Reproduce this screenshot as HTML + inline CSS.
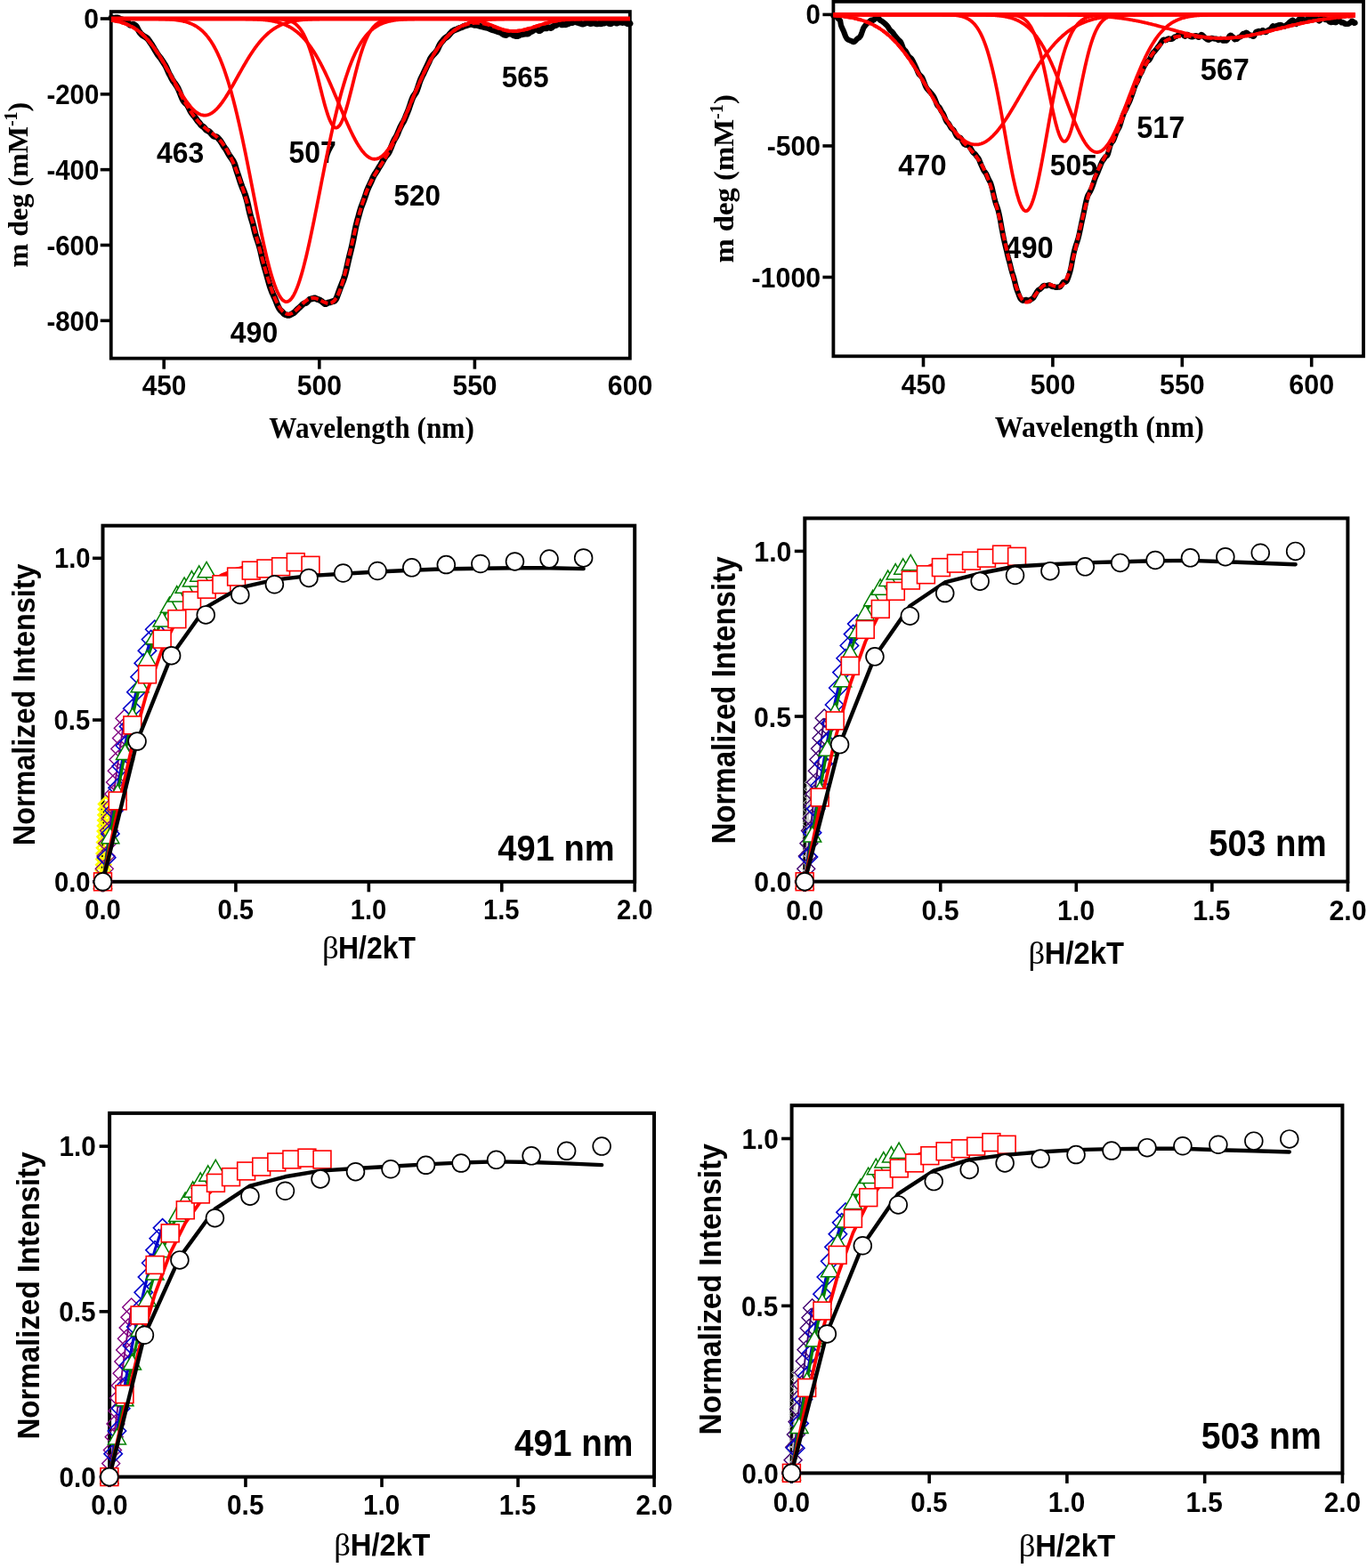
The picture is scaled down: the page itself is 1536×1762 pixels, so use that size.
<!DOCTYPE html>
<html><head><meta charset="utf-8"><title>Figure</title>
<style>html,body{margin:0;padding:0;background:#fff;} svg{display:block;}</style></head>
<body><svg width="1536" height="1762" viewBox="0 0 1536 1762">
<rect width="1536" height="1762" fill="#fff"/>
<rect x="124.75" y="13.1" width="583.1" height="389.59999999999997" fill="none" stroke="#000" stroke-width="3.8"/>
<line x1="112.75" y1="21.00" x2="124.75" y2="21.00" stroke="#000" stroke-width="3.6"/>
<line x1="112.75" y1="105.83" x2="124.75" y2="105.83" stroke="#000" stroke-width="3.6"/>
<line x1="112.75" y1="190.65" x2="124.75" y2="190.65" stroke="#000" stroke-width="3.6"/>
<line x1="112.75" y1="275.48" x2="124.75" y2="275.48" stroke="#000" stroke-width="3.6"/>
<line x1="112.75" y1="360.30" x2="124.75" y2="360.30" stroke="#000" stroke-width="3.6"/>
<line x1="184.20" y1="402.7" x2="184.20" y2="414.7" stroke="#000" stroke-width="3.6"/>
<line x1="358.79" y1="402.7" x2="358.79" y2="414.7" stroke="#000" stroke-width="3.6"/>
<line x1="533.39" y1="402.7" x2="533.39" y2="414.7" stroke="#000" stroke-width="3.6"/>
<text transform="translate(175.92,183.00) scale(0.9469,1)" font-family="'Liberation Sans', Arial, sans-serif" font-weight="bold" font-size="33.69" fill="#000" >463</text>
<text transform="translate(324.56,183.40) scale(0.9310,1)" font-family="'Liberation Sans', Arial, sans-serif" font-weight="bold" font-size="34.27" fill="#000" >507</text>
<text transform="translate(442.58,231.20) scale(0.9586,1)" font-family="'Liberation Sans', Arial, sans-serif" font-weight="bold" font-size="32.83" fill="#000" >520</text>
<text transform="translate(563.67,97.50) scale(0.9520,1)" font-family="'Liberation Sans', Arial, sans-serif" font-weight="bold" font-size="33.26" fill="#000" >565</text>
<text transform="translate(258.82,385.30) scale(0.9378,1)" font-family="'Liberation Sans', Arial, sans-serif" font-weight="bold" font-size="34.12" fill="#000" >490</text>
<path d="M125.19,20.08 L126.02,20.05 L126.85,20.13 L127.69,20.22 L128.52,20.21 L129.36,20.12 L130.19,20.01 L131.02,19.94 L131.86,19.98 L132.69,20.16 L133.52,20.51 L134.36,20.97 L135.19,21.41 L136.03,21.73 L136.86,21.96 L137.69,22.21 L138.53,22.56 L139.36,22.98 L140.19,23.35 L141.03,23.55 L141.86,23.67 L142.70,23.98 L143.53,24.77 L144.36,26.02 L145.20,27.32 L146.03,28.18 L146.86,28.35 L147.70,28.00 L148.53,27.55 L149.37,27.34 L150.20,27.48 L151.03,27.87 L151.87,28.40 L152.70,29.12 L153.53,30.21 L154.37,31.70 L155.20,33.37 L156.04,34.93 L156.87,36.20 L157.70,37.27 L158.54,38.21 L159.37,39.03 L160.20,39.72 L161.04,40.27 L161.87,40.74 L162.71,41.21 L163.54,41.68 L164.37,42.21 L165.21,42.86 L166.04,43.74 L166.87,44.83 L167.71,46.04 L168.54,47.27 L169.38,48.47 L170.21,49.68 L171.04,50.97 L171.88,52.37 L172.71,53.84 L173.54,55.28 L174.38,56.66 L175.21,57.98 L176.05,59.34 L176.88,60.69 L177.71,61.93 L178.55,63.00 L179.38,63.99 L180.22,65.06 L181.05,66.24 L181.88,67.47 L182.72,68.69 L183.55,69.95 L184.38,71.27 L185.22,72.62 L186.05,74.05 L186.89,75.66 L187.72,77.50 L188.55,79.52 L189.39,81.45 L190.22,83.11 L191.05,84.62 L191.89,86.18 L192.72,87.85 L193.56,89.47 L194.39,90.85 L195.22,92.01 L196.06,93.12 L196.89,94.30 L197.72,95.54 L198.56,96.79 L199.39,98.16 L200.23,99.75 L201.06,101.60 L201.89,103.67 L202.73,105.84 L203.56,108.02 L204.39,110.05 L205.23,111.83 L206.06,113.30 L206.90,114.46 L207.73,115.39 L208.56,116.17 L209.40,116.92 L210.23,117.78 L211.06,118.95 L211.90,120.49 L212.73,122.27 L213.57,124.04 L214.40,125.56 L215.23,126.82 L216.07,127.95 L216.90,129.04 L217.73,130.08 L218.57,131.07 L219.40,132.11 L220.24,133.26 L221.07,134.49 L221.90,135.65 L222.74,136.65 L223.57,137.56 L224.40,138.55 L225.24,139.69 L226.07,140.75 L226.91,141.51 L227.74,141.99 L228.57,142.51 L229.41,143.31 L230.24,144.34 L231.07,145.33 L231.91,146.10 L232.74,146.63 L233.58,147.03 L234.41,147.45 L235.24,148.00 L236.08,148.79 L236.91,149.76 L237.74,150.76 L238.58,151.71 L239.41,152.49 L240.25,153.04 L241.08,153.35 L241.91,153.47 L242.75,153.59 L243.58,153.91 L244.41,154.54 L245.25,155.40 L246.08,156.38 L246.92,157.40 L247.75,158.48 L248.58,159.69 L249.42,161.01 L250.25,162.47 L251.08,163.93 L251.92,165.26 L252.75,166.38 L253.59,167.44 L254.42,168.69 L255.25,170.21 L256.09,171.88 L256.92,173.41 L257.75,174.71 L258.59,175.89 L259.42,177.09 L260.26,178.31 L261.09,179.48 L261.92,180.73 L262.76,182.29 L263.59,184.36 L264.42,186.92 L265.26,189.70 L266.09,192.41 L266.93,194.97 L267.76,197.47 L268.59,200.00 L269.43,202.60 L270.26,205.17 L271.09,207.60 L271.93,209.83 L272.76,211.83 L273.60,213.75 L274.43,215.82 L275.26,218.13 L276.10,220.66 L276.93,223.43 L277.76,226.52 L278.60,230.06 L279.43,233.91 L280.27,237.73 L281.10,241.19 L281.93,244.19 L282.77,246.89 L283.60,249.62 L284.44,252.68 L285.27,256.13 L286.10,259.71 L286.94,262.98 L287.77,265.76 L288.60,268.24 L289.44,270.63 L290.27,273.12 L291.11,275.76 L291.94,278.67 L292.77,281.99 L293.61,285.68 L294.44,289.49 L295.27,293.09 L296.11,296.35 L296.94,299.30 L297.78,302.17 L298.61,305.06 L299.44,308.03 L300.28,311.05 L301.11,314.07 L301.94,317.05 L302.78,319.93 L303.61,322.66 L304.45,325.14 L305.28,327.36 L306.11,329.34 L306.95,331.15 L307.78,332.91 L308.61,334.73 L309.45,336.69 L310.28,338.79 L311.12,340.97 L311.95,343.06 L312.78,344.90 L313.62,346.43 L314.45,347.67 L315.28,348.65 L316.12,349.47 L316.95,350.29 L317.79,351.17 L318.62,352.07 L319.45,352.84 L320.29,353.37 L321.12,353.71 L321.95,353.96 L322.79,354.20 L323.62,354.34 L324.46,354.32 L325.29,354.10 L326.12,353.72 L326.96,353.28 L327.79,352.81 L328.62,352.40 L329.46,351.96 L330.29,351.43 L331.13,350.72 L331.96,349.87 L332.79,348.99 L333.63,348.14 L334.46,347.35 L335.29,346.57 L336.13,345.82 L336.96,345.09 L337.80,344.31 L338.63,343.49 L339.46,342.63 L340.30,341.86 L341.13,341.30 L341.96,340.95 L342.80,340.72 L343.63,340.41 L344.47,339.91 L345.30,339.16 L346.13,338.21 L346.97,337.27 L347.80,336.50 L348.63,336.09 L349.47,335.94 L350.30,335.85 L351.14,335.62 L351.97,335.27 L352.80,334.97 L353.64,334.94 L354.47,335.22 L355.30,335.68 L356.14,336.13 L356.97,336.46 L357.81,336.67 L358.64,336.92 L359.47,337.28 L360.31,337.78 L361.14,338.35 L361.97,338.95 L362.81,339.62 L363.64,340.39 L364.48,341.10 L365.31,341.54 L366.14,341.54 L366.98,341.15 L367.81,340.59 L368.64,340.14 L369.48,339.91 L370.31,339.82 L371.15,339.68 L371.98,339.38 L372.81,338.98 L373.65,338.65 L374.48,338.49 L375.31,338.32 L376.15,337.88 L376.98,336.97 L377.82,335.50 L378.65,333.58 L379.48,331.35 L380.32,329.03 L381.15,326.73 L381.98,324.50 L382.82,322.33 L383.65,320.22 L384.49,318.19 L385.32,316.15 L386.15,313.95 L386.99,311.46 L387.82,308.61 L388.65,305.39 L389.49,301.81 L390.32,298.01 L391.16,294.20 L391.99,290.60 L392.82,287.20 L393.66,283.88 L394.49,280.48 L395.33,276.94 L396.16,273.19 L396.99,269.18 L397.83,264.91 L398.66,260.52 L399.49,256.32 L400.33,252.56 L401.16,249.28 L402.00,246.30 L402.83,243.32 L403.66,240.24 L404.50,237.18 L405.33,234.41 L406.16,232.02 L407.00,229.89 L407.83,227.78 L408.67,225.53 L409.50,223.14 L410.33,220.63 L411.17,218.06 L412.00,215.57 L412.83,213.31 L413.67,211.33 L414.50,209.53 L415.34,207.80 L416.17,206.05 L417.00,204.27 L417.84,202.41 L418.67,200.47 L419.50,198.61 L420.34,196.98 L421.17,195.65 L422.01,194.48 L422.84,193.28 L423.67,191.93 L424.51,190.46 L425.34,188.99 L426.17,187.63 L427.01,186.31 L427.84,184.94 L428.68,183.48 L429.51,182.05 L430.34,180.66 L431.18,179.25 L432.01,177.82 L432.84,176.47 L433.68,175.35 L434.51,174.45 L435.35,173.59 L436.18,172.54 L437.01,171.18 L437.85,169.46 L438.68,167.48 L439.51,165.37 L440.35,163.25 L441.18,161.20 L442.02,159.26 L442.85,157.50 L443.68,155.98 L444.52,154.64 L445.35,153.22 L446.18,151.52 L447.02,149.55 L447.85,147.49 L448.69,145.49 L449.52,143.61 L450.35,141.87 L451.19,140.27 L452.02,138.85 L452.85,137.49 L453.69,136.02 L454.52,134.27 L455.36,132.25 L456.19,130.13 L457.02,128.08 L457.86,126.08 L458.69,124.00 L459.52,121.73 L460.36,119.25 L461.19,116.72 L462.03,114.25 L462.86,111.90 L463.69,109.83 L464.53,108.17 L465.36,106.94 L466.19,105.87 L467.03,104.63 L467.86,102.97 L468.70,100.88 L469.53,98.46 L470.36,95.86 L471.20,93.28 L472.03,90.89 L472.86,88.80 L473.70,86.97 L474.53,85.28 L475.37,83.61 L476.20,81.89 L477.03,80.09 L477.87,78.28 L478.70,76.49 L479.53,74.78 L480.37,73.07 L481.20,71.29 L482.04,69.44 L482.87,67.59 L483.70,65.86 L484.54,64.39 L485.37,63.21 L486.20,62.26 L487.04,61.39 L487.87,60.53 L488.71,59.64 L489.54,58.72 L490.37,57.68 L491.21,56.38 L492.04,54.73 L492.87,52.87 L493.71,51.04 L494.54,49.50 L495.38,48.31 L496.21,47.33 L497.04,46.34 L497.88,45.27 L498.71,44.18 L499.55,43.28 L500.38,42.62 L501.21,42.14 L502.05,41.66 L502.88,41.04 L503.71,40.22 L504.55,39.26 L505.38,38.25 L506.22,37.25 L507.05,36.33 L507.88,35.54 L508.72,34.89 L509.55,34.36 L510.38,33.94 L511.22,33.61 L512.05,33.31 L512.89,33.00 L513.72,32.66 L514.55,32.29 L515.39,31.91 L516.22,31.57 L517.05,31.26 L517.89,30.99 L518.72,30.69 L519.56,30.33 L520.39,29.91 L521.22,29.50 L522.06,29.15 L522.89,28.91 L523.72,28.72 L524.56,28.53 L525.39,28.27 L526.23,27.95 L527.06,27.61 L527.89,27.34 L528.73,27.20 L529.56,27.21 L530.39,27.37 L531.23,27.63 L532.06,27.93 L532.90,28.17 L533.73,28.27 L534.56,28.27 L535.40,28.25 L536.23,28.32 L537.06,28.53 L537.90,28.81 L538.73,29.12 L539.57,29.38 L540.40,29.57 L541.23,29.72 L542.07,29.89 L542.90,30.13 L543.73,30.43 L544.57,30.71 L545.40,30.91 L546.24,31.04 L547.07,31.16 L547.90,31.35 L548.74,31.65 L549.57,32.02 L550.40,32.41 L551.24,32.79 L552.07,33.14 L552.91,33.47 L553.74,33.74 L554.57,33.95 L555.41,34.16 L556.24,34.40 L557.07,34.69 L557.91,35.02 L558.74,35.33 L559.58,35.58 L560.41,35.79 L561.24,36.00 L562.08,36.29 L562.91,36.72 L563.74,37.28 L564.58,37.92 L565.41,38.54 L566.25,39.02 L567.08,39.29 L567.91,39.35 L568.75,39.43 L569.58,38.80 L570.41,38.18 L571.25,37.83 L572.08,37.80 L572.92,37.94 L573.75,38.05 L574.58,38.18 L575.42,38.56 L576.25,39.13 L577.08,39.62 L577.92,39.93 L578.75,40.22 L579.59,40.50 L580.42,40.60 L581.25,40.49 L582.09,40.27 L582.92,39.93 L583.75,39.42 L584.59,38.83 L585.42,38.51 L586.26,38.58 L587.09,38.66 L587.92,38.46 L588.76,38.14 L589.59,37.99 L590.42,38.05 L591.26,38.11 L592.09,38.07 L592.93,37.96 L593.76,37.67 L594.59,37.04 L595.43,36.22 L596.26,35.64 L597.09,35.38 L597.93,35.10 L598.76,34.55 L599.60,33.86 L600.43,33.30 L601.26,32.99 L602.10,32.82 L602.93,32.80 L603.77,33.17 L604.60,33.89 L605.43,34.50 L606.27,34.62 L607.10,34.20 L607.93,33.51 L608.77,32.82 L609.60,32.28 L610.44,31.84 L611.27,31.51 L612.10,31.41 L612.94,31.61 L613.77,31.86 L614.60,31.70 L615.44,31.14 L616.27,30.77 L617.11,30.88 L617.94,31.26 L618.77,31.52 L619.61,31.25 L620.44,30.45 L621.27,29.69 L622.11,29.28 L622.94,28.99 L623.78,28.73 L624.61,28.45 L625.44,27.97 L626.28,27.34 L627.11,26.71 L627.94,26.20 L628.78,26.15 L629.61,26.69 L630.45,27.37 L631.28,27.80 L632.11,27.87 L632.95,27.57 L633.78,27.24 L634.61,27.35 L635.45,27.64 L636.28,27.52 L637.12,27.06 L637.95,26.74 L638.78,26.54 L639.62,26.16 L640.45,25.69 L641.28,25.48 L642.12,25.59 L642.95,25.60 L643.79,25.24 L644.62,24.64 L645.45,24.12 L646.29,24.07 L647.12,24.53 L647.95,24.99 L648.79,25.21 L649.62,25.47 L650.46,25.80 L651.29,25.94 L652.12,26.05 L652.96,26.45 L653.79,26.93 L654.62,27.08 L655.46,26.88 L656.29,26.56 L657.13,26.29 L657.96,26.00 L658.79,25.66 L659.63,25.33 L660.46,25.17 L661.29,25.43 L662.13,26.05 L662.96,26.53 L663.80,26.52 L664.63,26.25 L665.46,26.04 L666.30,25.91 L667.13,25.85 L667.96,25.91 L668.80,26.18 L669.63,26.55 L670.47,26.78 L671.30,26.79 L672.13,26.64 L672.97,26.45 L673.80,26.41 L674.63,26.61 L675.47,26.74 L676.30,26.49 L677.14,26.10 L677.97,26.01 L678.80,26.00 L679.64,25.46 L680.47,24.60 L681.30,24.22 L682.14,24.60 L682.97,25.39 L683.81,26.08 L684.64,26.44 L685.47,26.62 L686.31,26.66 L687.14,26.27 L687.97,25.62 L688.81,25.24 L689.64,25.18 L690.48,25.18 L691.31,25.34 L692.14,25.78 L692.98,26.08 L693.81,25.87 L694.64,25.34 L695.48,24.98 L696.31,24.95 L697.15,25.04 L697.98,25.16 L698.81,25.36 L699.65,25.44 L700.48,25.26 L701.31,25.04 L702.15,25.01 L702.98,25.31 L703.82,25.91 L704.65,26.52 L705.48,26.81 L706.32,26.81 L707.15,26.64 L707.98,26.39" fill="none" stroke="#000" stroke-width="7" stroke-linejoin="round" stroke-linecap="round"/>
<path d="M125.19,22.83 L126.02,22.96 L126.85,23.09 L127.69,23.22 L128.52,23.37 L129.36,23.52 L130.19,23.68 L131.02,23.85 L131.86,24.03 L132.69,24.22 L133.52,24.42 L134.36,24.63 L135.19,24.85 L136.03,25.08 L136.86,25.33 L137.69,25.58 L138.53,25.85 L139.36,26.14 L140.19,26.43 L141.03,26.74 L141.86,27.06 L142.70,27.40 L143.53,27.76 L144.36,28.13 L145.20,28.52 L146.03,28.92 L146.86,29.34 L147.70,29.78 L148.53,30.24 L149.37,30.71 L150.20,31.21 L151.03,31.72 L151.87,32.26 L152.70,32.82 L153.53,33.39 L154.37,33.99 L155.20,34.61 L156.04,35.26 L156.87,35.92 L157.70,36.61 L158.54,37.32 L159.37,38.06 L160.20,38.82 L161.04,39.61 L161.87,40.42 L162.71,41.25 L163.54,42.11 L164.37,42.99 L165.21,43.90 L166.04,44.84 L166.87,45.80 L167.71,46.79 L168.54,47.80 L169.38,48.83 L170.21,49.90 L171.04,50.99 L171.88,52.10 L172.71,53.24 L173.54,54.40 L174.38,55.59 L175.21,56.80 L176.05,58.04 L176.88,59.30 L177.71,60.58 L178.55,61.88 L179.38,63.21 L180.22,64.56 L181.05,65.92 L181.88,67.31 L182.72,68.72 L183.55,70.14 L184.38,71.59 L185.22,73.05 L186.05,74.52 L186.89,76.01 L187.72,77.51 L188.55,79.03 L189.39,80.56 L190.22,82.10 L191.05,83.64 L191.89,85.20 L192.72,86.76 L193.56,88.33 L194.39,89.90 L195.22,91.48 L196.06,93.06 L196.89,94.63 L197.72,96.21 L198.56,97.78 L199.39,99.36 L200.23,100.92 L201.06,102.48 L201.89,104.03 L202.73,105.57 L203.56,107.10 L204.39,108.62 L205.23,110.13 L206.06,111.62 L206.90,113.09 L207.73,114.55 L208.56,115.99 L209.40,117.40 L210.23,118.80 L211.06,120.17 L211.90,121.52 L212.73,122.84 L213.57,124.14 L214.40,125.41 L215.23,126.65 L216.07,127.86 L216.90,129.04 L217.73,130.19 L218.57,131.30 L219.40,132.39 L220.24,133.44 L221.07,134.46 L221.90,135.45 L222.74,136.40 L223.57,137.32 L224.40,138.21 L225.24,139.07 L226.07,139.90 L226.91,140.69 L227.74,141.46 L228.57,142.21 L229.41,142.93 L230.24,143.62 L231.07,144.30 L231.91,144.95 L232.74,145.60 L233.58,146.23 L234.41,146.85 L235.24,147.46 L236.08,148.07 L236.91,148.69 L237.74,149.30 L238.58,149.93 L239.41,150.56 L240.25,151.21 L241.08,151.88 L241.91,152.58 L242.75,153.29 L243.58,154.04 L244.41,154.82 L245.25,155.64 L246.08,156.49 L246.92,157.39 L247.75,158.33 L248.58,159.31 L249.42,160.35 L250.25,161.43 L251.08,162.57 L251.92,163.76 L252.75,165.00 L253.59,166.30 L254.42,167.65 L255.25,169.06 L256.09,170.53 L256.92,172.06 L257.75,173.64 L258.59,175.28 L259.42,176.98 L260.26,178.74 L261.09,180.55 L261.92,182.42 L262.76,184.35 L263.59,186.33 L264.42,188.37 L265.26,190.47 L266.09,192.62 L266.93,194.83 L267.76,197.08 L268.59,199.40 L269.43,201.76 L270.26,204.18 L271.09,206.65 L271.93,209.17 L272.76,211.74 L273.60,214.36 L274.43,217.02 L275.26,219.74 L276.10,222.49 L276.93,225.30 L277.76,228.14 L278.60,231.02 L279.43,233.94 L280.27,236.90 L281.10,239.89 L281.93,242.91 L282.77,245.96 L283.60,249.03 L284.44,252.13 L285.27,255.25 L286.10,258.38 L286.94,261.53 L287.77,264.68 L288.60,267.84 L289.44,271.01 L290.27,274.17 L291.11,277.32 L291.94,280.46 L292.77,283.59 L293.61,286.70 L294.44,289.79 L295.27,292.84 L296.11,295.87 L296.94,298.86 L297.78,301.81 L298.61,304.71 L299.44,307.56 L300.28,310.36 L301.11,313.09 L301.94,315.77 L302.78,318.38 L303.61,320.91 L304.45,323.38 L305.28,325.76 L306.11,328.06 L306.95,330.27 L307.78,332.39 L308.61,334.42 L309.45,336.36 L310.28,338.19 L311.12,339.93 L311.95,341.56 L312.78,343.09 L313.62,344.50 L314.45,345.81 L315.28,347.01 L316.12,348.10 L316.95,349.08 L317.79,349.95 L318.62,350.70 L319.45,351.35 L320.29,351.88 L321.12,352.31 L321.95,352.63 L322.79,352.85 L323.62,352.96 L324.46,352.98 L325.29,352.90 L326.12,352.73 L326.96,352.46 L327.79,352.12 L328.62,351.70 L329.46,351.20 L330.29,350.64 L331.13,350.02 L331.96,349.34 L332.79,348.61 L333.63,347.85 L334.46,347.05 L335.29,346.22 L336.13,345.37 L336.96,344.51 L337.80,343.65 L338.63,342.79 L339.46,341.95 L340.30,341.12 L341.13,340.32 L341.96,339.56 L342.80,338.83 L343.63,338.15 L344.47,337.52 L345.30,336.95 L346.13,336.45 L346.97,336.01 L347.80,335.63 L348.63,335.33 L349.47,335.10 L350.30,334.95 L351.14,334.86 L351.97,334.85 L352.80,334.90 L353.64,335.02 L354.47,335.20 L355.30,335.43 L356.14,335.72 L356.97,336.04 L357.81,336.40 L358.64,336.79 L359.47,337.20 L360.31,337.62 L361.14,338.05 L361.97,338.48 L362.81,338.89 L363.64,339.29 L364.48,339.66 L365.31,339.99 L366.14,340.29 L366.98,340.52 L367.81,340.70 L368.64,340.82 L369.48,340.85 L370.31,340.79 L371.15,340.64 L371.98,340.39 L372.81,340.02 L373.65,339.52 L374.48,338.89 L375.31,338.12 L376.15,337.20 L376.98,336.12 L377.82,334.87 L378.65,333.45 L379.48,331.86 L380.32,330.10 L381.15,328.15 L381.98,326.03 L382.82,323.74 L383.65,321.28 L384.49,318.66 L385.32,315.88 L386.15,312.96 L386.99,309.91 L387.82,306.73 L388.65,303.44 L389.49,300.05 L390.32,296.59 L391.16,293.05 L391.99,289.46 L392.82,285.83 L393.66,282.17 L394.49,278.50 L395.33,274.83 L396.16,271.18 L396.99,267.55 L397.83,263.95 L398.66,260.40 L399.49,256.91 L400.33,253.49 L401.16,250.14 L402.00,246.87 L402.83,243.68 L403.66,240.58 L404.50,237.58 L405.33,234.68 L406.16,231.87 L407.00,229.16 L407.83,226.56 L408.67,224.05 L409.50,221.64 L410.33,219.33 L411.17,217.12 L412.00,214.99 L412.83,212.95 L413.67,211.00 L414.50,209.13 L415.34,207.32 L416.17,205.59 L417.00,203.93 L417.84,202.32 L418.67,200.76 L419.50,199.26 L420.34,197.79 L421.17,196.36 L422.01,194.97 L422.84,193.60 L423.67,192.25 L424.51,190.92 L425.34,189.60 L426.17,188.29 L427.01,186.98 L427.84,185.67 L428.68,184.35 L429.51,183.03 L430.34,181.70 L431.18,180.35 L432.01,178.99 L432.84,177.60 L433.68,176.20 L434.51,174.77 L435.35,173.32 L436.18,171.85 L437.01,170.35 L437.85,168.82 L438.68,167.26 L439.51,165.68 L440.35,164.07 L441.18,162.43 L442.02,160.76 L442.85,159.06 L443.68,157.34 L444.52,155.59 L445.35,153.82 L446.18,152.02 L447.02,150.19 L447.85,148.35 L448.69,146.48 L449.52,144.59 L450.35,142.68 L451.19,140.76 L452.02,138.82 L452.85,136.86 L453.69,134.90 L454.52,132.92 L455.36,130.93 L456.19,128.93 L457.02,126.92 L457.86,124.91 L458.69,122.89 L459.52,120.88 L460.36,118.86 L461.19,116.84 L462.03,114.83 L462.86,112.82 L463.69,110.81 L464.53,108.81 L465.36,106.83 L466.19,104.85 L467.03,102.88 L467.86,100.92 L468.70,98.98 L469.53,97.05 L470.36,95.14 L471.20,93.25 L472.03,91.37 L472.86,89.52 L473.70,87.68 L474.53,85.87 L475.37,84.08 L476.20,82.31 L477.03,80.56 L477.87,78.85 L478.70,77.15 L479.53,75.49 L480.37,73.85 L481.20,72.23 L482.04,70.65 L482.87,69.09 L483.70,67.57 L484.54,66.07 L485.37,64.60 L486.20,63.16 L487.04,61.75 L487.87,60.37 L488.71,59.03 L489.54,57.71 L490.37,56.42 L491.21,55.16 L492.04,53.94 L492.87,52.74 L493.71,51.58 L494.54,50.44 L495.38,49.34 L496.21,48.26 L497.04,47.22 L497.88,46.21 L498.71,45.22 L499.55,44.26 L500.38,43.33 L501.21,42.43 L502.05,41.56 L502.88,40.72 L503.71,39.90 L504.55,39.11 L505.38,38.35 L506.22,37.61 L507.05,36.90 L507.88,36.22 L508.72,35.56 L509.55,34.92 L510.38,34.31 L511.22,33.73 L512.05,33.16 L512.89,32.62 L513.72,32.11 L514.55,31.61 L515.39,31.14 L516.22,30.69 L517.05,30.26 L517.89,29.85 L518.72,29.46 L519.56,29.10 L520.39,28.75 L521.22,28.42 L522.06,28.12 L522.89,27.83 L523.72,27.56 L524.56,27.32 L525.39,27.09 L526.23,26.88 L527.06,26.69 L527.89,26.52 L528.73,26.36 L529.56,26.23 L530.39,26.11 L531.23,26.01 L532.06,25.93 L532.90,25.87 L533.73,25.83 L534.56,25.80 L535.40,25.79 L536.23,25.80 L537.06,25.83 L537.90,25.87 L538.73,25.93 L539.57,26.01 L540.40,26.10 L541.23,26.22 L542.07,26.34 L542.90,26.48 L543.73,26.64 L544.57,26.81 L545.40,27.00 L546.24,27.20 L547.07,27.41 L547.90,27.64 L548.74,27.87 L549.57,28.12 L550.40,28.38 L551.24,28.65 L552.07,28.92 L552.91,29.20 L553.74,29.49 L554.57,29.78 L555.41,30.08 L556.24,30.38 L557.07,30.68 L557.91,30.98 L558.74,31.27 L559.58,31.57 L560.41,31.86 L561.24,32.15 L562.08,32.43 L562.91,32.70 L563.74,32.97 L564.58,33.22 L565.41,33.46 L566.25,33.69 L567.08,33.90 L567.91,34.10 L568.75,34.29 L569.58,34.45 L570.41,34.60 L571.25,34.73 L572.08,34.84 L572.92,34.93 L573.75,35.00 L574.58,35.05 L575.42,35.08 L576.25,35.09 L577.08,35.07 L577.92,35.05 L578.75,35.01 L579.59,34.95 L580.42,34.89 L581.25,34.81 L582.09,34.71 L582.92,34.61 L583.75,34.49 L584.59,34.36 L585.42,34.22 L586.26,34.06 L587.09,33.90 L587.92,33.72 L588.76,33.53 L589.59,33.34 L590.42,33.13 L591.26,32.92 L592.09,32.70 L592.93,32.47 L593.76,32.23 L594.59,31.99 L595.43,31.74 L596.26,31.49 L597.09,31.23 L597.93,30.97 L598.76,30.71 L599.60,30.44 L600.43,30.18 L601.26,29.91 L602.10,29.64 L602.93,29.36 L603.77,29.09 L604.60,28.82 L605.43,28.56 L606.27,28.29 L607.10,28.03 L607.93,27.76 L608.77,27.51 L609.60,27.25 L610.44,27.00 L611.27,26.75 L612.10,26.51 L612.94,26.27 L613.77,26.04 L614.60,25.82 L615.44,25.59 L616.27,25.38 L617.11,25.17 L617.94,24.97 L618.77,24.77 L619.61,24.58 L620.44,24.39 L621.27,24.21 L622.11,24.04 L622.94,23.87 L623.78,23.71 L624.61,23.56 L625.44,23.41 L626.28,23.27 L627.11,23.14 L627.94,23.01 L628.78,22.89 L629.61,22.77 L630.45,22.66 L631.28,22.55 L632.11,22.45 L632.95,22.35 L633.78,22.26 L634.61,22.18 L635.45,22.10 L636.28,22.02 L637.12,21.95 L637.95,21.88 L638.78,21.82 L639.62,21.76 L640.45,21.70 L641.28,21.65 L642.12,21.60 L642.95,21.55 L643.79,21.51 L644.62,21.47 L645.45,21.43 L646.29,21.40 L647.12,21.36 L647.95,21.33 L648.79,21.31 L649.62,21.28 L650.46,21.26 L651.29,21.23 L652.12,21.21 L652.96,21.19 L653.79,21.18 L654.62,21.16 L655.46,21.15 L656.29,21.13 L657.13,21.12 L657.96,21.11 L658.79,21.10 L659.63,21.09 L660.46,21.08 L661.29,21.07 L662.13,21.07 L662.96,21.06 L663.80,21.05 L664.63,21.05 L665.46,21.04 L666.30,21.04 L667.13,21.03 L667.96,21.03 L668.80,21.03 L669.63,21.02 L670.47,21.02 L671.30,21.02 L672.13,21.02 L672.97,21.02 L673.80,21.01 L674.63,21.01 L675.47,21.01 L676.30,21.01 L677.14,21.01 L677.97,21.01 L678.80,21.01 L679.64,21.01 L680.47,21.01 L681.30,21.00 L682.14,21.00 L682.97,21.00 L683.81,21.00 L684.64,21.00 L685.47,21.00 L686.31,21.00 L687.14,21.00 L687.97,21.00 L688.81,21.00 L689.64,21.00 L690.48,21.00 L691.31,21.00 L692.14,21.00 L692.98,21.00 L693.81,21.00 L694.64,21.00 L695.48,21.00 L696.31,21.00 L697.15,21.00 L697.98,21.00 L698.81,21.00 L699.65,21.00 L700.48,21.00 L701.31,21.00 L702.15,21.00 L702.98,21.00 L703.82,21.00 L704.65,21.00 L705.48,21.00 L706.32,21.00 L707.15,21.00 L707.98,21.00" fill="none" stroke="#f00" stroke-width="4.0" stroke-dasharray="8.5 3.2"/>
<line x1="125.19" y1="21.00" x2="707.98" y2="21.00" stroke="#f00" stroke-width="4.8"/>
<path d="M125.19,22.83 L126.02,22.96 L126.85,23.08 L127.69,23.22 L128.52,23.37 L129.36,23.52 L130.19,23.68 L131.02,23.85 L131.86,24.03 L132.69,24.22 L133.52,24.42 L134.36,24.63 L135.19,24.85 L136.03,25.08 L136.86,25.33 L137.69,25.58 L138.53,25.85 L139.36,26.13 L140.19,26.43 L141.03,26.74 L141.86,27.06 L142.70,27.40 L143.53,27.75 L144.36,28.12 L145.20,28.51 L146.03,28.91 L146.86,29.33 L147.70,29.77 L148.53,30.23 L149.37,30.70 L150.20,31.20 L151.03,31.71 L151.87,32.25 L152.70,32.80 L153.53,33.38 L154.37,33.98 L155.20,34.60 L156.04,35.24 L156.87,35.90 L157.70,36.59 L158.54,37.30 L159.37,38.03 L160.20,38.79 L161.04,39.57 L161.87,40.38 L162.71,41.21 L163.54,42.06 L164.37,42.94 L165.21,43.85 L166.04,44.78 L166.87,45.73 L167.71,46.71 L168.54,47.71 L169.38,48.74 L170.21,49.80 L171.04,50.88 L171.88,51.98 L172.71,53.11 L173.54,54.26 L174.38,55.44 L175.21,56.63 L176.05,57.86 L176.88,59.10 L177.71,60.36 L178.55,61.65 L179.38,62.95 L180.22,64.28 L181.05,65.62 L181.88,66.99 L182.72,68.36 L183.55,69.76 L184.38,71.17 L185.22,72.60 L186.05,74.03 L186.89,75.48 L187.72,76.94 L188.55,78.41 L189.39,79.89 L190.22,81.37 L191.05,82.86 L191.89,84.36 L192.72,85.85 L193.56,87.35 L194.39,88.85 L195.22,90.34 L196.06,91.83 L196.89,93.32 L197.72,94.80 L198.56,96.27 L199.39,97.73 L200.23,99.18 L201.06,100.61 L201.89,102.03 L202.73,103.43 L203.56,104.81 L204.39,106.17 L205.23,107.51 L206.06,108.82 L206.90,110.11 L207.73,111.37 L208.56,112.60 L209.40,113.80 L210.23,114.96 L211.06,116.10 L211.90,117.19 L212.73,118.25 L213.57,119.27 L214.40,120.24 L215.23,121.18 L216.07,122.07 L216.90,122.92 L217.73,123.72 L218.57,124.47 L219.40,125.18 L220.24,125.84 L221.07,126.44 L221.90,127.00 L222.74,127.50 L223.57,127.95 L224.40,128.35 L225.24,128.69 L226.07,128.97 L226.91,129.21 L227.74,129.38 L228.57,129.50 L229.41,129.57 L230.24,129.57 L231.07,129.53 L231.91,129.42 L232.74,129.26 L233.58,129.05 L234.41,128.77 L235.24,128.45 L236.08,128.07 L236.91,127.63 L237.74,127.15 L238.58,126.61 L239.41,126.02 L240.25,125.37 L241.08,124.68 L241.91,123.94 L242.75,123.16 L243.58,122.32 L244.41,121.44 L245.25,120.52 L246.08,119.55 L246.92,118.55 L247.75,117.50 L248.58,116.42 L249.42,115.29 L250.25,114.14 L251.08,112.95 L251.92,111.73 L252.75,110.48 L253.59,109.20 L254.42,107.89 L255.25,106.56 L256.09,105.21 L256.92,103.83 L257.75,102.43 L258.59,101.02 L259.42,99.59 L260.26,98.15 L261.09,96.69 L261.92,95.22 L262.76,93.75 L263.59,92.26 L264.42,90.77 L265.26,89.28 L266.09,87.78 L266.93,86.29 L267.76,84.79 L268.59,83.29 L269.43,81.80 L270.26,80.32 L271.09,78.84 L271.93,77.36 L272.76,75.90 L273.60,74.45 L274.43,73.01 L275.26,71.58 L276.10,70.17 L276.93,68.77 L277.76,67.38 L278.60,66.01 L279.43,64.67 L280.27,63.33 L281.10,62.02 L281.93,60.73 L282.77,59.46 L283.60,58.21 L284.44,56.98 L285.27,55.78 L286.10,54.60 L286.94,53.44 L287.77,52.30 L288.60,51.19 L289.44,50.11 L290.27,49.05 L291.11,48.01 L291.94,47.00 L292.77,46.01 L293.61,45.05 L294.44,44.11 L295.27,43.20 L296.11,42.31 L296.94,41.45 L297.78,40.61 L298.61,39.80 L299.44,39.01 L300.28,38.25 L301.11,37.51 L301.94,36.79 L302.78,36.10 L303.61,35.43 L304.45,34.78 L305.28,34.15 L306.11,33.55 L306.95,32.97 L307.78,32.41 L308.61,31.87 L309.45,31.35 L310.28,30.84 L311.12,30.36 L311.95,29.90 L312.78,29.46 L313.62,29.03 L314.45,28.62 L315.28,28.23 L316.12,27.86 L316.95,27.50 L317.79,27.16 L318.62,26.83 L319.45,26.52 L320.29,26.22 L321.12,25.93 L321.95,25.66 L322.79,25.40 L323.62,25.15 L324.46,24.92 L325.29,24.69 L326.12,24.48 L326.96,24.28 L327.79,24.09 L328.62,23.90 L329.46,23.73 L330.29,23.57 L331.13,23.41 L331.96,23.26 L332.79,23.12 L333.63,22.99 L334.46,22.87 L335.29,22.75 L336.13,22.64 L336.96,22.53 L337.80,22.43 L338.63,22.34 L339.46,22.25 L340.30,22.17 L341.13,22.09 L341.96,22.02 L342.80,21.95 L343.63,21.89 L344.47,21.83 L345.30,21.77 L346.13,21.72 L346.97,21.67 L347.80,21.62 L348.63,21.58 L349.47,21.53 L350.30,21.50 L351.14,21.46 L351.97,21.43 L352.80,21.40 L353.64,21.37 L354.47,21.34 L355.30,21.31 L356.14,21.29 L356.97,21.27 L357.81,21.25 L358.64,21.23 L359.47,21.21 L360.31,21.20 L361.14,21.18 L361.97,21.17 L362.81,21.15 L363.64,21.14 L364.48,21.13 L365.31,21.12 L366.14,21.11 L366.98,21.10 L367.81,21.09 L368.64,21.08 L369.48,21.08 L370.31,21.07 L371.15,21.07 L371.98,21.06 L372.81,21.05 L373.65,21.05 L374.48,21.05 L375.31,21.04 L376.15,21.04 L376.98,21.03 L377.82,21.03 L378.65,21.03 L379.48,21.03 L380.32,21.02 L381.15,21.02 L381.98,21.02 L382.82,21.02 L383.65,21.02 L384.49,21.02 L385.32,21.01 L386.15,21.01 L386.99,21.01 L387.82,21.01 L388.65,21.01 L389.49,21.01 L390.32,21.01 L391.16,21.01 L391.99,21.01 L392.82,21.01 L393.66,21.01 L394.49,21.00 L395.33,21.00 L396.16,21.00 L396.99,21.00 L397.83,21.00 L398.66,21.00 L399.49,21.00 L400.33,21.00 L401.16,21.00 L402.00,21.00 L402.83,21.00 L403.66,21.00 L404.50,21.00 L405.33,21.00 L406.16,21.00 L407.00,21.00 L407.83,21.00 L408.67,21.00 L409.50,21.00 L410.33,21.00 L411.17,21.00 L412.00,21.00 L412.83,21.00 L413.67,21.00 L414.50,21.00 L415.34,21.00 L416.17,21.00 L417.00,21.00 L417.84,21.00 L418.67,21.00 L419.50,21.00 L420.34,21.00 L421.17,21.00 L422.01,21.00 L422.84,21.00 L423.67,21.00 L424.51,21.00 L425.34,21.00 L426.17,21.00 L427.01,21.00 L427.84,21.00 L428.68,21.00 L429.51,21.00 L430.34,21.00 L431.18,21.00 L432.01,21.00 L432.84,21.00 L433.68,21.00 L434.51,21.00 L435.35,21.00 L436.18,21.00 L437.01,21.00 L437.85,21.00 L438.68,21.00 L439.51,21.00 L440.35,21.00 L441.18,21.00 L442.02,21.00 L442.85,21.00 L443.68,21.00 L444.52,21.00 L445.35,21.00 L446.18,21.00 L447.02,21.00 L447.85,21.00 L448.69,21.00 L449.52,21.00 L450.35,21.00 L451.19,21.00 L452.02,21.00 L452.85,21.00 L453.69,21.00 L454.52,21.00 L455.36,21.00 L456.19,21.00 L457.02,21.00 L457.86,21.00 L458.69,21.00 L459.52,21.00 L460.36,21.00 L461.19,21.00 L462.03,21.00 L462.86,21.00 L463.69,21.00 L464.53,21.00 L465.36,21.00 L466.19,21.00 L467.03,21.00 L467.86,21.00 L468.70,21.00 L469.53,21.00 L470.36,21.00 L471.20,21.00 L472.03,21.00 L472.86,21.00 L473.70,21.00 L474.53,21.00 L475.37,21.00 L476.20,21.00 L477.03,21.00 L477.87,21.00 L478.70,21.00 L479.53,21.00 L480.37,21.00 L481.20,21.00 L482.04,21.00 L482.87,21.00 L483.70,21.00 L484.54,21.00 L485.37,21.00 L486.20,21.00 L487.04,21.00 L487.87,21.00 L488.71,21.00 L489.54,21.00 L490.37,21.00 L491.21,21.00 L492.04,21.00 L492.87,21.00 L493.71,21.00 L494.54,21.00 L495.38,21.00 L496.21,21.00 L497.04,21.00 L497.88,21.00 L498.71,21.00 L499.55,21.00 L500.38,21.00 L501.21,21.00 L502.05,21.00 L502.88,21.00 L503.71,21.00 L504.55,21.00 L505.38,21.00 L506.22,21.00 L507.05,21.00 L507.88,21.00 L508.72,21.00 L509.55,21.00 L510.38,21.00 L511.22,21.00 L512.05,21.00 L512.89,21.00 L513.72,21.00 L514.55,21.00 L515.39,21.00 L516.22,21.00 L517.05,21.00 L517.89,21.00 L518.72,21.00 L519.56,21.00 L520.39,21.00 L521.22,21.00 L522.06,21.00 L522.89,21.00 L523.72,21.00 L524.56,21.00 L525.39,21.00 L526.23,21.00 L527.06,21.00 L527.89,21.00 L528.73,21.00 L529.56,21.00 L530.39,21.00 L531.23,21.00 L532.06,21.00 L532.90,21.00 L533.73,21.00 L534.56,21.00 L535.40,21.00 L536.23,21.00 L537.06,21.00 L537.90,21.00 L538.73,21.00 L539.57,21.00 L540.40,21.00 L541.23,21.00 L542.07,21.00 L542.90,21.00 L543.73,21.00 L544.57,21.00 L545.40,21.00 L546.24,21.00 L547.07,21.00 L547.90,21.00 L548.74,21.00 L549.57,21.00 L550.40,21.00 L551.24,21.00 L552.07,21.00 L552.91,21.00 L553.74,21.00 L554.57,21.00 L555.41,21.00 L556.24,21.00 L557.07,21.00 L557.91,21.00 L558.74,21.00 L559.58,21.00 L560.41,21.00 L561.24,21.00 L562.08,21.00 L562.91,21.00 L563.74,21.00 L564.58,21.00 L565.41,21.00 L566.25,21.00 L567.08,21.00 L567.91,21.00 L568.75,21.00 L569.58,21.00 L570.41,21.00 L571.25,21.00 L572.08,21.00 L572.92,21.00 L573.75,21.00 L574.58,21.00 L575.42,21.00 L576.25,21.00 L577.08,21.00 L577.92,21.00 L578.75,21.00 L579.59,21.00 L580.42,21.00 L581.25,21.00 L582.09,21.00 L582.92,21.00 L583.75,21.00 L584.59,21.00 L585.42,21.00 L586.26,21.00 L587.09,21.00 L587.92,21.00 L588.76,21.00 L589.59,21.00 L590.42,21.00 L591.26,21.00 L592.09,21.00 L592.93,21.00 L593.76,21.00 L594.59,21.00 L595.43,21.00 L596.26,21.00 L597.09,21.00 L597.93,21.00 L598.76,21.00 L599.60,21.00 L600.43,21.00 L601.26,21.00 L602.10,21.00 L602.93,21.00 L603.77,21.00 L604.60,21.00 L605.43,21.00 L606.27,21.00 L607.10,21.00 L607.93,21.00 L608.77,21.00 L609.60,21.00 L610.44,21.00 L611.27,21.00 L612.10,21.00 L612.94,21.00 L613.77,21.00 L614.60,21.00 L615.44,21.00 L616.27,21.00 L617.11,21.00 L617.94,21.00 L618.77,21.00 L619.61,21.00 L620.44,21.00 L621.27,21.00 L622.11,21.00 L622.94,21.00 L623.78,21.00 L624.61,21.00 L625.44,21.00 L626.28,21.00 L627.11,21.00 L627.94,21.00 L628.78,21.00 L629.61,21.00 L630.45,21.00 L631.28,21.00 L632.11,21.00 L632.95,21.00 L633.78,21.00 L634.61,21.00 L635.45,21.00 L636.28,21.00 L637.12,21.00 L637.95,21.00 L638.78,21.00 L639.62,21.00 L640.45,21.00 L641.28,21.00 L642.12,21.00 L642.95,21.00 L643.79,21.00 L644.62,21.00 L645.45,21.00 L646.29,21.00 L647.12,21.00 L647.95,21.00 L648.79,21.00 L649.62,21.00 L650.46,21.00 L651.29,21.00 L652.12,21.00 L652.96,21.00 L653.79,21.00 L654.62,21.00 L655.46,21.00 L656.29,21.00 L657.13,21.00 L657.96,21.00 L658.79,21.00 L659.63,21.00 L660.46,21.00 L661.29,21.00 L662.13,21.00 L662.96,21.00 L663.80,21.00 L664.63,21.00 L665.46,21.00 L666.30,21.00 L667.13,21.00 L667.96,21.00 L668.80,21.00 L669.63,21.00 L670.47,21.00 L671.30,21.00 L672.13,21.00 L672.97,21.00 L673.80,21.00 L674.63,21.00 L675.47,21.00 L676.30,21.00 L677.14,21.00 L677.97,21.00 L678.80,21.00 L679.64,21.00 L680.47,21.00 L681.30,21.00 L682.14,21.00 L682.97,21.00 L683.81,21.00 L684.64,21.00 L685.47,21.00 L686.31,21.00 L687.14,21.00 L687.97,21.00 L688.81,21.00 L689.64,21.00 L690.48,21.00 L691.31,21.00 L692.14,21.00 L692.98,21.00 L693.81,21.00 L694.64,21.00 L695.48,21.00 L696.31,21.00 L697.15,21.00 L697.98,21.00 L698.81,21.00 L699.65,21.00 L700.48,21.00 L701.31,21.00 L702.15,21.00 L702.98,21.00 L703.82,21.00 L704.65,21.00 L705.48,21.00 L706.32,21.00 L707.15,21.00 L707.98,21.00" fill="none" stroke="#f00" stroke-width="3.8" stroke-linejoin="round"/>
<path d="M125.19,21.00 L126.02,21.00 L126.85,21.00 L127.69,21.00 L128.52,21.00 L129.36,21.00 L130.19,21.00 L131.02,21.00 L131.86,21.00 L132.69,21.00 L133.52,21.00 L134.36,21.00 L135.19,21.00 L136.03,21.00 L136.86,21.00 L137.69,21.00 L138.53,21.00 L139.36,21.00 L140.19,21.00 L141.03,21.00 L141.86,21.00 L142.70,21.00 L143.53,21.00 L144.36,21.00 L145.20,21.01 L146.03,21.01 L146.86,21.01 L147.70,21.01 L148.53,21.01 L149.37,21.01 L150.20,21.01 L151.03,21.01 L151.87,21.01 L152.70,21.01 L153.53,21.02 L154.37,21.02 L155.20,21.02 L156.04,21.02 L156.87,21.02 L157.70,21.02 L158.54,21.03 L159.37,21.03 L160.20,21.03 L161.04,21.04 L161.87,21.04 L162.71,21.04 L163.54,21.05 L164.37,21.05 L165.21,21.06 L166.04,21.06 L166.87,21.07 L167.71,21.08 L168.54,21.08 L169.38,21.09 L170.21,21.10 L171.04,21.11 L171.88,21.12 L172.71,21.13 L173.54,21.14 L174.38,21.15 L175.21,21.17 L176.05,21.18 L176.88,21.20 L177.71,21.22 L178.55,21.23 L179.38,21.26 L180.22,21.28 L181.05,21.30 L181.88,21.33 L182.72,21.35 L183.55,21.38 L184.38,21.42 L185.22,21.45 L186.05,21.49 L186.89,21.53 L187.72,21.57 L188.55,21.62 L189.39,21.67 L190.22,21.72 L191.05,21.78 L191.89,21.84 L192.72,21.91 L193.56,21.98 L194.39,22.06 L195.22,22.14 L196.06,22.23 L196.89,22.32 L197.72,22.42 L198.56,22.53 L199.39,22.64 L200.23,22.76 L201.06,22.89 L201.89,23.03 L202.73,23.18 L203.56,23.34 L204.39,23.50 L205.23,23.68 L206.06,23.87 L206.90,24.07 L207.73,24.28 L208.56,24.51 L209.40,24.75 L210.23,25.01 L211.06,25.28 L211.90,25.56 L212.73,25.86 L213.57,26.18 L214.40,26.52 L215.23,26.88 L216.07,27.26 L216.90,27.65 L217.73,28.07 L218.57,28.52 L219.40,28.98 L220.24,29.48 L221.07,29.99 L221.90,30.54 L222.74,31.11 L223.57,31.71 L224.40,32.35 L225.24,33.01 L226.07,33.70 L226.91,34.43 L227.74,35.20 L228.57,36.00 L229.41,36.84 L230.24,37.72 L231.07,38.63 L231.91,39.59 L232.74,40.59 L233.58,41.64 L234.41,42.73 L235.24,43.87 L236.08,45.05 L236.91,46.28 L237.74,47.57 L238.58,48.90 L239.41,50.29 L240.25,51.73 L241.08,53.23 L241.91,54.78 L242.75,56.39 L243.58,58.06 L244.41,59.79 L245.25,61.58 L246.08,63.43 L246.92,65.34 L247.75,67.32 L248.58,69.36 L249.42,71.47 L250.25,73.65 L251.08,75.89 L251.92,78.20 L252.75,80.57 L253.59,83.02 L254.42,85.53 L255.25,88.11 L256.09,90.77 L256.92,93.49 L257.75,96.28 L258.59,99.14 L259.42,102.07 L260.26,105.07 L261.09,108.13 L261.92,111.27 L262.76,114.47 L263.59,117.73 L264.42,121.07 L265.26,124.46 L266.09,127.92 L266.93,131.44 L267.76,135.02 L268.59,138.66 L269.43,142.36 L270.26,146.11 L271.09,149.92 L271.93,153.77 L272.76,157.68 L273.60,161.63 L274.43,165.62 L275.26,169.66 L276.10,173.73 L276.93,177.84 L277.76,181.97 L278.60,186.14 L279.43,190.33 L280.27,194.55 L281.10,198.78 L281.93,203.03 L282.77,207.28 L283.60,211.55 L284.44,215.81 L285.27,220.08 L286.10,224.33 L286.94,228.58 L287.77,232.81 L288.60,237.02 L289.44,241.21 L290.27,245.37 L291.11,249.50 L291.94,253.59 L292.77,257.64 L293.61,261.64 L294.44,265.58 L295.27,269.48 L296.11,273.31 L296.94,277.07 L297.78,280.76 L298.61,284.38 L299.44,287.92 L300.28,291.37 L301.11,294.73 L301.94,298.00 L302.78,301.17 L303.61,304.24 L304.45,307.20 L305.28,310.06 L306.11,312.80 L306.95,315.42 L307.78,317.92 L308.61,320.29 L309.45,322.53 L310.28,324.65 L311.12,326.63 L311.95,328.47 L312.78,330.17 L313.62,331.73 L314.45,333.14 L315.28,334.41 L316.12,335.53 L316.95,336.50 L317.79,337.32 L318.62,337.98 L319.45,338.49 L320.29,338.85 L321.12,339.05 L321.95,339.09 L322.79,338.98 L323.62,338.72 L324.46,338.30 L325.29,337.72 L326.12,337.00 L326.96,336.12 L327.79,335.08 L328.62,333.90 L329.46,332.57 L330.29,331.10 L331.13,329.48 L331.96,327.72 L332.79,325.82 L333.63,323.79 L334.46,321.62 L335.29,319.32 L336.13,316.89 L336.96,314.34 L337.80,311.67 L338.63,308.88 L339.46,305.99 L340.30,302.98 L341.13,299.87 L341.96,296.65 L342.80,293.34 L343.63,289.94 L344.47,286.45 L345.30,282.88 L346.13,279.23 L346.97,275.51 L347.80,271.72 L348.63,267.87 L349.47,263.95 L350.30,259.98 L351.14,255.96 L351.97,251.89 L352.80,247.79 L353.64,243.65 L354.47,239.47 L355.30,235.28 L356.14,231.05 L356.97,226.82 L357.81,222.56 L358.64,218.30 L359.47,214.04 L360.31,209.77 L361.14,205.51 L361.97,201.26 L362.81,197.02 L363.64,192.79 L364.48,188.59 L365.31,184.41 L366.14,180.25 L366.98,176.12 L367.81,172.03 L368.64,167.97 L369.48,163.96 L370.31,159.98 L371.15,156.05 L371.98,152.16 L372.81,148.33 L373.65,144.55 L374.48,140.82 L375.31,137.14 L376.15,133.53 L376.98,129.97 L377.82,126.48 L378.65,123.04 L379.48,119.67 L380.32,116.37 L381.15,113.13 L381.98,109.95 L382.82,106.85 L383.65,103.81 L384.49,100.84 L385.32,97.94 L386.15,95.11 L386.99,92.35 L387.82,89.65 L388.65,87.03 L389.49,84.48 L390.32,81.99 L391.16,79.58 L391.99,77.23 L392.82,74.95 L393.66,72.73 L394.49,70.59 L395.33,68.51 L396.16,66.49 L396.99,64.54 L397.83,62.65 L398.66,60.82 L399.49,59.06 L400.33,57.36 L401.16,55.71 L402.00,54.13 L402.83,52.60 L403.66,51.12 L404.50,49.70 L405.33,48.34 L406.16,47.03 L407.00,45.76 L407.83,44.55 L408.67,43.39 L409.50,42.27 L410.33,41.20 L411.17,40.17 L412.00,39.19 L412.83,38.25 L413.67,37.35 L414.50,36.49 L415.34,35.66 L416.17,34.88 L417.00,34.13 L417.84,33.41 L418.67,32.73 L419.50,32.08 L420.34,31.46 L421.17,30.87 L422.01,30.31 L422.84,29.78 L423.67,29.27 L424.51,28.79 L425.34,28.33 L426.17,27.90 L427.01,27.49 L427.84,27.10 L428.68,26.73 L429.51,26.38 L430.34,26.05 L431.18,25.74 L432.01,25.44 L432.84,25.16 L433.68,24.90 L434.51,24.65 L435.35,24.42 L436.18,24.19 L437.01,23.99 L437.85,23.79 L438.68,23.61 L439.51,23.43 L440.35,23.27 L441.18,23.12 L442.02,22.97 L442.85,22.84 L443.68,22.71 L444.52,22.59 L445.35,22.48 L446.18,22.38 L447.02,22.28 L447.85,22.19 L448.69,22.11 L449.52,22.03 L450.35,21.95 L451.19,21.88 L452.02,21.82 L452.85,21.76 L453.69,21.70 L454.52,21.65 L455.36,21.60 L456.19,21.55 L457.02,21.51 L457.86,21.47 L458.69,21.44 L459.52,21.40 L460.36,21.37 L461.19,21.34 L462.03,21.32 L462.86,21.29 L463.69,21.27 L464.53,21.25 L465.36,21.23 L466.19,21.21 L467.03,21.19 L467.86,21.18 L468.70,21.16 L469.53,21.15 L470.36,21.14 L471.20,21.12 L472.03,21.11 L472.86,21.10 L473.70,21.10 L474.53,21.09 L475.37,21.08 L476.20,21.07 L477.03,21.07 L477.87,21.06 L478.70,21.06 L479.53,21.05 L480.37,21.05 L481.20,21.04 L482.04,21.04 L482.87,21.03 L483.70,21.03 L484.54,21.03 L485.37,21.03 L486.20,21.02 L487.04,21.02 L487.87,21.02 L488.71,21.02 L489.54,21.02 L490.37,21.01 L491.21,21.01 L492.04,21.01 L492.87,21.01 L493.71,21.01 L494.54,21.01 L495.38,21.01 L496.21,21.01 L497.04,21.01 L497.88,21.01 L498.71,21.01 L499.55,21.00 L500.38,21.00 L501.21,21.00 L502.05,21.00 L502.88,21.00 L503.71,21.00 L504.55,21.00 L505.38,21.00 L506.22,21.00 L507.05,21.00 L507.88,21.00 L508.72,21.00 L509.55,21.00 L510.38,21.00 L511.22,21.00 L512.05,21.00 L512.89,21.00 L513.72,21.00 L514.55,21.00 L515.39,21.00 L516.22,21.00 L517.05,21.00 L517.89,21.00 L518.72,21.00 L519.56,21.00 L520.39,21.00 L521.22,21.00 L522.06,21.00 L522.89,21.00 L523.72,21.00 L524.56,21.00 L525.39,21.00 L526.23,21.00 L527.06,21.00 L527.89,21.00 L528.73,21.00 L529.56,21.00 L530.39,21.00 L531.23,21.00 L532.06,21.00 L532.90,21.00 L533.73,21.00 L534.56,21.00 L535.40,21.00 L536.23,21.00 L537.06,21.00 L537.90,21.00 L538.73,21.00 L539.57,21.00 L540.40,21.00 L541.23,21.00 L542.07,21.00 L542.90,21.00 L543.73,21.00 L544.57,21.00 L545.40,21.00 L546.24,21.00 L547.07,21.00 L547.90,21.00 L548.74,21.00 L549.57,21.00 L550.40,21.00 L551.24,21.00 L552.07,21.00 L552.91,21.00 L553.74,21.00 L554.57,21.00 L555.41,21.00 L556.24,21.00 L557.07,21.00 L557.91,21.00 L558.74,21.00 L559.58,21.00 L560.41,21.00 L561.24,21.00 L562.08,21.00 L562.91,21.00 L563.74,21.00 L564.58,21.00 L565.41,21.00 L566.25,21.00 L567.08,21.00 L567.91,21.00 L568.75,21.00 L569.58,21.00 L570.41,21.00 L571.25,21.00 L572.08,21.00 L572.92,21.00 L573.75,21.00 L574.58,21.00 L575.42,21.00 L576.25,21.00 L577.08,21.00 L577.92,21.00 L578.75,21.00 L579.59,21.00 L580.42,21.00 L581.25,21.00 L582.09,21.00 L582.92,21.00 L583.75,21.00 L584.59,21.00 L585.42,21.00 L586.26,21.00 L587.09,21.00 L587.92,21.00 L588.76,21.00 L589.59,21.00 L590.42,21.00 L591.26,21.00 L592.09,21.00 L592.93,21.00 L593.76,21.00 L594.59,21.00 L595.43,21.00 L596.26,21.00 L597.09,21.00 L597.93,21.00 L598.76,21.00 L599.60,21.00 L600.43,21.00 L601.26,21.00 L602.10,21.00 L602.93,21.00 L603.77,21.00 L604.60,21.00 L605.43,21.00 L606.27,21.00 L607.10,21.00 L607.93,21.00 L608.77,21.00 L609.60,21.00 L610.44,21.00 L611.27,21.00 L612.10,21.00 L612.94,21.00 L613.77,21.00 L614.60,21.00 L615.44,21.00 L616.27,21.00 L617.11,21.00 L617.94,21.00 L618.77,21.00 L619.61,21.00 L620.44,21.00 L621.27,21.00 L622.11,21.00 L622.94,21.00 L623.78,21.00 L624.61,21.00 L625.44,21.00 L626.28,21.00 L627.11,21.00 L627.94,21.00 L628.78,21.00 L629.61,21.00 L630.45,21.00 L631.28,21.00 L632.11,21.00 L632.95,21.00 L633.78,21.00 L634.61,21.00 L635.45,21.00 L636.28,21.00 L637.12,21.00 L637.95,21.00 L638.78,21.00 L639.62,21.00 L640.45,21.00 L641.28,21.00 L642.12,21.00 L642.95,21.00 L643.79,21.00 L644.62,21.00 L645.45,21.00 L646.29,21.00 L647.12,21.00 L647.95,21.00 L648.79,21.00 L649.62,21.00 L650.46,21.00 L651.29,21.00 L652.12,21.00 L652.96,21.00 L653.79,21.00 L654.62,21.00 L655.46,21.00 L656.29,21.00 L657.13,21.00 L657.96,21.00 L658.79,21.00 L659.63,21.00 L660.46,21.00 L661.29,21.00 L662.13,21.00 L662.96,21.00 L663.80,21.00 L664.63,21.00 L665.46,21.00 L666.30,21.00 L667.13,21.00 L667.96,21.00 L668.80,21.00 L669.63,21.00 L670.47,21.00 L671.30,21.00 L672.13,21.00 L672.97,21.00 L673.80,21.00 L674.63,21.00 L675.47,21.00 L676.30,21.00 L677.14,21.00 L677.97,21.00 L678.80,21.00 L679.64,21.00 L680.47,21.00 L681.30,21.00 L682.14,21.00 L682.97,21.00 L683.81,21.00 L684.64,21.00 L685.47,21.00 L686.31,21.00 L687.14,21.00 L687.97,21.00 L688.81,21.00 L689.64,21.00 L690.48,21.00 L691.31,21.00 L692.14,21.00 L692.98,21.00 L693.81,21.00 L694.64,21.00 L695.48,21.00 L696.31,21.00 L697.15,21.00 L697.98,21.00 L698.81,21.00 L699.65,21.00 L700.48,21.00 L701.31,21.00 L702.15,21.00 L702.98,21.00 L703.82,21.00 L704.65,21.00 L705.48,21.00 L706.32,21.00 L707.15,21.00 L707.98,21.00" fill="none" stroke="#f00" stroke-width="3.8" stroke-linejoin="round"/>
<path d="M125.19,21.00 L126.02,21.00 L126.85,21.00 L127.69,21.00 L128.52,21.00 L129.36,21.00 L130.19,21.00 L131.02,21.00 L131.86,21.00 L132.69,21.00 L133.52,21.00 L134.36,21.00 L135.19,21.00 L136.03,21.00 L136.86,21.00 L137.69,21.00 L138.53,21.00 L139.36,21.00 L140.19,21.00 L141.03,21.00 L141.86,21.00 L142.70,21.00 L143.53,21.00 L144.36,21.00 L145.20,21.00 L146.03,21.00 L146.86,21.00 L147.70,21.00 L148.53,21.00 L149.37,21.00 L150.20,21.00 L151.03,21.00 L151.87,21.00 L152.70,21.00 L153.53,21.00 L154.37,21.00 L155.20,21.00 L156.04,21.00 L156.87,21.00 L157.70,21.00 L158.54,21.00 L159.37,21.00 L160.20,21.00 L161.04,21.00 L161.87,21.00 L162.71,21.00 L163.54,21.00 L164.37,21.00 L165.21,21.00 L166.04,21.00 L166.87,21.00 L167.71,21.00 L168.54,21.00 L169.38,21.00 L170.21,21.00 L171.04,21.00 L171.88,21.00 L172.71,21.00 L173.54,21.00 L174.38,21.00 L175.21,21.00 L176.05,21.00 L176.88,21.00 L177.71,21.00 L178.55,21.00 L179.38,21.00 L180.22,21.00 L181.05,21.00 L181.88,21.00 L182.72,21.00 L183.55,21.00 L184.38,21.00 L185.22,21.00 L186.05,21.00 L186.89,21.00 L187.72,21.00 L188.55,21.00 L189.39,21.00 L190.22,21.00 L191.05,21.00 L191.89,21.00 L192.72,21.00 L193.56,21.00 L194.39,21.00 L195.22,21.00 L196.06,21.00 L196.89,21.00 L197.72,21.00 L198.56,21.00 L199.39,21.00 L200.23,21.00 L201.06,21.00 L201.89,21.00 L202.73,21.00 L203.56,21.00 L204.39,21.00 L205.23,21.00 L206.06,21.00 L206.90,21.00 L207.73,21.00 L208.56,21.00 L209.40,21.00 L210.23,21.00 L211.06,21.00 L211.90,21.00 L212.73,21.00 L213.57,21.00 L214.40,21.00 L215.23,21.00 L216.07,21.00 L216.90,21.00 L217.73,21.00 L218.57,21.00 L219.40,21.00 L220.24,21.00 L221.07,21.00 L221.90,21.00 L222.74,21.00 L223.57,21.00 L224.40,21.00 L225.24,21.00 L226.07,21.00 L226.91,21.00 L227.74,21.00 L228.57,21.00 L229.41,21.00 L230.24,21.00 L231.07,21.00 L231.91,21.00 L232.74,21.00 L233.58,21.00 L234.41,21.00 L235.24,21.00 L236.08,21.00 L236.91,21.00 L237.74,21.00 L238.58,21.00 L239.41,21.00 L240.25,21.00 L241.08,21.00 L241.91,21.00 L242.75,21.00 L243.58,21.00 L244.41,21.00 L245.25,21.00 L246.08,21.00 L246.92,21.00 L247.75,21.00 L248.58,21.00 L249.42,21.00 L250.25,21.00 L251.08,21.00 L251.92,21.00 L252.75,21.00 L253.59,21.00 L254.42,21.00 L255.25,21.00 L256.09,21.00 L256.92,21.00 L257.75,21.00 L258.59,21.00 L259.42,21.00 L260.26,21.00 L261.09,21.00 L261.92,21.00 L262.76,21.00 L263.59,21.00 L264.42,21.00 L265.26,21.00 L266.09,21.00 L266.93,21.00 L267.76,21.00 L268.59,21.00 L269.43,21.00 L270.26,21.00 L271.09,21.00 L271.93,21.00 L272.76,21.00 L273.60,21.00 L274.43,21.00 L275.26,21.00 L276.10,21.00 L276.93,21.00 L277.76,21.00 L278.60,21.00 L279.43,21.00 L280.27,21.00 L281.10,21.00 L281.93,21.00 L282.77,21.00 L283.60,21.00 L284.44,21.00 L285.27,21.00 L286.10,21.00 L286.94,21.00 L287.77,21.00 L288.60,21.00 L289.44,21.00 L290.27,21.00 L291.11,21.00 L291.94,21.00 L292.77,21.00 L293.61,21.00 L294.44,21.00 L295.27,21.01 L296.11,21.01 L296.94,21.01 L297.78,21.01 L298.61,21.01 L299.44,21.02 L300.28,21.02 L301.11,21.02 L301.94,21.03 L302.78,21.03 L303.61,21.04 L304.45,21.05 L305.28,21.06 L306.11,21.07 L306.95,21.08 L307.78,21.10 L308.61,21.12 L309.45,21.14 L310.28,21.16 L311.12,21.19 L311.95,21.22 L312.78,21.26 L313.62,21.31 L314.45,21.36 L315.28,21.42 L316.12,21.49 L316.95,21.57 L317.79,21.66 L318.62,21.76 L319.45,21.87 L320.29,22.00 L321.12,22.15 L321.95,22.32 L322.79,22.51 L323.62,22.73 L324.46,22.97 L325.29,23.24 L326.12,23.54 L326.96,23.88 L327.79,24.25 L328.62,24.67 L329.46,25.13 L330.29,25.64 L331.13,26.20 L331.96,26.82 L332.79,27.50 L333.63,28.24 L334.46,29.05 L335.29,29.93 L336.13,30.89 L336.96,31.93 L337.80,33.06 L338.63,34.27 L339.46,35.58 L340.30,36.99 L341.13,38.49 L341.96,40.10 L342.80,41.81 L343.63,43.63 L344.47,45.56 L345.30,47.60 L346.13,49.75 L346.97,52.01 L347.80,54.38 L348.63,56.86 L349.47,59.44 L350.30,62.13 L351.14,64.92 L351.97,67.80 L352.80,70.77 L353.64,73.82 L354.47,76.94 L355.30,80.13 L356.14,83.37 L356.97,86.66 L357.81,89.98 L358.64,93.32 L359.47,96.67 L360.31,100.01 L361.14,103.33 L361.97,106.62 L362.81,109.86 L363.64,113.04 L364.48,116.14 L365.31,119.14 L366.14,122.03 L366.98,124.79 L367.81,127.42 L368.64,129.89 L369.48,132.19 L370.31,134.31 L371.15,136.23 L371.98,137.95 L372.81,139.46 L373.65,140.74 L374.48,141.79 L375.31,142.60 L376.15,143.17 L376.98,143.49 L377.82,143.57 L378.65,143.40 L379.48,142.97 L380.32,142.31 L381.15,141.40 L381.98,140.26 L382.82,138.89 L383.65,137.30 L384.49,135.49 L385.32,133.49 L386.15,131.30 L386.99,128.93 L387.82,126.40 L388.65,123.71 L389.49,120.90 L390.32,117.96 L391.16,114.92 L391.99,111.79 L392.82,108.59 L393.66,105.33 L394.49,102.02 L395.33,98.69 L396.16,95.34 L396.99,92.00 L397.83,88.66 L398.66,85.35 L399.49,82.08 L400.33,78.86 L401.16,75.70 L402.00,72.60 L402.83,69.59 L403.66,66.65 L404.50,63.81 L405.33,61.06 L406.16,58.41 L407.00,55.87 L407.83,53.43 L408.67,51.10 L409.50,48.88 L410.33,46.78 L411.17,44.78 L412.00,42.90 L412.83,41.12 L413.67,39.45 L414.50,37.88 L415.34,36.42 L416.17,35.05 L417.00,33.78 L417.84,32.60 L418.67,31.51 L419.50,30.50 L420.34,29.57 L421.17,28.72 L422.01,27.94 L422.84,27.22 L423.67,26.57 L424.51,25.97 L425.34,25.43 L426.17,24.94 L427.01,24.50 L427.84,24.10 L428.68,23.74 L429.51,23.42 L430.34,23.13 L431.18,22.87 L432.01,22.64 L432.84,22.44 L433.68,22.25 L434.51,22.09 L435.35,21.95 L436.18,21.83 L437.01,21.72 L437.85,21.62 L438.68,21.53 L439.51,21.46 L440.35,21.39 L441.18,21.34 L442.02,21.29 L442.85,21.25 L443.68,21.21 L444.52,21.18 L445.35,21.15 L446.18,21.13 L447.02,21.11 L447.85,21.09 L448.69,21.08 L449.52,21.07 L450.35,21.05 L451.19,21.05 L452.02,21.04 L452.85,21.03 L453.69,21.03 L454.52,21.02 L455.36,21.02 L456.19,21.02 L457.02,21.01 L457.86,21.01 L458.69,21.01 L459.52,21.01 L460.36,21.01 L461.19,21.00 L462.03,21.00 L462.86,21.00 L463.69,21.00 L464.53,21.00 L465.36,21.00 L466.19,21.00 L467.03,21.00 L467.86,21.00 L468.70,21.00 L469.53,21.00 L470.36,21.00 L471.20,21.00 L472.03,21.00 L472.86,21.00 L473.70,21.00 L474.53,21.00 L475.37,21.00 L476.20,21.00 L477.03,21.00 L477.87,21.00 L478.70,21.00 L479.53,21.00 L480.37,21.00 L481.20,21.00 L482.04,21.00 L482.87,21.00 L483.70,21.00 L484.54,21.00 L485.37,21.00 L486.20,21.00 L487.04,21.00 L487.87,21.00 L488.71,21.00 L489.54,21.00 L490.37,21.00 L491.21,21.00 L492.04,21.00 L492.87,21.00 L493.71,21.00 L494.54,21.00 L495.38,21.00 L496.21,21.00 L497.04,21.00 L497.88,21.00 L498.71,21.00 L499.55,21.00 L500.38,21.00 L501.21,21.00 L502.05,21.00 L502.88,21.00 L503.71,21.00 L504.55,21.00 L505.38,21.00 L506.22,21.00 L507.05,21.00 L507.88,21.00 L508.72,21.00 L509.55,21.00 L510.38,21.00 L511.22,21.00 L512.05,21.00 L512.89,21.00 L513.72,21.00 L514.55,21.00 L515.39,21.00 L516.22,21.00 L517.05,21.00 L517.89,21.00 L518.72,21.00 L519.56,21.00 L520.39,21.00 L521.22,21.00 L522.06,21.00 L522.89,21.00 L523.72,21.00 L524.56,21.00 L525.39,21.00 L526.23,21.00 L527.06,21.00 L527.89,21.00 L528.73,21.00 L529.56,21.00 L530.39,21.00 L531.23,21.00 L532.06,21.00 L532.90,21.00 L533.73,21.00 L534.56,21.00 L535.40,21.00 L536.23,21.00 L537.06,21.00 L537.90,21.00 L538.73,21.00 L539.57,21.00 L540.40,21.00 L541.23,21.00 L542.07,21.00 L542.90,21.00 L543.73,21.00 L544.57,21.00 L545.40,21.00 L546.24,21.00 L547.07,21.00 L547.90,21.00 L548.74,21.00 L549.57,21.00 L550.40,21.00 L551.24,21.00 L552.07,21.00 L552.91,21.00 L553.74,21.00 L554.57,21.00 L555.41,21.00 L556.24,21.00 L557.07,21.00 L557.91,21.00 L558.74,21.00 L559.58,21.00 L560.41,21.00 L561.24,21.00 L562.08,21.00 L562.91,21.00 L563.74,21.00 L564.58,21.00 L565.41,21.00 L566.25,21.00 L567.08,21.00 L567.91,21.00 L568.75,21.00 L569.58,21.00 L570.41,21.00 L571.25,21.00 L572.08,21.00 L572.92,21.00 L573.75,21.00 L574.58,21.00 L575.42,21.00 L576.25,21.00 L577.08,21.00 L577.92,21.00 L578.75,21.00 L579.59,21.00 L580.42,21.00 L581.25,21.00 L582.09,21.00 L582.92,21.00 L583.75,21.00 L584.59,21.00 L585.42,21.00 L586.26,21.00 L587.09,21.00 L587.92,21.00 L588.76,21.00 L589.59,21.00 L590.42,21.00 L591.26,21.00 L592.09,21.00 L592.93,21.00 L593.76,21.00 L594.59,21.00 L595.43,21.00 L596.26,21.00 L597.09,21.00 L597.93,21.00 L598.76,21.00 L599.60,21.00 L600.43,21.00 L601.26,21.00 L602.10,21.00 L602.93,21.00 L603.77,21.00 L604.60,21.00 L605.43,21.00 L606.27,21.00 L607.10,21.00 L607.93,21.00 L608.77,21.00 L609.60,21.00 L610.44,21.00 L611.27,21.00 L612.10,21.00 L612.94,21.00 L613.77,21.00 L614.60,21.00 L615.44,21.00 L616.27,21.00 L617.11,21.00 L617.94,21.00 L618.77,21.00 L619.61,21.00 L620.44,21.00 L621.27,21.00 L622.11,21.00 L622.94,21.00 L623.78,21.00 L624.61,21.00 L625.44,21.00 L626.28,21.00 L627.11,21.00 L627.94,21.00 L628.78,21.00 L629.61,21.00 L630.45,21.00 L631.28,21.00 L632.11,21.00 L632.95,21.00 L633.78,21.00 L634.61,21.00 L635.45,21.00 L636.28,21.00 L637.12,21.00 L637.95,21.00 L638.78,21.00 L639.62,21.00 L640.45,21.00 L641.28,21.00 L642.12,21.00 L642.95,21.00 L643.79,21.00 L644.62,21.00 L645.45,21.00 L646.29,21.00 L647.12,21.00 L647.95,21.00 L648.79,21.00 L649.62,21.00 L650.46,21.00 L651.29,21.00 L652.12,21.00 L652.96,21.00 L653.79,21.00 L654.62,21.00 L655.46,21.00 L656.29,21.00 L657.13,21.00 L657.96,21.00 L658.79,21.00 L659.63,21.00 L660.46,21.00 L661.29,21.00 L662.13,21.00 L662.96,21.00 L663.80,21.00 L664.63,21.00 L665.46,21.00 L666.30,21.00 L667.13,21.00 L667.96,21.00 L668.80,21.00 L669.63,21.00 L670.47,21.00 L671.30,21.00 L672.13,21.00 L672.97,21.00 L673.80,21.00 L674.63,21.00 L675.47,21.00 L676.30,21.00 L677.14,21.00 L677.97,21.00 L678.80,21.00 L679.64,21.00 L680.47,21.00 L681.30,21.00 L682.14,21.00 L682.97,21.00 L683.81,21.00 L684.64,21.00 L685.47,21.00 L686.31,21.00 L687.14,21.00 L687.97,21.00 L688.81,21.00 L689.64,21.00 L690.48,21.00 L691.31,21.00 L692.14,21.00 L692.98,21.00 L693.81,21.00 L694.64,21.00 L695.48,21.00 L696.31,21.00 L697.15,21.00 L697.98,21.00 L698.81,21.00 L699.65,21.00 L700.48,21.00 L701.31,21.00 L702.15,21.00 L702.98,21.00 L703.82,21.00 L704.65,21.00 L705.48,21.00 L706.32,21.00 L707.15,21.00 L707.98,21.00" fill="none" stroke="#f00" stroke-width="3.8" stroke-linejoin="round"/>
<path d="M125.19,21.00 L126.02,21.00 L126.85,21.00 L127.69,21.00 L128.52,21.00 L129.36,21.00 L130.19,21.00 L131.02,21.00 L131.86,21.00 L132.69,21.00 L133.52,21.00 L134.36,21.00 L135.19,21.00 L136.03,21.00 L136.86,21.00 L137.69,21.00 L138.53,21.00 L139.36,21.00 L140.19,21.00 L141.03,21.00 L141.86,21.00 L142.70,21.00 L143.53,21.00 L144.36,21.00 L145.20,21.00 L146.03,21.00 L146.86,21.00 L147.70,21.00 L148.53,21.00 L149.37,21.00 L150.20,21.00 L151.03,21.00 L151.87,21.00 L152.70,21.00 L153.53,21.00 L154.37,21.00 L155.20,21.00 L156.04,21.00 L156.87,21.00 L157.70,21.00 L158.54,21.00 L159.37,21.00 L160.20,21.00 L161.04,21.00 L161.87,21.00 L162.71,21.00 L163.54,21.00 L164.37,21.00 L165.21,21.00 L166.04,21.00 L166.87,21.00 L167.71,21.00 L168.54,21.00 L169.38,21.00 L170.21,21.00 L171.04,21.00 L171.88,21.00 L172.71,21.00 L173.54,21.00 L174.38,21.00 L175.21,21.00 L176.05,21.00 L176.88,21.00 L177.71,21.00 L178.55,21.00 L179.38,21.00 L180.22,21.00 L181.05,21.00 L181.88,21.00 L182.72,21.00 L183.55,21.00 L184.38,21.00 L185.22,21.00 L186.05,21.00 L186.89,21.00 L187.72,21.00 L188.55,21.00 L189.39,21.00 L190.22,21.00 L191.05,21.00 L191.89,21.00 L192.72,21.00 L193.56,21.00 L194.39,21.00 L195.22,21.00 L196.06,21.00 L196.89,21.00 L197.72,21.00 L198.56,21.00 L199.39,21.00 L200.23,21.00 L201.06,21.00 L201.89,21.00 L202.73,21.00 L203.56,21.00 L204.39,21.00 L205.23,21.00 L206.06,21.00 L206.90,21.00 L207.73,21.00 L208.56,21.00 L209.40,21.00 L210.23,21.00 L211.06,21.00 L211.90,21.00 L212.73,21.00 L213.57,21.00 L214.40,21.00 L215.23,21.00 L216.07,21.00 L216.90,21.00 L217.73,21.00 L218.57,21.00 L219.40,21.00 L220.24,21.00 L221.07,21.00 L221.90,21.00 L222.74,21.00 L223.57,21.00 L224.40,21.00 L225.24,21.00 L226.07,21.00 L226.91,21.00 L227.74,21.00 L228.57,21.00 L229.41,21.00 L230.24,21.00 L231.07,21.00 L231.91,21.00 L232.74,21.00 L233.58,21.00 L234.41,21.00 L235.24,21.00 L236.08,21.00 L236.91,21.00 L237.74,21.00 L238.58,21.01 L239.41,21.01 L240.25,21.01 L241.08,21.01 L241.91,21.01 L242.75,21.01 L243.58,21.01 L244.41,21.01 L245.25,21.01 L246.08,21.01 L246.92,21.01 L247.75,21.01 L248.58,21.02 L249.42,21.02 L250.25,21.02 L251.08,21.02 L251.92,21.02 L252.75,21.02 L253.59,21.03 L254.42,21.03 L255.25,21.03 L256.09,21.03 L256.92,21.04 L257.75,21.04 L258.59,21.04 L259.42,21.05 L260.26,21.05 L261.09,21.06 L261.92,21.06 L262.76,21.07 L263.59,21.07 L264.42,21.08 L265.26,21.09 L266.09,21.09 L266.93,21.10 L267.76,21.11 L268.59,21.12 L269.43,21.13 L270.26,21.14 L271.09,21.15 L271.93,21.16 L272.76,21.17 L273.60,21.19 L274.43,21.20 L275.26,21.22 L276.10,21.24 L276.93,21.25 L277.76,21.27 L278.60,21.29 L279.43,21.32 L280.27,21.34 L281.10,21.37 L281.93,21.39 L282.77,21.42 L283.60,21.45 L284.44,21.49 L285.27,21.52 L286.10,21.56 L286.94,21.60 L287.77,21.65 L288.60,21.69 L289.44,21.74 L290.27,21.79 L291.11,21.85 L291.94,21.91 L292.77,21.97 L293.61,22.03 L294.44,22.10 L295.27,22.18 L296.11,22.26 L296.94,22.34 L297.78,22.43 L298.61,22.52 L299.44,22.62 L300.28,22.73 L301.11,22.84 L301.94,22.95 L302.78,23.08 L303.61,23.21 L304.45,23.35 L305.28,23.49 L306.11,23.64 L306.95,23.80 L307.78,23.97 L308.61,24.15 L309.45,24.34 L310.28,24.54 L311.12,24.75 L311.95,24.96 L312.78,25.19 L313.62,25.43 L314.45,25.68 L315.28,25.95 L316.12,26.23 L316.95,26.52 L317.79,26.82 L318.62,27.14 L319.45,27.47 L320.29,27.82 L321.12,28.18 L321.95,28.56 L322.79,28.95 L323.62,29.36 L324.46,29.79 L325.29,30.24 L326.12,30.71 L326.96,31.19 L327.79,31.70 L328.62,32.22 L329.46,32.77 L330.29,33.34 L331.13,33.93 L331.96,34.54 L332.79,35.17 L333.63,35.83 L334.46,36.51 L335.29,37.22 L336.13,37.95 L336.96,38.71 L337.80,39.49 L338.63,40.30 L339.46,41.13 L340.30,41.99 L341.13,42.88 L341.96,43.80 L342.80,44.74 L343.63,45.72 L344.47,46.72 L345.30,47.75 L346.13,48.81 L346.97,49.90 L347.80,51.03 L348.63,52.18 L349.47,53.36 L350.30,54.57 L351.14,55.81 L351.97,57.08 L352.80,58.38 L353.64,59.72 L354.47,61.08 L355.30,62.47 L356.14,63.89 L356.97,65.35 L357.81,66.83 L358.64,68.34 L359.47,69.88 L360.31,71.44 L361.14,73.04 L361.97,74.66 L362.81,76.31 L363.64,77.99 L364.48,79.69 L365.31,81.42 L366.14,83.17 L366.98,84.94 L367.81,86.73 L368.64,88.55 L369.48,90.39 L370.31,92.24 L371.15,94.12 L371.98,96.01 L372.81,97.91 L373.65,99.84 L374.48,101.77 L375.31,103.72 L376.15,105.67 L376.98,107.64 L377.82,109.61 L378.65,111.59 L379.48,113.57 L380.32,115.56 L381.15,117.55 L381.98,119.53 L382.82,121.52 L383.65,123.50 L384.49,125.47 L385.32,127.44 L386.15,129.39 L386.99,131.33 L387.82,133.27 L388.65,135.18 L389.49,137.08 L390.32,138.96 L391.16,140.81 L391.99,142.65 L392.82,144.46 L393.66,146.24 L394.49,147.99 L395.33,149.71 L396.16,151.40 L396.99,153.05 L397.83,154.67 L398.66,156.25 L399.49,157.79 L400.33,159.28 L401.16,160.74 L402.00,162.14 L402.83,163.50 L403.66,164.81 L404.50,166.07 L405.33,167.28 L406.16,168.43 L407.00,169.53 L407.83,170.58 L408.67,171.56 L409.50,172.49 L410.33,173.36 L411.17,174.16 L412.00,174.91 L412.83,175.59 L413.67,176.20 L414.50,176.75 L415.34,177.24 L416.17,177.66 L417.00,178.02 L417.84,178.30 L418.67,178.52 L419.50,178.67 L420.34,178.76 L421.17,178.77 L422.01,178.72 L422.84,178.60 L423.67,178.41 L424.51,178.16 L425.34,177.84 L426.17,177.45 L427.01,176.99 L427.84,176.47 L428.68,175.88 L429.51,175.23 L430.34,174.52 L431.18,173.74 L432.01,172.90 L432.84,172.01 L433.68,171.05 L434.51,170.03 L435.35,168.96 L436.18,167.83 L437.01,166.65 L437.85,165.41 L438.68,164.12 L439.51,162.79 L440.35,161.40 L441.18,159.97 L442.02,158.50 L442.85,156.98 L443.68,155.42 L444.52,153.82 L445.35,152.18 L446.18,150.51 L447.02,148.80 L447.85,147.06 L448.69,145.30 L449.52,143.50 L450.35,141.68 L451.19,139.83 L452.02,137.96 L452.85,136.07 L453.69,134.17 L454.52,132.24 L455.36,130.31 L456.19,128.36 L457.02,126.40 L457.86,124.43 L458.69,122.45 L459.52,120.47 L460.36,118.48 L461.19,116.50 L462.03,114.51 L462.86,112.52 L463.69,110.54 L464.53,108.57 L465.36,106.60 L466.19,104.64 L467.03,102.68 L467.86,100.74 L468.70,98.82 L469.53,96.90 L470.36,95.00 L471.20,93.12 L472.03,91.26 L472.86,89.41 L473.70,87.59 L474.53,85.78 L475.37,84.00 L476.20,82.24 L477.03,80.50 L477.87,78.79 L478.70,77.10 L479.53,75.44 L480.37,73.80 L481.20,72.19 L482.04,70.61 L482.87,69.06 L483.70,67.53 L484.54,66.04 L485.37,64.57 L486.20,63.14 L487.04,61.73 L487.87,60.35 L488.71,59.01 L489.54,57.69 L490.37,56.40 L491.21,55.15 L492.04,53.92 L492.87,52.73 L493.71,51.56 L494.54,50.43 L495.38,49.32 L496.21,48.25 L497.04,47.20 L497.88,46.19 L498.71,45.20 L499.55,44.24 L500.38,43.31 L501.21,42.41 L502.05,41.53 L502.88,40.69 L503.71,39.87 L504.55,39.07 L505.38,38.30 L506.22,37.56 L507.05,36.84 L507.88,36.15 L508.72,35.48 L509.55,34.84 L510.38,34.21 L511.22,33.61 L512.05,33.04 L512.89,32.48 L513.72,31.94 L514.55,31.43 L515.39,30.93 L516.22,30.46 L517.05,30.00 L517.89,29.56 L518.72,29.14 L519.56,28.74 L520.39,28.35 L521.22,27.98 L522.06,27.63 L522.89,27.29 L523.72,26.97 L524.56,26.66 L525.39,26.36 L526.23,26.08 L527.06,25.81 L527.89,25.55 L528.73,25.30 L529.56,25.07 L530.39,24.85 L531.23,24.63 L532.06,24.43 L532.90,24.24 L533.73,24.06 L534.56,23.88 L535.40,23.72 L536.23,23.56 L537.06,23.41 L537.90,23.27 L538.73,23.14 L539.57,23.01 L540.40,22.89 L541.23,22.78 L542.07,22.67 L542.90,22.57 L543.73,22.47 L544.57,22.38 L545.40,22.30 L546.24,22.21 L547.07,22.14 L547.90,22.07 L548.74,22.00 L549.57,21.93 L550.40,21.87 L551.24,21.82 L552.07,21.76 L552.91,21.71 L553.74,21.67 L554.57,21.62 L555.41,21.58 L556.24,21.54 L557.07,21.50 L557.91,21.47 L558.74,21.44 L559.58,21.41 L560.41,21.38 L561.24,21.35 L562.08,21.33 L562.91,21.31 L563.74,21.28 L564.58,21.26 L565.41,21.24 L566.25,21.23 L567.08,21.21 L567.91,21.19 L568.75,21.18 L569.58,21.17 L570.41,21.15 L571.25,21.14 L572.08,21.13 L572.92,21.12 L573.75,21.11 L574.58,21.10 L575.42,21.10 L576.25,21.09 L577.08,21.08 L577.92,21.08 L578.75,21.07 L579.59,21.06 L580.42,21.06 L581.25,21.05 L582.09,21.05 L582.92,21.05 L583.75,21.04 L584.59,21.04 L585.42,21.04 L586.26,21.03 L587.09,21.03 L587.92,21.03 L588.76,21.03 L589.59,21.02 L590.42,21.02 L591.26,21.02 L592.09,21.02 L592.93,21.02 L593.76,21.02 L594.59,21.01 L595.43,21.01 L596.26,21.01 L597.09,21.01 L597.93,21.01 L598.76,21.01 L599.60,21.01 L600.43,21.01 L601.26,21.01 L602.10,21.01 L602.93,21.01 L603.77,21.00 L604.60,21.00 L605.43,21.00 L606.27,21.00 L607.10,21.00 L607.93,21.00 L608.77,21.00 L609.60,21.00 L610.44,21.00 L611.27,21.00 L612.10,21.00 L612.94,21.00 L613.77,21.00 L614.60,21.00 L615.44,21.00 L616.27,21.00 L617.11,21.00 L617.94,21.00 L618.77,21.00 L619.61,21.00 L620.44,21.00 L621.27,21.00 L622.11,21.00 L622.94,21.00 L623.78,21.00 L624.61,21.00 L625.44,21.00 L626.28,21.00 L627.11,21.00 L627.94,21.00 L628.78,21.00 L629.61,21.00 L630.45,21.00 L631.28,21.00 L632.11,21.00 L632.95,21.00 L633.78,21.00 L634.61,21.00 L635.45,21.00 L636.28,21.00 L637.12,21.00 L637.95,21.00 L638.78,21.00 L639.62,21.00 L640.45,21.00 L641.28,21.00 L642.12,21.00 L642.95,21.00 L643.79,21.00 L644.62,21.00 L645.45,21.00 L646.29,21.00 L647.12,21.00 L647.95,21.00 L648.79,21.00 L649.62,21.00 L650.46,21.00 L651.29,21.00 L652.12,21.00 L652.96,21.00 L653.79,21.00 L654.62,21.00 L655.46,21.00 L656.29,21.00 L657.13,21.00 L657.96,21.00 L658.79,21.00 L659.63,21.00 L660.46,21.00 L661.29,21.00 L662.13,21.00 L662.96,21.00 L663.80,21.00 L664.63,21.00 L665.46,21.00 L666.30,21.00 L667.13,21.00 L667.96,21.00 L668.80,21.00 L669.63,21.00 L670.47,21.00 L671.30,21.00 L672.13,21.00 L672.97,21.00 L673.80,21.00 L674.63,21.00 L675.47,21.00 L676.30,21.00 L677.14,21.00 L677.97,21.00 L678.80,21.00 L679.64,21.00 L680.47,21.00 L681.30,21.00 L682.14,21.00 L682.97,21.00 L683.81,21.00 L684.64,21.00 L685.47,21.00 L686.31,21.00 L687.14,21.00 L687.97,21.00 L688.81,21.00 L689.64,21.00 L690.48,21.00 L691.31,21.00 L692.14,21.00 L692.98,21.00 L693.81,21.00 L694.64,21.00 L695.48,21.00 L696.31,21.00 L697.15,21.00 L697.98,21.00 L698.81,21.00 L699.65,21.00 L700.48,21.00 L701.31,21.00 L702.15,21.00 L702.98,21.00 L703.82,21.00 L704.65,21.00 L705.48,21.00 L706.32,21.00 L707.15,21.00 L707.98,21.00" fill="none" stroke="#f00" stroke-width="3.8" stroke-linejoin="round"/>
<path d="M125.19,21.00 L126.02,21.00 L126.85,21.00 L127.69,21.00 L128.52,21.00 L129.36,21.00 L130.19,21.00 L131.02,21.00 L131.86,21.00 L132.69,21.00 L133.52,21.00 L134.36,21.00 L135.19,21.00 L136.03,21.00 L136.86,21.00 L137.69,21.00 L138.53,21.00 L139.36,21.00 L140.19,21.00 L141.03,21.00 L141.86,21.00 L142.70,21.00 L143.53,21.00 L144.36,21.00 L145.20,21.00 L146.03,21.00 L146.86,21.00 L147.70,21.00 L148.53,21.00 L149.37,21.00 L150.20,21.00 L151.03,21.00 L151.87,21.00 L152.70,21.00 L153.53,21.00 L154.37,21.00 L155.20,21.00 L156.04,21.00 L156.87,21.00 L157.70,21.00 L158.54,21.00 L159.37,21.00 L160.20,21.00 L161.04,21.00 L161.87,21.00 L162.71,21.00 L163.54,21.00 L164.37,21.00 L165.21,21.00 L166.04,21.00 L166.87,21.00 L167.71,21.00 L168.54,21.00 L169.38,21.00 L170.21,21.00 L171.04,21.00 L171.88,21.00 L172.71,21.00 L173.54,21.00 L174.38,21.00 L175.21,21.00 L176.05,21.00 L176.88,21.00 L177.71,21.00 L178.55,21.00 L179.38,21.00 L180.22,21.00 L181.05,21.00 L181.88,21.00 L182.72,21.00 L183.55,21.00 L184.38,21.00 L185.22,21.00 L186.05,21.00 L186.89,21.00 L187.72,21.00 L188.55,21.00 L189.39,21.00 L190.22,21.00 L191.05,21.00 L191.89,21.00 L192.72,21.00 L193.56,21.00 L194.39,21.00 L195.22,21.00 L196.06,21.00 L196.89,21.00 L197.72,21.00 L198.56,21.00 L199.39,21.00 L200.23,21.00 L201.06,21.00 L201.89,21.00 L202.73,21.00 L203.56,21.00 L204.39,21.00 L205.23,21.00 L206.06,21.00 L206.90,21.00 L207.73,21.00 L208.56,21.00 L209.40,21.00 L210.23,21.00 L211.06,21.00 L211.90,21.00 L212.73,21.00 L213.57,21.00 L214.40,21.00 L215.23,21.00 L216.07,21.00 L216.90,21.00 L217.73,21.00 L218.57,21.00 L219.40,21.00 L220.24,21.00 L221.07,21.00 L221.90,21.00 L222.74,21.00 L223.57,21.00 L224.40,21.00 L225.24,21.00 L226.07,21.00 L226.91,21.00 L227.74,21.00 L228.57,21.00 L229.41,21.00 L230.24,21.00 L231.07,21.00 L231.91,21.00 L232.74,21.00 L233.58,21.00 L234.41,21.00 L235.24,21.00 L236.08,21.00 L236.91,21.00 L237.74,21.00 L238.58,21.00 L239.41,21.00 L240.25,21.00 L241.08,21.00 L241.91,21.00 L242.75,21.00 L243.58,21.00 L244.41,21.00 L245.25,21.00 L246.08,21.00 L246.92,21.00 L247.75,21.00 L248.58,21.00 L249.42,21.00 L250.25,21.00 L251.08,21.00 L251.92,21.00 L252.75,21.00 L253.59,21.00 L254.42,21.00 L255.25,21.00 L256.09,21.00 L256.92,21.00 L257.75,21.00 L258.59,21.00 L259.42,21.00 L260.26,21.00 L261.09,21.00 L261.92,21.00 L262.76,21.00 L263.59,21.00 L264.42,21.00 L265.26,21.00 L266.09,21.00 L266.93,21.00 L267.76,21.00 L268.59,21.00 L269.43,21.00 L270.26,21.00 L271.09,21.00 L271.93,21.00 L272.76,21.00 L273.60,21.00 L274.43,21.00 L275.26,21.00 L276.10,21.00 L276.93,21.00 L277.76,21.00 L278.60,21.00 L279.43,21.00 L280.27,21.00 L281.10,21.00 L281.93,21.00 L282.77,21.00 L283.60,21.00 L284.44,21.00 L285.27,21.00 L286.10,21.00 L286.94,21.00 L287.77,21.00 L288.60,21.00 L289.44,21.00 L290.27,21.00 L291.11,21.00 L291.94,21.00 L292.77,21.00 L293.61,21.00 L294.44,21.00 L295.27,21.00 L296.11,21.00 L296.94,21.00 L297.78,21.00 L298.61,21.00 L299.44,21.00 L300.28,21.00 L301.11,21.00 L301.94,21.00 L302.78,21.00 L303.61,21.00 L304.45,21.00 L305.28,21.00 L306.11,21.00 L306.95,21.00 L307.78,21.00 L308.61,21.00 L309.45,21.00 L310.28,21.00 L311.12,21.00 L311.95,21.00 L312.78,21.00 L313.62,21.00 L314.45,21.00 L315.28,21.00 L316.12,21.00 L316.95,21.00 L317.79,21.00 L318.62,21.00 L319.45,21.00 L320.29,21.00 L321.12,21.00 L321.95,21.00 L322.79,21.00 L323.62,21.00 L324.46,21.00 L325.29,21.00 L326.12,21.00 L326.96,21.00 L327.79,21.00 L328.62,21.00 L329.46,21.00 L330.29,21.00 L331.13,21.00 L331.96,21.00 L332.79,21.00 L333.63,21.00 L334.46,21.00 L335.29,21.00 L336.13,21.00 L336.96,21.00 L337.80,21.00 L338.63,21.00 L339.46,21.00 L340.30,21.00 L341.13,21.00 L341.96,21.00 L342.80,21.00 L343.63,21.00 L344.47,21.00 L345.30,21.00 L346.13,21.00 L346.97,21.00 L347.80,21.00 L348.63,21.00 L349.47,21.00 L350.30,21.00 L351.14,21.00 L351.97,21.00 L352.80,21.00 L353.64,21.00 L354.47,21.00 L355.30,21.00 L356.14,21.00 L356.97,21.00 L357.81,21.00 L358.64,21.00 L359.47,21.00 L360.31,21.00 L361.14,21.00 L361.97,21.00 L362.81,21.00 L363.64,21.00 L364.48,21.00 L365.31,21.00 L366.14,21.00 L366.98,21.00 L367.81,21.00 L368.64,21.00 L369.48,21.00 L370.31,21.00 L371.15,21.00 L371.98,21.00 L372.81,21.00 L373.65,21.00 L374.48,21.00 L375.31,21.00 L376.15,21.00 L376.98,21.00 L377.82,21.00 L378.65,21.00 L379.48,21.00 L380.32,21.00 L381.15,21.00 L381.98,21.00 L382.82,21.00 L383.65,21.00 L384.49,21.00 L385.32,21.00 L386.15,21.00 L386.99,21.00 L387.82,21.00 L388.65,21.00 L389.49,21.00 L390.32,21.00 L391.16,21.00 L391.99,21.00 L392.82,21.00 L393.66,21.00 L394.49,21.00 L395.33,21.00 L396.16,21.00 L396.99,21.00 L397.83,21.00 L398.66,21.00 L399.49,21.00 L400.33,21.00 L401.16,21.00 L402.00,21.00 L402.83,21.00 L403.66,21.00 L404.50,21.00 L405.33,21.00 L406.16,21.00 L407.00,21.00 L407.83,21.00 L408.67,21.00 L409.50,21.00 L410.33,21.00 L411.17,21.00 L412.00,21.00 L412.83,21.00 L413.67,21.00 L414.50,21.00 L415.34,21.00 L416.17,21.00 L417.00,21.00 L417.84,21.00 L418.67,21.00 L419.50,21.00 L420.34,21.00 L421.17,21.00 L422.01,21.00 L422.84,21.00 L423.67,21.00 L424.51,21.00 L425.34,21.00 L426.17,21.00 L427.01,21.00 L427.84,21.00 L428.68,21.00 L429.51,21.00 L430.34,21.00 L431.18,21.00 L432.01,21.00 L432.84,21.00 L433.68,21.00 L434.51,21.00 L435.35,21.00 L436.18,21.00 L437.01,21.00 L437.85,21.00 L438.68,21.00 L439.51,21.00 L440.35,21.00 L441.18,21.00 L442.02,21.00 L442.85,21.00 L443.68,21.00 L444.52,21.00 L445.35,21.00 L446.18,21.00 L447.02,21.00 L447.85,21.00 L448.69,21.00 L449.52,21.00 L450.35,21.00 L451.19,21.00 L452.02,21.00 L452.85,21.00 L453.69,21.00 L454.52,21.00 L455.36,21.00 L456.19,21.00 L457.02,21.00 L457.86,21.00 L458.69,21.00 L459.52,21.00 L460.36,21.00 L461.19,21.00 L462.03,21.00 L462.86,21.00 L463.69,21.00 L464.53,21.00 L465.36,21.00 L466.19,21.00 L467.03,21.00 L467.86,21.00 L468.70,21.00 L469.53,21.00 L470.36,21.00 L471.20,21.00 L472.03,21.00 L472.86,21.00 L473.70,21.00 L474.53,21.00 L475.37,21.00 L476.20,21.00 L477.03,21.00 L477.87,21.00 L478.70,21.00 L479.53,21.00 L480.37,21.00 L481.20,21.00 L482.04,21.00 L482.87,21.00 L483.70,21.00 L484.54,21.00 L485.37,21.00 L486.20,21.00 L487.04,21.00 L487.87,21.00 L488.71,21.00 L489.54,21.00 L490.37,21.00 L491.21,21.00 L492.04,21.00 L492.87,21.01 L493.71,21.01 L494.54,21.01 L495.38,21.01 L496.21,21.01 L497.04,21.01 L497.88,21.01 L498.71,21.01 L499.55,21.02 L500.38,21.02 L501.21,21.02 L502.05,21.03 L502.88,21.03 L503.71,21.03 L504.55,21.04 L505.38,21.05 L506.22,21.05 L507.05,21.06 L507.88,21.07 L508.72,21.08 L509.55,21.09 L510.38,21.10 L511.22,21.11 L512.05,21.13 L512.89,21.14 L513.72,21.16 L514.55,21.18 L515.39,21.20 L516.22,21.23 L517.05,21.26 L517.89,21.29 L518.72,21.32 L519.56,21.36 L520.39,21.40 L521.22,21.44 L522.06,21.49 L522.89,21.54 L523.72,21.60 L524.56,21.66 L525.39,21.73 L526.23,21.80 L527.06,21.88 L527.89,21.97 L528.73,22.06 L529.56,22.16 L530.39,22.26 L531.23,22.38 L532.06,22.50 L532.90,22.63 L533.73,22.77 L534.56,22.92 L535.40,23.07 L536.23,23.24 L537.06,23.41 L537.90,23.60 L538.73,23.79 L539.57,24.00 L540.40,24.21 L541.23,24.44 L542.07,24.67 L542.90,24.92 L543.73,25.17 L544.57,25.43 L545.40,25.70 L546.24,25.99 L547.07,26.27 L547.90,26.57 L548.74,26.88 L549.57,27.19 L550.40,27.51 L551.24,27.83 L552.07,28.16 L552.91,28.49 L553.74,28.82 L554.57,29.16 L555.41,29.50 L556.24,29.83 L557.07,30.17 L557.91,30.50 L558.74,30.84 L559.58,31.16 L560.41,31.48 L561.24,31.80 L562.08,32.10 L562.91,32.40 L563.74,32.68 L564.58,32.96 L565.41,33.22 L566.25,33.46 L567.08,33.69 L567.91,33.91 L568.75,34.11 L569.58,34.29 L570.41,34.45 L571.25,34.59 L572.08,34.71 L572.92,34.81 L573.75,34.89 L574.58,34.95 L575.42,34.98 L576.25,35.00 L577.08,34.99 L577.92,34.97 L578.75,34.94 L579.59,34.89 L580.42,34.83 L581.25,34.75 L582.09,34.66 L582.92,34.56 L583.75,34.45 L584.59,34.32 L585.42,34.18 L586.26,34.03 L587.09,33.87 L587.92,33.69 L588.76,33.51 L589.59,33.31 L590.42,33.11 L591.26,32.90 L592.09,32.68 L592.93,32.45 L593.76,32.22 L594.59,31.98 L595.43,31.73 L596.26,31.48 L597.09,31.22 L597.93,30.96 L598.76,30.70 L599.60,30.44 L600.43,30.17 L601.26,29.90 L602.10,29.63 L602.93,29.36 L603.77,29.09 L604.60,28.82 L605.43,28.55 L606.27,28.29 L607.10,28.02 L607.93,27.76 L608.77,27.50 L609.60,27.25 L610.44,27.00 L611.27,26.75 L612.10,26.51 L612.94,26.27 L613.77,26.04 L614.60,25.81 L615.44,25.59 L616.27,25.38 L617.11,25.17 L617.94,24.96 L618.77,24.77 L619.61,24.58 L620.44,24.39 L621.27,24.21 L622.11,24.04 L622.94,23.87 L623.78,23.71 L624.61,23.56 L625.44,23.41 L626.28,23.27 L627.11,23.14 L627.94,23.01 L628.78,22.89 L629.61,22.77 L630.45,22.66 L631.28,22.55 L632.11,22.45 L632.95,22.35 L633.78,22.26 L634.61,22.18 L635.45,22.10 L636.28,22.02 L637.12,21.95 L637.95,21.88 L638.78,21.82 L639.62,21.76 L640.45,21.70 L641.28,21.65 L642.12,21.60 L642.95,21.55 L643.79,21.51 L644.62,21.47 L645.45,21.43 L646.29,21.40 L647.12,21.36 L647.95,21.33 L648.79,21.30 L649.62,21.28 L650.46,21.26 L651.29,21.23 L652.12,21.21 L652.96,21.19 L653.79,21.18 L654.62,21.16 L655.46,21.15 L656.29,21.13 L657.13,21.12 L657.96,21.11 L658.79,21.10 L659.63,21.09 L660.46,21.08 L661.29,21.07 L662.13,21.07 L662.96,21.06 L663.80,21.05 L664.63,21.05 L665.46,21.04 L666.30,21.04 L667.13,21.03 L667.96,21.03 L668.80,21.03 L669.63,21.02 L670.47,21.02 L671.30,21.02 L672.13,21.02 L672.97,21.02 L673.80,21.01 L674.63,21.01 L675.47,21.01 L676.30,21.01 L677.14,21.01 L677.97,21.01 L678.80,21.01 L679.64,21.01 L680.47,21.01 L681.30,21.00 L682.14,21.00 L682.97,21.00 L683.81,21.00 L684.64,21.00 L685.47,21.00 L686.31,21.00 L687.14,21.00 L687.97,21.00 L688.81,21.00 L689.64,21.00 L690.48,21.00 L691.31,21.00 L692.14,21.00 L692.98,21.00 L693.81,21.00 L694.64,21.00 L695.48,21.00 L696.31,21.00 L697.15,21.00 L697.98,21.00 L698.81,21.00 L699.65,21.00 L700.48,21.00 L701.31,21.00 L702.15,21.00 L702.98,21.00 L703.82,21.00 L704.65,21.00 L705.48,21.00 L706.32,21.00 L707.15,21.00 L707.98,21.00" fill="none" stroke="#f00" stroke-width="3.8" stroke-linejoin="round"/>
<text transform="translate(94.30,31.90) scale(0.9858,1)" font-family="'Liberation Sans', Arial, sans-serif" font-weight="bold" font-size="30.54" fill="#000" >0</text>
<text transform="translate(52.42,117.03) scale(0.9288,1)" font-family="'Liberation Sans', Arial, sans-serif" font-weight="bold" font-size="31.68" fill="#000" >-200</text>
<text transform="translate(52.42,201.85) scale(0.9288,1)" font-family="'Liberation Sans', Arial, sans-serif" font-weight="bold" font-size="31.68" fill="#000" >-400</text>
<text transform="translate(52.42,286.68) scale(0.9288,1)" font-family="'Liberation Sans', Arial, sans-serif" font-weight="bold" font-size="31.68" fill="#000" >-600</text>
<text transform="translate(52.42,371.50) scale(0.9288,1)" font-family="'Liberation Sans', Arial, sans-serif" font-weight="bold" font-size="31.68" fill="#000" >-800</text>
<text transform="translate(159.75,444.30) scale(0.9311,1)" font-family="'Liberation Sans', Arial, sans-serif" font-weight="bold" font-size="31.97" fill="#000" >450</text>
<text transform="translate(333.82,444.30) scale(0.9413,1)" font-family="'Liberation Sans', Arial, sans-serif" font-weight="bold" font-size="31.97" fill="#000" >500</text>
<text transform="translate(508.41,444.30) scale(0.9413,1)" font-family="'Liberation Sans', Arial, sans-serif" font-weight="bold" font-size="31.97" fill="#000" >550</text>
<text transform="translate(682.85,444.30) scale(0.9442,1)" font-family="'Liberation Sans', Arial, sans-serif" font-weight="bold" font-size="31.97" fill="#000" >600</text>
<text transform="translate(302.33,492.00) scale(0.9324,1)" font-family="'Liberation Serif', 'Times New Roman', serif" font-weight="bold" font-size="33.59" fill="#000" >Wavelength (nm)</text>
<g transform="translate(30.60,299.70) rotate(-90)"><text transform="translate(-0.88,0) scale(0.9908,1)" font-family="'Liberation Serif', 'Times New Roman', serif" font-weight="bold" font-size="32.37">m deg (mM<tspan font-size="20.07" dy="-11.65">-1</tspan><tspan dy="11.65">)</tspan></text></g>
<rect x="936.4" y="1.8" width="595.6" height="398.5" fill="none" stroke="#000" stroke-width="3.8"/>
<line x1="924.4" y1="16.40" x2="936.4" y2="16.40" stroke="#000" stroke-width="3.6"/>
<line x1="924.4" y1="163.95" x2="936.4" y2="163.95" stroke="#000" stroke-width="3.6"/>
<line x1="924.4" y1="311.50" x2="936.4" y2="311.50" stroke="#000" stroke-width="3.6"/>
<line x1="1037.50" y1="400.3" x2="1037.50" y2="412.3" stroke="#000" stroke-width="3.6"/>
<line x1="1182.90" y1="400.3" x2="1182.90" y2="412.3" stroke="#000" stroke-width="3.6"/>
<line x1="1328.30" y1="400.3" x2="1328.30" y2="412.3" stroke="#000" stroke-width="3.6"/>
<line x1="1473.70" y1="400.3" x2="1473.70" y2="412.3" stroke="#000" stroke-width="3.6"/>
<text transform="translate(1009.21,196.80) scale(0.9623,1)" font-family="'Liberation Sans', Arial, sans-serif" font-weight="bold" font-size="33.84" fill="#000" >470</text>
<text transform="translate(1129.31,289.50) scale(0.9423,1)" font-family="'Liberation Sans', Arial, sans-serif" font-weight="bold" font-size="34.55" fill="#000" >490</text>
<text transform="translate(1179.87,197.30) scale(0.9395,1)" font-family="'Liberation Sans', Arial, sans-serif" font-weight="bold" font-size="33.84" fill="#000" >505</text>
<text transform="translate(1277.25,154.70) scale(0.9378,1)" font-family="'Liberation Sans', Arial, sans-serif" font-weight="bold" font-size="34.55" fill="#000" >517</text>
<text transform="translate(1348.73,90.30) scale(0.9424,1)" font-family="'Liberation Sans', Arial, sans-serif" font-weight="bold" font-size="34.98" fill="#000" >567</text>
<path d="M936.59,17.92 L937.43,18.31 L938.27,18.22 L939.11,18.07 L939.95,18.44 L940.78,19.45 L941.62,20.65 L942.46,21.57 L943.30,22.35 L944.14,23.57 L944.98,28.42 L945.81,30.52 L946.65,32.33 L947.49,34.04 L948.33,36.07 L949.17,38.39 L950.00,40.54 L950.84,42.24 L951.68,43.46 L952.52,44.26 L953.36,44.75 L954.20,45.12 L955.03,45.46 L955.87,45.77 L956.71,46.10 L957.55,46.54 L958.39,46.98 L959.23,47.14 L960.06,46.84 L960.90,46.17 L961.74,45.25 L962.58,44.28 L963.42,43.46 L964.26,42.90 L965.09,42.44 L965.93,41.78 L966.77,40.63 L967.61,38.87 L968.45,36.55 L969.29,34.03 L970.12,31.84 L970.96,30.30 L971.80,29.23 L972.64,28.24 L973.48,27.22 L974.32,26.33 L975.15,25.71 L975.99,25.11 L976.83,24.29 L977.67,23.40 L978.51,22.79 L979.34,22.64 L980.18,22.79 L981.02,22.86 L981.86,22.49 L982.70,21.53 L983.54,20.23 L984.37,19.14 L985.21,18.76 L986.05,19.18 L986.89,20.19 L987.73,21.35 L988.57,22.32 L989.40,22.94 L990.24,23.41 L991.08,23.93 L991.92,24.55 L992.76,25.19 L993.60,25.87 L994.43,26.60 L995.27,27.36 L996.11,28.15 L996.95,29.07 L997.79,30.18 L998.63,31.54 L999.46,32.94 L1000.30,34.04 L1001.14,34.70 L1001.98,35.27 L1002.82,36.16 L1003.66,37.36 L1004.49,38.58 L1005.33,39.72 L1006.17,40.80 L1007.01,41.83 L1007.85,42.80 L1008.69,43.73 L1009.52,44.62 L1010.36,45.44 L1011.20,46.24 L1012.04,47.28 L1012.88,48.89 L1013.71,51.07 L1014.55,53.33 L1015.39,55.04 L1016.23,56.05 L1017.07,56.82 L1017.91,57.84 L1018.74,59.25 L1019.58,60.83 L1020.42,62.26 L1021.26,63.39 L1022.10,64.23 L1022.94,64.88 L1023.77,65.58 L1024.61,66.68 L1025.45,68.22 L1026.29,69.95 L1027.13,71.62 L1027.97,73.27 L1028.80,75.02 L1029.64,76.89 L1030.48,78.88 L1031.32,80.91 L1032.16,82.65 L1033.00,83.83 L1033.83,84.59 L1034.67,85.29 L1035.51,86.22 L1036.35,87.53 L1037.19,89.33 L1038.03,91.53 L1038.86,93.90 L1039.70,96.13 L1040.54,97.99 L1041.38,99.35 L1042.22,100.34 L1043.05,101.22 L1043.89,102.17 L1044.73,103.11 L1045.57,104.02 L1046.41,104.98 L1047.25,106.04 L1048.08,107.14 L1048.92,108.33 L1049.76,109.79 L1050.60,111.68 L1051.44,113.91 L1052.28,116.13 L1053.11,117.94 L1053.95,119.16 L1054.79,119.95 L1055.63,120.85 L1056.47,122.24 L1057.31,123.90 L1058.14,125.38 L1058.98,126.62 L1059.82,127.98 L1060.66,129.71 L1061.50,131.79 L1062.34,133.98 L1063.17,135.88 L1064.01,137.15 L1064.85,137.91 L1065.69,138.76 L1066.53,140.05 L1067.37,141.60 L1068.20,143.07 L1069.04,144.21 L1069.88,144.94 L1070.72,145.48 L1071.56,146.31 L1072.39,147.78 L1073.23,149.65 L1074.07,151.40 L1074.91,152.77 L1075.75,153.79 L1076.59,154.38 L1077.42,154.50 L1078.26,154.51 L1079.10,154.90 L1079.94,155.86 L1080.78,157.30 L1081.62,159.06 L1082.45,160.77 L1083.29,161.94 L1084.13,162.45 L1084.97,162.69 L1085.81,162.96 L1086.65,163.11 L1087.48,163.07 L1088.32,163.27 L1089.16,164.13 L1090.00,165.56 L1090.84,167.09 L1091.68,168.53 L1092.51,169.93 L1093.35,171.14 L1094.19,171.93 L1095.03,172.54 L1095.87,173.38 L1096.71,174.58 L1097.54,175.78 L1098.38,176.76 L1099.22,177.73 L1100.06,179.22 L1100.90,181.32 L1101.73,183.54 L1102.57,185.46 L1103.41,187.26 L1104.25,189.21 L1105.09,191.06 L1105.93,192.40 L1106.76,193.39 L1107.60,194.51 L1108.44,196.04 L1109.28,197.89 L1110.12,199.87 L1110.96,201.73 L1111.79,203.28 L1112.63,204.79 L1113.47,206.78 L1114.31,209.55 L1115.15,212.92 L1115.99,216.63 L1116.82,220.45 L1117.66,224.12 L1118.50,227.28 L1119.34,229.77 L1120.18,231.92 L1121.02,234.28 L1121.85,237.25 L1122.69,240.85 L1123.53,244.98 L1124.37,249.56 L1125.21,254.34 L1126.05,258.98 L1126.88,263.33 L1127.72,267.52 L1128.56,271.47 L1129.40,275.03 L1130.24,278.40 L1131.07,281.90 L1131.91,285.55 L1132.75,288.99 L1133.59,292.09 L1134.43,295.16 L1135.27,298.47 L1136.10,301.90 L1136.94,305.07 L1137.78,307.81 L1138.62,310.44 L1139.46,313.40 L1140.30,316.84 L1141.13,320.40 L1141.97,323.57 L1142.81,326.09 L1143.65,328.28 L1144.49,330.53 L1145.33,332.81 L1146.16,334.71 L1147.00,336.02 L1147.84,336.89 L1148.68,337.49 L1149.52,337.78 L1150.36,337.72 L1151.19,337.39 L1152.03,337.00 L1152.87,336.80 L1153.71,336.99 L1154.55,337.50 L1155.39,337.98 L1156.22,338.06 L1157.06,337.66 L1157.90,336.94 L1158.74,336.27 L1159.58,335.82 L1160.41,335.41 L1161.25,334.57 L1162.09,333.20 L1162.93,331.64 L1163.77,330.16 L1164.61,328.73 L1165.44,327.37 L1166.28,326.36 L1167.12,325.76 L1167.96,325.31 L1168.80,324.79 L1169.64,324.13 L1170.47,323.31 L1171.31,322.31 L1172.15,321.35 L1172.99,320.81 L1173.83,320.84 L1174.67,321.14 L1175.50,321.27 L1176.34,321.02 L1177.18,320.63 L1178.02,320.39 L1178.86,320.38 L1179.70,320.56 L1180.53,320.95 L1181.37,321.51 L1182.21,321.98 L1183.05,322.11 L1183.89,322.10 L1184.73,322.27 L1185.56,322.67 L1186.40,322.95 L1187.24,322.89 L1188.08,322.66 L1188.92,322.56 L1189.75,322.65 L1190.59,322.62 L1191.43,322.10 L1192.27,321.05 L1193.11,319.69 L1193.95,318.32 L1194.78,317.19 L1195.62,316.65 L1196.46,316.71 L1197.30,316.85 L1198.14,316.37 L1198.98,315.01 L1199.81,312.98 L1200.65,310.60 L1201.49,308.09 L1202.33,305.37 L1203.17,302.02 L1204.01,297.76 L1204.84,293.00 L1205.68,288.49 L1206.52,284.56 L1207.36,281.10 L1208.20,278.01 L1209.04,275.38 L1209.87,273.02 L1210.71,270.50 L1211.55,267.55 L1212.39,264.17 L1213.23,260.46 L1214.07,256.50 L1214.90,252.40 L1215.74,248.40 L1216.58,244.56 L1217.42,240.65 L1218.26,236.50 L1219.09,232.24 L1219.93,228.21 L1220.77,224.62 L1221.61,221.64 L1222.45,219.42 L1223.29,217.86 L1224.12,216.56 L1224.96,215.10 L1225.80,213.38 L1226.64,211.47 L1227.48,209.41 L1228.32,207.11 L1229.15,204.53 L1229.99,201.89 L1230.83,199.54 L1231.67,197.59 L1232.51,195.80 L1233.35,193.89 L1234.18,191.83 L1235.02,189.70 L1235.86,187.55 L1236.70,185.40 L1237.54,183.37 L1238.38,181.67 L1239.21,180.35 L1240.05,179.18 L1240.89,177.94 L1241.73,176.74 L1242.57,175.91 L1243.41,175.42 L1244.24,174.56 L1245.08,172.55 L1245.92,169.37 L1246.76,165.89 L1247.60,163.03 L1248.43,161.20 L1249.27,160.09 L1250.11,159.10 L1250.95,157.75 L1251.79,155.87 L1252.63,153.67 L1253.46,151.40 L1254.30,149.22 L1255.14,147.31 L1255.98,145.72 L1256.82,144.35 L1257.66,142.78 L1258.49,140.64 L1259.33,137.92 L1260.17,134.96 L1261.01,132.16 L1261.85,129.66 L1262.69,127.52 L1263.52,125.75 L1264.36,124.16 L1265.20,122.43 L1266.04,120.47 L1266.88,118.56 L1267.72,116.88 L1268.55,115.29 L1269.39,113.46 L1270.23,111.28 L1271.07,108.92 L1271.91,106.61 L1272.75,104.31 L1273.58,101.80 L1274.42,99.10 L1275.26,96.65 L1276.10,94.77 L1276.94,93.28 L1277.77,91.69 L1278.61,89.70 L1279.45,87.42 L1280.29,85.27 L1281.13,83.59 L1281.97,82.22 L1282.80,80.72 L1283.64,78.81 L1284.48,76.78 L1285.32,75.02 L1286.16,73.56 L1287.00,72.09 L1287.83,70.57 L1288.67,69.37 L1289.51,68.69 L1290.35,68.19 L1291.19,67.43 L1292.03,66.24 L1292.86,64.71 L1293.70,62.94 L1294.54,61.17 L1295.38,59.75 L1296.22,58.76 L1297.06,57.90 L1297.89,56.94 L1298.73,55.91 L1299.57,54.91 L1300.41,53.85 L1301.25,52.73 L1302.09,51.59 L1302.92,50.40 L1303.76,49.15 L1304.60,47.85 L1305.44,46.61 L1306.28,45.48 L1307.11,44.69 L1307.95,44.53 L1308.79,44.91 L1309.63,45.27 L1310.47,45.07 L1311.31,44.34 L1312.14,43.65 L1312.98,43.40 L1313.82,43.58 L1314.66,43.89 L1315.50,44.04 L1316.34,43.92 L1317.17,43.57 L1318.01,43.03 L1318.85,42.32 L1319.69,41.61 L1320.53,41.17 L1321.37,41.00 L1322.20,40.76 L1323.04,40.21 L1323.88,39.52 L1324.72,39.03 L1325.56,38.79 L1326.40,38.57 L1327.23,38.27 L1328.07,38.11 L1328.91,38.45 L1329.75,39.35 L1330.59,40.37 L1331.43,40.85 L1332.26,40.47 L1333.10,39.58 L1333.94,38.94 L1334.78,38.96 L1335.62,39.53 L1336.45,40.27 L1337.29,40.89 L1338.13,41.30 L1338.97,41.47 L1339.81,41.43 L1340.65,41.21 L1341.48,40.84 L1342.32,40.44 L1343.16,40.10 L1344.00,40.02 L1344.84,40.40 L1345.68,41.22 L1346.51,41.96 L1347.35,41.88 L1348.19,40.87 L1349.03,39.57 L1349.87,38.88 L1350.71,39.12 L1351.54,39.95 L1352.38,40.85 L1353.22,41.63 L1354.06,42.41 L1354.90,43.21 L1355.74,43.89 L1356.57,44.41 L1357.41,44.78 L1358.25,44.83 L1359.09,44.37 L1359.93,43.60 L1360.77,43.00 L1361.60,42.79 L1362.44,42.94 L1363.28,43.22 L1364.12,43.46 L1364.96,43.55 L1365.79,43.49 L1366.63,43.52 L1367.47,43.99 L1368.31,44.74 L1369.15,45.10 L1369.99,44.65 L1370.82,43.89 L1371.66,43.64 L1372.50,44.15 L1373.34,45.02 L1374.18,45.66 L1375.02,45.80 L1375.85,45.66 L1376.69,45.62 L1377.53,45.69 L1378.37,45.43 L1379.21,44.53 L1380.05,43.11 L1380.88,41.56 L1381.72,40.29 L1382.56,39.66 L1383.40,39.86 L1384.24,40.67 L1385.08,41.52 L1385.91,41.96 L1386.75,43.75 L1387.59,44.33 L1388.43,44.09 L1389.27,44.02 L1390.11,43.74 L1390.94,42.84 L1391.78,42.03 L1392.62,41.69 L1393.46,41.50 L1394.30,41.07 L1395.13,40.10 L1395.97,38.77 L1396.81,37.97 L1397.65,38.01 L1398.49,37.82 L1399.33,37.16 L1400.16,36.67 L1401.00,36.74 L1401.84,37.47 L1402.68,38.24 L1403.52,38.95 L1404.36,39.58 L1405.19,39.65 L1406.03,39.55 L1406.87,40.11 L1407.71,40.77 L1408.55,40.92 L1409.39,40.21 L1410.22,38.15 L1411.06,36.19 L1411.90,35.56 L1412.74,35.51 L1413.58,35.28 L1414.42,34.95 L1415.25,35.13 L1416.09,36.03 L1416.93,36.51 L1417.77,35.28 L1418.61,34.07 L1419.45,34.33 L1420.28,35.07 L1421.12,35.66 L1421.96,36.25 L1422.80,35.99 L1423.64,35.06 L1424.47,34.30 L1425.31,33.69 L1426.15,33.40 L1426.99,33.19 L1427.83,32.42 L1428.67,31.27 L1429.50,30.05 L1430.34,29.24 L1431.18,29.55 L1432.02,30.43 L1432.86,30.68 L1433.70,29.88 L1434.53,29.04 L1435.37,28.79 L1436.21,28.48 L1437.05,28.17 L1437.89,28.10 L1438.73,27.91 L1439.56,27.97 L1440.40,28.61 L1441.24,29.18 L1442.08,29.61 L1442.92,29.70 L1443.76,29.59 L1444.59,28.98 L1445.43,28.10 L1446.27,27.50 L1447.11,26.74 L1447.95,25.93 L1448.79,25.17 L1449.62,24.47 L1450.46,23.78 L1451.30,23.09 L1452.14,22.60 L1452.98,22.78 L1453.81,23.89 L1454.65,25.29 L1455.49,26.50 L1456.33,27.14 L1457.17,26.40 L1458.01,24.52 L1458.84,22.62 L1459.68,21.66 L1460.52,21.46 L1461.36,20.78 L1462.20,20.33 L1463.04,20.85 L1463.87,21.56 L1464.71,22.12 L1465.55,22.38 L1466.39,22.81 L1467.23,23.70 L1468.07,23.42 L1468.90,21.65 L1469.74,20.34 L1470.58,19.95 L1471.42,19.85 L1472.26,20.19 L1473.10,20.97 L1473.93,21.41 L1474.77,21.43 L1475.61,20.96 L1476.45,20.05 L1477.29,19.63 L1478.13,19.99 L1478.96,20.73 L1479.80,21.73 L1480.64,22.31 L1481.48,22.86 L1482.32,23.52 L1483.15,22.91 L1483.99,21.40 L1484.83,20.50 L1485.67,20.07 L1486.51,20.13 L1487.35,20.84 L1488.18,21.51 L1489.02,22.03 L1489.86,22.04 L1490.70,21.64 L1491.54,21.84 L1492.38,22.86 L1493.21,24.03 L1494.05,24.59 L1494.89,24.91 L1495.73,25.21 L1496.57,25.04 L1497.41,24.70 L1498.24,24.72 L1499.08,25.03 L1499.92,25.13 L1500.76,25.28 L1501.60,25.01 L1502.44,23.80 L1503.27,22.87 L1504.11,22.85 L1504.95,23.16 L1505.79,23.83 L1506.63,24.80 L1507.47,25.45 L1508.30,25.35 L1509.14,25.12 L1509.98,25.65 L1510.82,26.51 L1511.66,26.82 L1512.49,26.75 L1513.33,26.75 L1514.17,26.98 L1515.01,26.93 L1515.85,26.37 L1516.69,25.88 L1517.52,25.17 L1518.36,24.19 L1519.20,23.59 L1520.04,24.15 L1520.88,25.34 L1521.72,25.96 L1522.55,25.77" fill="none" stroke="#000" stroke-width="6.2" stroke-linejoin="round" stroke-linecap="round"/>
<path d="M936.59,17.51 L937.43,17.56 L938.27,17.63 L939.11,17.69 L939.95,17.76 L940.78,17.82 L941.62,17.90 L942.46,17.97 L943.30,18.05 L944.14,18.14 L944.98,18.22 L945.81,18.31 L946.65,18.41 L947.49,18.50 L948.33,18.61 L949.17,18.71 L950.00,18.83 L950.84,18.94 L951.68,19.06 L952.52,19.19 L953.36,19.32 L954.20,19.46 L955.03,19.60 L955.87,19.75 L956.71,19.90 L957.55,20.06 L958.39,20.22 L959.23,20.40 L960.06,20.58 L960.90,20.76 L961.74,20.95 L962.58,21.15 L963.42,21.36 L964.26,21.58 L965.09,21.80 L965.93,22.03 L966.77,22.27 L967.61,22.52 L968.45,22.78 L969.29,23.04 L970.12,23.32 L970.96,23.60 L971.80,23.90 L972.64,24.20 L973.48,24.52 L974.32,24.84 L975.15,25.18 L975.99,25.52 L976.83,25.88 L977.67,26.25 L978.51,26.63 L979.34,27.02 L980.18,27.43 L981.02,27.84 L981.86,28.27 L982.70,28.71 L983.54,29.17 L984.37,29.64 L985.21,30.12 L986.05,30.61 L986.89,31.12 L987.73,31.65 L988.57,32.19 L989.40,32.74 L990.24,33.31 L991.08,33.89 L991.92,34.49 L992.76,35.10 L993.60,35.73 L994.43,36.37 L995.27,37.03 L996.11,37.71 L996.95,38.40 L997.79,39.11 L998.63,39.84 L999.46,40.58 L1000.30,41.34 L1001.14,42.12 L1001.98,42.91 L1002.82,43.72 L1003.66,44.55 L1004.49,45.40 L1005.33,46.26 L1006.17,47.14 L1007.01,48.04 L1007.85,48.95 L1008.69,49.88 L1009.52,50.83 L1010.36,51.80 L1011.20,52.79 L1012.04,53.79 L1012.88,54.81 L1013.71,55.85 L1014.55,56.90 L1015.39,57.97 L1016.23,59.06 L1017.07,60.16 L1017.91,61.28 L1018.74,62.42 L1019.58,63.58 L1020.42,64.75 L1021.26,65.93 L1022.10,67.13 L1022.94,68.35 L1023.77,69.58 L1024.61,70.82 L1025.45,72.08 L1026.29,73.36 L1027.13,74.64 L1027.97,75.94 L1028.80,77.26 L1029.64,78.58 L1030.48,79.92 L1031.32,81.27 L1032.16,82.63 L1033.00,84.00 L1033.83,85.38 L1034.67,86.76 L1035.51,88.16 L1036.35,89.57 L1037.19,90.98 L1038.03,92.40 L1038.86,93.83 L1039.70,95.26 L1040.54,96.70 L1041.38,98.14 L1042.22,99.58 L1043.05,101.03 L1043.89,102.48 L1044.73,103.93 L1045.57,105.38 L1046.41,106.84 L1047.25,108.29 L1048.08,109.74 L1048.92,111.18 L1049.76,112.63 L1050.60,114.07 L1051.44,115.50 L1052.28,116.93 L1053.11,118.36 L1053.95,119.78 L1054.79,121.18 L1055.63,122.59 L1056.47,123.98 L1057.31,125.36 L1058.14,126.73 L1058.98,128.09 L1059.82,129.43 L1060.66,130.77 L1061.50,132.09 L1062.34,133.39 L1063.17,134.68 L1064.01,135.96 L1064.85,137.21 L1065.69,138.46 L1066.53,139.68 L1067.37,140.89 L1068.20,142.08 L1069.04,143.25 L1069.88,144.41 L1070.72,145.54 L1071.56,146.66 L1072.39,147.76 L1073.23,148.84 L1074.07,149.90 L1074.91,150.94 L1075.75,151.97 L1076.59,152.98 L1077.42,153.97 L1078.26,154.95 L1079.10,155.91 L1079.94,156.86 L1080.78,157.79 L1081.62,158.71 L1082.45,159.63 L1083.29,160.53 L1084.13,161.42 L1084.97,162.31 L1085.81,163.20 L1086.65,164.09 L1087.48,164.97 L1088.32,165.86 L1089.16,166.75 L1090.00,167.65 L1090.84,168.57 L1091.68,169.50 L1092.51,170.44 L1093.35,171.41 L1094.19,172.39 L1095.03,173.41 L1095.87,174.46 L1096.71,175.54 L1097.54,176.66 L1098.38,177.82 L1099.22,179.03 L1100.06,180.29 L1100.90,181.60 L1101.73,182.97 L1102.57,184.41 L1103.41,185.90 L1104.25,187.47 L1105.09,189.11 L1105.93,190.83 L1106.76,192.62 L1107.60,194.50 L1108.44,196.46 L1109.28,198.51 L1110.12,200.65 L1110.96,202.88 L1111.79,205.21 L1112.63,207.63 L1113.47,210.15 L1114.31,212.76 L1115.15,215.46 L1115.99,218.26 L1116.82,221.16 L1117.66,224.14 L1118.50,227.21 L1119.34,230.37 L1120.18,233.62 L1121.02,236.94 L1121.85,240.33 L1122.69,243.79 L1123.53,247.32 L1124.37,250.90 L1125.21,254.52 L1126.05,258.19 L1126.88,261.89 L1127.72,265.62 L1128.56,269.36 L1129.40,273.10 L1130.24,276.84 L1131.07,280.56 L1131.91,284.26 L1132.75,287.92 L1133.59,291.53 L1134.43,295.08 L1135.27,298.56 L1136.10,301.96 L1136.94,305.27 L1137.78,308.47 L1138.62,311.56 L1139.46,314.52 L1140.30,317.35 L1141.13,320.04 L1141.97,322.58 L1142.81,324.95 L1143.65,327.16 L1144.49,329.20 L1145.33,331.07 L1146.16,332.75 L1147.00,334.25 L1147.84,335.56 L1148.68,336.68 L1149.52,337.62 L1150.36,338.37 L1151.19,338.94 L1152.03,339.33 L1152.87,339.55 L1153.71,339.60 L1154.55,339.49 L1155.39,339.22 L1156.22,338.82 L1157.06,338.29 L1157.90,337.64 L1158.74,336.88 L1159.58,336.02 L1160.41,335.09 L1161.25,334.09 L1162.09,333.03 L1162.93,331.94 L1163.77,330.83 L1164.61,329.71 L1165.44,328.59 L1166.28,327.50 L1167.12,326.43 L1167.96,325.41 L1168.80,324.45 L1169.64,323.55 L1170.47,322.72 L1171.31,321.98 L1172.15,321.33 L1172.99,320.77 L1173.83,320.31 L1174.67,319.95 L1175.50,319.68 L1176.34,319.52 L1177.18,319.44 L1178.02,319.45 L1178.86,319.54 L1179.70,319.70 L1180.53,319.93 L1181.37,320.20 L1182.21,320.51 L1183.05,320.84 L1183.89,321.18 L1184.73,321.51 L1185.56,321.83 L1186.40,322.10 L1187.24,322.31 L1188.08,322.46 L1188.92,322.51 L1189.75,322.47 L1190.59,322.30 L1191.43,322.00 L1192.27,321.56 L1193.11,320.97 L1193.95,320.20 L1194.78,319.27 L1195.62,318.15 L1196.46,316.84 L1197.30,315.35 L1198.14,313.67 L1198.98,311.79 L1199.81,309.73 L1200.65,307.49 L1201.49,305.06 L1202.33,302.47 L1203.17,299.71 L1204.01,296.80 L1204.84,293.75 L1205.68,290.58 L1206.52,287.29 L1207.36,283.90 L1208.20,280.42 L1209.04,276.87 L1209.87,273.27 L1210.71,269.63 L1211.55,265.96 L1212.39,262.28 L1213.23,258.61 L1214.07,254.95 L1214.90,251.33 L1215.74,247.75 L1216.58,244.22 L1217.42,240.75 L1218.26,237.36 L1219.09,234.04 L1219.93,230.82 L1220.77,227.68 L1221.61,224.64 L1222.45,221.70 L1223.29,218.86 L1224.12,216.12 L1224.96,213.49 L1225.80,210.95 L1226.64,208.51 L1227.48,206.17 L1228.32,203.91 L1229.15,201.75 L1229.99,199.66 L1230.83,197.65 L1231.67,195.72 L1232.51,193.84 L1233.35,192.03 L1234.18,190.26 L1235.02,188.55 L1235.86,186.87 L1236.70,185.22 L1237.54,183.60 L1238.38,182.00 L1239.21,180.42 L1240.05,178.84 L1240.89,177.27 L1241.73,175.70 L1242.57,174.12 L1243.41,172.54 L1244.24,170.94 L1245.08,169.33 L1245.92,167.70 L1246.76,166.04 L1247.60,164.36 L1248.43,162.66 L1249.27,160.93 L1250.11,159.18 L1250.95,157.40 L1251.79,155.58 L1252.63,153.75 L1253.46,151.88 L1254.30,149.98 L1255.14,148.06 L1255.98,146.12 L1256.82,144.15 L1257.66,142.15 L1258.49,140.14 L1259.33,138.10 L1260.17,136.05 L1261.01,133.98 L1261.85,131.90 L1262.69,129.81 L1263.52,127.71 L1264.36,125.60 L1265.20,123.48 L1266.04,121.37 L1266.88,119.25 L1267.72,117.13 L1268.55,115.02 L1269.39,112.91 L1270.23,110.82 L1271.07,108.73 L1271.91,106.65 L1272.75,104.59 L1273.58,102.55 L1274.42,100.53 L1275.26,98.52 L1276.10,96.54 L1276.94,94.58 L1277.77,92.65 L1278.61,90.75 L1279.45,88.87 L1280.29,87.03 L1281.13,85.21 L1281.97,83.43 L1282.80,81.68 L1283.64,79.97 L1284.48,78.29 L1285.32,76.65 L1286.16,75.04 L1287.00,73.48 L1287.83,71.95 L1288.67,70.46 L1289.51,69.01 L1290.35,67.61 L1291.19,66.24 L1292.03,64.91 L1292.86,63.62 L1293.70,62.38 L1294.54,61.17 L1295.38,60.00 L1296.22,58.88 L1297.06,57.79 L1297.89,56.75 L1298.73,55.74 L1299.57,54.78 L1300.41,53.85 L1301.25,52.96 L1302.09,52.11 L1302.92,51.30 L1303.76,50.52 L1304.60,49.78 L1305.44,49.08 L1306.28,48.41 L1307.11,47.77 L1307.95,47.17 L1308.79,46.60 L1309.63,46.06 L1310.47,45.55 L1311.31,45.07 L1312.14,44.63 L1312.98,44.21 L1313.82,43.81 L1314.66,43.45 L1315.50,43.11 L1316.34,42.79 L1317.17,42.50 L1318.01,42.24 L1318.85,41.99 L1319.69,41.77 L1320.53,41.57 L1321.37,41.39 L1322.20,41.22 L1323.04,41.08 L1323.88,40.95 L1324.72,40.84 L1325.56,40.74 L1326.40,40.66 L1327.23,40.59 L1328.07,40.54 L1328.91,40.50 L1329.75,40.47 L1330.59,40.45 L1331.43,40.45 L1332.26,40.45 L1333.10,40.46 L1333.94,40.48 L1334.78,40.51 L1335.62,40.55 L1336.45,40.59 L1337.29,40.64 L1338.13,40.69 L1338.97,40.75 L1339.81,40.82 L1340.65,40.89 L1341.48,40.96 L1342.32,41.03 L1343.16,41.11 L1344.00,41.19 L1344.84,41.27 L1345.68,41.35 L1346.51,41.44 L1347.35,41.52 L1348.19,41.61 L1349.03,41.69 L1349.87,41.78 L1350.71,41.86 L1351.54,41.94 L1352.38,42.02 L1353.22,42.10 L1354.06,42.18 L1354.90,42.25 L1355.74,42.33 L1356.57,42.40 L1357.41,42.46 L1358.25,42.53 L1359.09,42.59 L1359.93,42.65 L1360.77,42.70 L1361.60,42.75 L1362.44,42.80 L1363.28,42.84 L1364.12,42.88 L1364.96,42.92 L1365.79,42.95 L1366.63,42.97 L1367.47,42.99 L1368.31,43.01 L1369.15,43.02 L1369.99,43.03 L1370.82,43.03 L1371.66,43.03 L1372.50,43.02 L1373.34,43.01 L1374.18,43.00 L1375.02,42.98 L1375.85,42.95 L1376.69,42.93 L1377.53,42.89 L1378.37,42.86 L1379.21,42.82 L1380.05,42.77 L1380.88,42.72 L1381.72,42.67 L1382.56,42.61 L1383.40,42.55 L1384.24,42.49 L1385.08,42.42 L1385.91,42.34 L1386.75,42.27 L1387.59,42.19 L1388.43,42.10 L1389.27,42.01 L1390.11,41.92 L1390.94,41.82 L1391.78,41.72 L1392.62,41.61 L1393.46,41.50 L1394.30,41.39 L1395.13,41.27 L1395.97,41.15 L1396.81,41.03 L1397.65,40.90 L1398.49,40.77 L1399.33,40.63 L1400.16,40.50 L1401.00,40.35 L1401.84,40.21 L1402.68,40.06 L1403.52,39.91 L1404.36,39.76 L1405.19,39.60 L1406.03,39.44 L1406.87,39.28 L1407.71,39.11 L1408.55,38.94 L1409.39,38.77 L1410.22,38.60 L1411.06,38.43 L1411.90,38.25 L1412.74,38.07 L1413.58,37.89 L1414.42,37.70 L1415.25,37.52 L1416.09,37.33 L1416.93,37.14 L1417.77,36.94 L1418.61,36.75 L1419.45,36.56 L1420.28,36.36 L1421.12,36.16 L1421.96,35.96 L1422.80,35.76 L1423.64,35.56 L1424.47,35.35 L1425.31,35.15 L1426.15,34.94 L1426.99,34.74 L1427.83,34.53 L1428.67,34.32 L1429.50,34.11 L1430.34,33.90 L1431.18,33.69 L1432.02,33.48 L1432.86,33.27 L1433.70,33.06 L1434.53,32.85 L1435.37,32.64 L1436.21,32.43 L1437.05,32.22 L1437.89,32.01 L1438.73,31.80 L1439.56,31.59 L1440.40,31.38 L1441.24,31.17 L1442.08,30.96 L1442.92,30.75 L1443.76,30.54 L1444.59,30.33 L1445.43,30.12 L1446.27,29.92 L1447.11,29.71 L1447.95,29.51 L1448.79,29.30 L1449.62,29.10 L1450.46,28.90 L1451.30,28.70 L1452.14,28.50 L1452.98,28.30 L1453.81,28.11 L1454.65,27.91 L1455.49,27.72 L1456.33,27.52 L1457.17,27.33 L1458.01,27.14 L1458.84,26.95 L1459.68,26.77 L1460.52,26.58 L1461.36,26.40 L1462.20,26.21 L1463.04,26.03 L1463.87,25.85 L1464.71,25.68 L1465.55,25.50 L1466.39,25.33 L1467.23,25.16 L1468.07,24.99 L1468.90,24.82 L1469.74,24.65 L1470.58,24.49 L1471.42,24.32 L1472.26,24.16 L1473.10,24.01 L1473.93,23.85 L1474.77,23.69 L1475.61,23.54 L1476.45,23.39 L1477.29,23.24 L1478.13,23.10 L1478.96,22.95 L1479.80,22.81 L1480.64,22.67 L1481.48,22.53 L1482.32,22.39 L1483.15,22.26 L1483.99,22.13 L1484.83,22.00 L1485.67,21.87 L1486.51,21.74 L1487.35,21.62 L1488.18,21.49 L1489.02,21.37 L1489.86,21.26 L1490.70,21.14 L1491.54,21.02 L1492.38,20.91 L1493.21,20.80 L1494.05,20.69 L1494.89,20.59 L1495.73,20.48 L1496.57,20.38 L1497.41,20.28 L1498.24,20.18 L1499.08,20.08 L1499.92,19.99 L1500.76,19.90 L1501.60,19.80 L1502.44,19.71 L1503.27,19.63 L1504.11,19.54 L1504.95,19.46 L1505.79,19.37 L1506.63,19.29 L1507.47,19.21 L1508.30,19.14 L1509.14,19.06 L1509.98,18.99 L1510.82,18.92 L1511.66,18.84 L1512.49,18.78 L1513.33,18.71 L1514.17,18.64 L1515.01,18.58 L1515.85,18.51 L1516.69,18.45 L1517.52,18.39 L1518.36,18.33 L1519.20,18.28 L1520.04,18.22 L1520.88,18.17 L1521.72,18.11 L1522.55,18.06" fill="none" stroke="#f00" stroke-width="4.0" stroke-dasharray="8.5 3.2"/>
<line x1="936.59" y1="16.40" x2="1522.55" y2="16.40" stroke="#f00" stroke-width="4.8"/>
<path d="M936.59,17.51 L937.43,17.56 L938.27,17.63 L939.11,17.69 L939.95,17.76 L940.78,17.82 L941.62,17.90 L942.46,17.97 L943.30,18.05 L944.14,18.14 L944.98,18.22 L945.81,18.31 L946.65,18.41 L947.49,18.50 L948.33,18.61 L949.17,18.71 L950.00,18.83 L950.84,18.94 L951.68,19.06 L952.52,19.19 L953.36,19.32 L954.20,19.46 L955.03,19.60 L955.87,19.75 L956.71,19.90 L957.55,20.06 L958.39,20.22 L959.23,20.40 L960.06,20.58 L960.90,20.76 L961.74,20.95 L962.58,21.15 L963.42,21.36 L964.26,21.58 L965.09,21.80 L965.93,22.03 L966.77,22.27 L967.61,22.52 L968.45,22.78 L969.29,23.04 L970.12,23.32 L970.96,23.60 L971.80,23.90 L972.64,24.20 L973.48,24.52 L974.32,24.84 L975.15,25.18 L975.99,25.52 L976.83,25.88 L977.67,26.25 L978.51,26.63 L979.34,27.02 L980.18,27.43 L981.02,27.84 L981.86,28.27 L982.70,28.71 L983.54,29.17 L984.37,29.64 L985.21,30.12 L986.05,30.61 L986.89,31.12 L987.73,31.65 L988.57,32.19 L989.40,32.74 L990.24,33.31 L991.08,33.89 L991.92,34.49 L992.76,35.10 L993.60,35.73 L994.43,36.37 L995.27,37.03 L996.11,37.71 L996.95,38.40 L997.79,39.11 L998.63,39.84 L999.46,40.58 L1000.30,41.34 L1001.14,42.12 L1001.98,42.91 L1002.82,43.72 L1003.66,44.55 L1004.49,45.40 L1005.33,46.26 L1006.17,47.14 L1007.01,48.04 L1007.85,48.95 L1008.69,49.88 L1009.52,50.83 L1010.36,51.80 L1011.20,52.79 L1012.04,53.79 L1012.88,54.81 L1013.71,55.85 L1014.55,56.90 L1015.39,57.97 L1016.23,59.06 L1017.07,60.16 L1017.91,61.28 L1018.74,62.42 L1019.58,63.58 L1020.42,64.75 L1021.26,65.93 L1022.10,67.13 L1022.94,68.35 L1023.77,69.58 L1024.61,70.82 L1025.45,72.08 L1026.29,73.36 L1027.13,74.64 L1027.97,75.94 L1028.80,77.26 L1029.64,78.58 L1030.48,79.92 L1031.32,81.27 L1032.16,82.63 L1033.00,84.00 L1033.83,85.38 L1034.67,86.76 L1035.51,88.16 L1036.35,89.57 L1037.19,90.98 L1038.03,92.40 L1038.86,93.82 L1039.70,95.26 L1040.54,96.69 L1041.38,98.13 L1042.22,99.58 L1043.05,101.03 L1043.89,102.47 L1044.73,103.92 L1045.57,105.38 L1046.41,106.83 L1047.25,108.28 L1048.08,109.72 L1048.92,111.17 L1049.76,112.61 L1050.60,114.05 L1051.44,115.48 L1052.28,116.91 L1053.11,118.33 L1053.95,119.74 L1054.79,121.15 L1055.63,122.54 L1056.47,123.92 L1057.31,125.30 L1058.14,126.66 L1058.98,128.01 L1059.82,129.34 L1060.66,130.66 L1061.50,131.96 L1062.34,133.25 L1063.17,134.52 L1064.01,135.77 L1064.85,137.00 L1065.69,138.22 L1066.53,139.41 L1067.37,140.58 L1068.20,141.73 L1069.04,142.85 L1069.88,143.95 L1070.72,145.03 L1071.56,146.08 L1072.39,147.10 L1073.23,148.10 L1074.07,149.06 L1074.91,150.00 L1075.75,150.91 L1076.59,151.79 L1077.42,152.64 L1078.26,153.46 L1079.10,154.24 L1079.94,155.00 L1080.78,155.72 L1081.62,156.40 L1082.45,157.05 L1083.29,157.67 L1084.13,158.25 L1084.97,158.79 L1085.81,159.30 L1086.65,159.77 L1087.48,160.21 L1088.32,160.61 L1089.16,160.97 L1090.00,161.29 L1090.84,161.57 L1091.68,161.82 L1092.51,162.02 L1093.35,162.19 L1094.19,162.32 L1095.03,162.41 L1095.87,162.46 L1096.71,162.47 L1097.54,162.45 L1098.38,162.38 L1099.22,162.27 L1100.06,162.13 L1100.90,161.94 L1101.73,161.72 L1102.57,161.46 L1103.41,161.16 L1104.25,160.82 L1105.09,160.45 L1105.93,160.03 L1106.76,159.58 L1107.60,159.10 L1108.44,158.57 L1109.28,158.01 L1110.12,157.42 L1110.96,156.79 L1111.79,156.12 L1112.63,155.42 L1113.47,154.69 L1114.31,153.92 L1115.15,153.13 L1115.99,152.30 L1116.82,151.43 L1117.66,150.54 L1118.50,149.62 L1119.34,148.67 L1120.18,147.69 L1121.02,146.68 L1121.85,145.65 L1122.69,144.59 L1123.53,143.50 L1124.37,142.39 L1125.21,141.26 L1126.05,140.10 L1126.88,138.92 L1127.72,137.72 L1128.56,136.50 L1129.40,135.26 L1130.24,134.00 L1131.07,132.72 L1131.91,131.43 L1132.75,130.12 L1133.59,128.79 L1134.43,127.45 L1135.27,126.10 L1136.10,124.73 L1136.94,123.36 L1137.78,121.97 L1138.62,120.57 L1139.46,119.16 L1140.30,117.75 L1141.13,116.32 L1141.97,114.89 L1142.81,113.46 L1143.65,112.02 L1144.49,110.58 L1145.33,109.13 L1146.16,107.68 L1147.00,106.23 L1147.84,104.78 L1148.68,103.33 L1149.52,101.88 L1150.36,100.43 L1151.19,98.98 L1152.03,97.54 L1152.87,96.10 L1153.71,94.67 L1154.55,93.24 L1155.39,91.81 L1156.22,90.40 L1157.06,88.99 L1157.90,87.58 L1158.74,86.19 L1159.58,84.81 L1160.41,83.43 L1161.25,82.07 L1162.09,80.71 L1162.93,79.37 L1163.77,78.04 L1164.61,76.71 L1165.44,75.41 L1166.28,74.11 L1167.12,72.83 L1167.96,71.56 L1168.80,70.31 L1169.64,69.07 L1170.47,67.84 L1171.31,66.64 L1172.15,65.44 L1172.99,64.26 L1173.83,63.10 L1174.67,61.95 L1175.50,60.82 L1176.34,59.71 L1177.18,58.61 L1178.02,57.53 L1178.86,56.46 L1179.70,55.42 L1180.53,54.39 L1181.37,53.37 L1182.21,52.38 L1183.05,51.40 L1183.89,50.44 L1184.73,49.50 L1185.56,48.57 L1186.40,47.66 L1187.24,46.77 L1188.08,45.90 L1188.92,45.05 L1189.75,44.21 L1190.59,43.39 L1191.43,42.58 L1192.27,41.80 L1193.11,41.03 L1193.95,40.27 L1194.78,39.54 L1195.62,38.82 L1196.46,38.12 L1197.30,37.43 L1198.14,36.76 L1198.98,36.11 L1199.81,35.47 L1200.65,34.85 L1201.49,34.24 L1202.33,33.65 L1203.17,33.07 L1204.01,32.51 L1204.84,31.96 L1205.68,31.43 L1206.52,30.91 L1207.36,30.41 L1208.20,29.92 L1209.04,29.44 L1209.87,28.98 L1210.71,28.53 L1211.55,28.09 L1212.39,27.67 L1213.23,27.26 L1214.07,26.86 L1214.90,26.47 L1215.74,26.09 L1216.58,25.73 L1217.42,25.38 L1218.26,25.04 L1219.09,24.70 L1219.93,24.38 L1220.77,24.07 L1221.61,23.77 L1222.45,23.48 L1223.29,23.20 L1224.12,22.93 L1224.96,22.67 L1225.80,22.42 L1226.64,22.17 L1227.48,21.94 L1228.32,21.71 L1229.15,21.49 L1229.99,21.28 L1230.83,21.07 L1231.67,20.87 L1232.51,20.68 L1233.35,20.50 L1234.18,20.33 L1235.02,20.16 L1235.86,19.99 L1236.70,19.83 L1237.54,19.68 L1238.38,19.54 L1239.21,19.40 L1240.05,19.26 L1240.89,19.14 L1241.73,19.01 L1242.57,18.89 L1243.41,18.78 L1244.24,18.67 L1245.08,18.56 L1245.92,18.46 L1246.76,18.37 L1247.60,18.27 L1248.43,18.19 L1249.27,18.10 L1250.11,18.02 L1250.95,17.94 L1251.79,17.87 L1252.63,17.80 L1253.46,17.73 L1254.30,17.66 L1255.14,17.60 L1255.98,17.54 L1256.82,17.48 L1257.66,17.43 L1258.49,17.38 L1259.33,17.33 L1260.17,17.28 L1261.01,17.24 L1261.85,17.19 L1262.69,17.15 L1263.52,17.11 L1264.36,17.08 L1265.20,17.04 L1266.04,17.01 L1266.88,16.97 L1267.72,16.94 L1268.55,16.91 L1269.39,16.89 L1270.23,16.86 L1271.07,16.84 L1271.91,16.81 L1272.75,16.79 L1273.58,16.77 L1274.42,16.75 L1275.26,16.73 L1276.10,16.71 L1276.94,16.69 L1277.77,16.68 L1278.61,16.66 L1279.45,16.65 L1280.29,16.63 L1281.13,16.62 L1281.97,16.61 L1282.80,16.59 L1283.64,16.58 L1284.48,16.57 L1285.32,16.56 L1286.16,16.55 L1287.00,16.54 L1287.83,16.54 L1288.67,16.53 L1289.51,16.52 L1290.35,16.51 L1291.19,16.51 L1292.03,16.50 L1292.86,16.49 L1293.70,16.49 L1294.54,16.48 L1295.38,16.48 L1296.22,16.47 L1297.06,16.47 L1297.89,16.46 L1298.73,16.46 L1299.57,16.46 L1300.41,16.45 L1301.25,16.45 L1302.09,16.45 L1302.92,16.44 L1303.76,16.44 L1304.60,16.44 L1305.44,16.44 L1306.28,16.43 L1307.11,16.43 L1307.95,16.43 L1308.79,16.43 L1309.63,16.43 L1310.47,16.42 L1311.31,16.42 L1312.14,16.42 L1312.98,16.42 L1313.82,16.42 L1314.66,16.42 L1315.50,16.42 L1316.34,16.41 L1317.17,16.41 L1318.01,16.41 L1318.85,16.41 L1319.69,16.41 L1320.53,16.41 L1321.37,16.41 L1322.20,16.41 L1323.04,16.41 L1323.88,16.41 L1324.72,16.41 L1325.56,16.41 L1326.40,16.41 L1327.23,16.41 L1328.07,16.41 L1328.91,16.40 L1329.75,16.40 L1330.59,16.40 L1331.43,16.40 L1332.26,16.40 L1333.10,16.40 L1333.94,16.40 L1334.78,16.40 L1335.62,16.40 L1336.45,16.40 L1337.29,16.40 L1338.13,16.40 L1338.97,16.40 L1339.81,16.40 L1340.65,16.40 L1341.48,16.40 L1342.32,16.40 L1343.16,16.40 L1344.00,16.40 L1344.84,16.40 L1345.68,16.40 L1346.51,16.40 L1347.35,16.40 L1348.19,16.40 L1349.03,16.40 L1349.87,16.40 L1350.71,16.40 L1351.54,16.40 L1352.38,16.40 L1353.22,16.40 L1354.06,16.40 L1354.90,16.40 L1355.74,16.40 L1356.57,16.40 L1357.41,16.40 L1358.25,16.40 L1359.09,16.40 L1359.93,16.40 L1360.77,16.40 L1361.60,16.40 L1362.44,16.40 L1363.28,16.40 L1364.12,16.40 L1364.96,16.40 L1365.79,16.40 L1366.63,16.40 L1367.47,16.40 L1368.31,16.40 L1369.15,16.40 L1369.99,16.40 L1370.82,16.40 L1371.66,16.40 L1372.50,16.40 L1373.34,16.40 L1374.18,16.40 L1375.02,16.40 L1375.85,16.40 L1376.69,16.40 L1377.53,16.40 L1378.37,16.40 L1379.21,16.40 L1380.05,16.40 L1380.88,16.40 L1381.72,16.40 L1382.56,16.40 L1383.40,16.40 L1384.24,16.40 L1385.08,16.40 L1385.91,16.40 L1386.75,16.40 L1387.59,16.40 L1388.43,16.40 L1389.27,16.40 L1390.11,16.40 L1390.94,16.40 L1391.78,16.40 L1392.62,16.40 L1393.46,16.40 L1394.30,16.40 L1395.13,16.40 L1395.97,16.40 L1396.81,16.40 L1397.65,16.40 L1398.49,16.40 L1399.33,16.40 L1400.16,16.40 L1401.00,16.40 L1401.84,16.40 L1402.68,16.40 L1403.52,16.40 L1404.36,16.40 L1405.19,16.40 L1406.03,16.40 L1406.87,16.40 L1407.71,16.40 L1408.55,16.40 L1409.39,16.40 L1410.22,16.40 L1411.06,16.40 L1411.90,16.40 L1412.74,16.40 L1413.58,16.40 L1414.42,16.40 L1415.25,16.40 L1416.09,16.40 L1416.93,16.40 L1417.77,16.40 L1418.61,16.40 L1419.45,16.40 L1420.28,16.40 L1421.12,16.40 L1421.96,16.40 L1422.80,16.40 L1423.64,16.40 L1424.47,16.40 L1425.31,16.40 L1426.15,16.40 L1426.99,16.40 L1427.83,16.40 L1428.67,16.40 L1429.50,16.40 L1430.34,16.40 L1431.18,16.40 L1432.02,16.40 L1432.86,16.40 L1433.70,16.40 L1434.53,16.40 L1435.37,16.40 L1436.21,16.40 L1437.05,16.40 L1437.89,16.40 L1438.73,16.40 L1439.56,16.40 L1440.40,16.40 L1441.24,16.40 L1442.08,16.40 L1442.92,16.40 L1443.76,16.40 L1444.59,16.40 L1445.43,16.40 L1446.27,16.40 L1447.11,16.40 L1447.95,16.40 L1448.79,16.40 L1449.62,16.40 L1450.46,16.40 L1451.30,16.40 L1452.14,16.40 L1452.98,16.40 L1453.81,16.40 L1454.65,16.40 L1455.49,16.40 L1456.33,16.40 L1457.17,16.40 L1458.01,16.40 L1458.84,16.40 L1459.68,16.40 L1460.52,16.40 L1461.36,16.40 L1462.20,16.40 L1463.04,16.40 L1463.87,16.40 L1464.71,16.40 L1465.55,16.40 L1466.39,16.40 L1467.23,16.40 L1468.07,16.40 L1468.90,16.40 L1469.74,16.40 L1470.58,16.40 L1471.42,16.40 L1472.26,16.40 L1473.10,16.40 L1473.93,16.40 L1474.77,16.40 L1475.61,16.40 L1476.45,16.40 L1477.29,16.40 L1478.13,16.40 L1478.96,16.40 L1479.80,16.40 L1480.64,16.40 L1481.48,16.40 L1482.32,16.40 L1483.15,16.40 L1483.99,16.40 L1484.83,16.40 L1485.67,16.40 L1486.51,16.40 L1487.35,16.40 L1488.18,16.40 L1489.02,16.40 L1489.86,16.40 L1490.70,16.40 L1491.54,16.40 L1492.38,16.40 L1493.21,16.40 L1494.05,16.40 L1494.89,16.40 L1495.73,16.40 L1496.57,16.40 L1497.41,16.40 L1498.24,16.40 L1499.08,16.40 L1499.92,16.40 L1500.76,16.40 L1501.60,16.40 L1502.44,16.40 L1503.27,16.40 L1504.11,16.40 L1504.95,16.40 L1505.79,16.40 L1506.63,16.40 L1507.47,16.40 L1508.30,16.40 L1509.14,16.40 L1509.98,16.40 L1510.82,16.40 L1511.66,16.40 L1512.49,16.40 L1513.33,16.40 L1514.17,16.40 L1515.01,16.40 L1515.85,16.40 L1516.69,16.40 L1517.52,16.40 L1518.36,16.40 L1519.20,16.40 L1520.04,16.40 L1520.88,16.40 L1521.72,16.40 L1522.55,16.40" fill="none" stroke="#f00" stroke-width="3.8" stroke-linejoin="round"/>
<path d="M936.59,16.40 L937.43,16.40 L938.27,16.40 L939.11,16.40 L939.95,16.40 L940.78,16.40 L941.62,16.40 L942.46,16.40 L943.30,16.40 L944.14,16.40 L944.98,16.40 L945.81,16.40 L946.65,16.40 L947.49,16.40 L948.33,16.40 L949.17,16.40 L950.00,16.40 L950.84,16.40 L951.68,16.40 L952.52,16.40 L953.36,16.40 L954.20,16.40 L955.03,16.40 L955.87,16.40 L956.71,16.40 L957.55,16.40 L958.39,16.40 L959.23,16.40 L960.06,16.40 L960.90,16.40 L961.74,16.40 L962.58,16.40 L963.42,16.40 L964.26,16.40 L965.09,16.40 L965.93,16.40 L966.77,16.40 L967.61,16.40 L968.45,16.40 L969.29,16.40 L970.12,16.40 L970.96,16.40 L971.80,16.40 L972.64,16.40 L973.48,16.40 L974.32,16.40 L975.15,16.40 L975.99,16.40 L976.83,16.40 L977.67,16.40 L978.51,16.40 L979.34,16.40 L980.18,16.40 L981.02,16.40 L981.86,16.40 L982.70,16.40 L983.54,16.40 L984.37,16.40 L985.21,16.40 L986.05,16.40 L986.89,16.40 L987.73,16.40 L988.57,16.40 L989.40,16.40 L990.24,16.40 L991.08,16.40 L991.92,16.40 L992.76,16.40 L993.60,16.40 L994.43,16.40 L995.27,16.40 L996.11,16.40 L996.95,16.40 L997.79,16.40 L998.63,16.40 L999.46,16.40 L1000.30,16.40 L1001.14,16.40 L1001.98,16.40 L1002.82,16.40 L1003.66,16.40 L1004.49,16.40 L1005.33,16.40 L1006.17,16.40 L1007.01,16.40 L1007.85,16.40 L1008.69,16.40 L1009.52,16.40 L1010.36,16.40 L1011.20,16.40 L1012.04,16.40 L1012.88,16.40 L1013.71,16.40 L1014.55,16.40 L1015.39,16.40 L1016.23,16.40 L1017.07,16.40 L1017.91,16.40 L1018.74,16.40 L1019.58,16.40 L1020.42,16.40 L1021.26,16.40 L1022.10,16.40 L1022.94,16.40 L1023.77,16.40 L1024.61,16.40 L1025.45,16.40 L1026.29,16.40 L1027.13,16.40 L1027.97,16.40 L1028.80,16.40 L1029.64,16.40 L1030.48,16.40 L1031.32,16.40 L1032.16,16.40 L1033.00,16.40 L1033.83,16.40 L1034.67,16.40 L1035.51,16.40 L1036.35,16.40 L1037.19,16.40 L1038.03,16.40 L1038.86,16.40 L1039.70,16.40 L1040.54,16.40 L1041.38,16.40 L1042.22,16.40 L1043.05,16.40 L1043.89,16.41 L1044.73,16.41 L1045.57,16.41 L1046.41,16.41 L1047.25,16.41 L1048.08,16.41 L1048.92,16.41 L1049.76,16.42 L1050.60,16.42 L1051.44,16.42 L1052.28,16.42 L1053.11,16.43 L1053.95,16.43 L1054.79,16.44 L1055.63,16.44 L1056.47,16.45 L1057.31,16.46 L1058.14,16.47 L1058.98,16.48 L1059.82,16.49 L1060.66,16.50 L1061.50,16.52 L1062.34,16.54 L1063.17,16.56 L1064.01,16.58 L1064.85,16.61 L1065.69,16.64 L1066.53,16.67 L1067.37,16.71 L1068.20,16.75 L1069.04,16.80 L1069.88,16.85 L1070.72,16.91 L1071.56,16.98 L1072.39,17.05 L1073.23,17.13 L1074.07,17.23 L1074.91,17.33 L1075.75,17.45 L1076.59,17.58 L1077.42,17.72 L1078.26,17.88 L1079.10,18.05 L1079.94,18.25 L1080.78,18.46 L1081.62,18.69 L1082.45,18.95 L1083.29,19.24 L1084.13,19.55 L1084.97,19.89 L1085.81,20.27 L1086.65,20.67 L1087.48,21.12 L1088.32,21.61 L1089.16,22.14 L1090.00,22.71 L1090.84,23.34 L1091.68,24.01 L1092.51,24.74 L1093.35,25.53 L1094.19,26.38 L1095.03,27.30 L1095.87,28.29 L1096.71,29.35 L1097.54,30.49 L1098.38,31.70 L1099.22,33.00 L1100.06,34.39 L1100.90,35.87 L1101.73,37.45 L1102.57,39.12 L1103.41,40.90 L1104.25,42.78 L1105.09,44.77 L1105.93,46.87 L1106.76,49.09 L1107.60,51.42 L1108.44,53.87 L1109.28,56.44 L1110.12,59.14 L1110.96,61.95 L1111.79,64.90 L1112.63,67.96 L1113.47,71.16 L1114.31,74.47 L1115.15,77.91 L1115.99,81.47 L1116.82,85.15 L1117.66,88.94 L1118.50,92.85 L1119.34,96.86 L1120.18,100.98 L1121.02,105.20 L1121.85,109.51 L1122.69,113.91 L1123.53,118.38 L1124.37,122.93 L1125.21,127.53 L1126.05,132.19 L1126.88,136.89 L1127.72,141.62 L1128.56,146.38 L1129.40,151.14 L1130.24,155.90 L1131.07,160.65 L1131.91,165.37 L1132.75,170.05 L1133.59,174.67 L1134.43,179.23 L1135.27,183.71 L1136.10,188.09 L1136.94,192.37 L1137.78,196.52 L1138.62,200.54 L1139.46,204.41 L1140.30,208.12 L1141.13,211.65 L1141.97,215.00 L1142.81,218.14 L1143.65,221.08 L1144.49,223.80 L1145.33,226.29 L1146.16,228.54 L1147.00,230.54 L1147.84,232.29 L1148.68,233.78 L1149.52,235.00 L1150.36,235.95 L1151.19,236.62 L1152.03,237.02 L1152.87,237.13 L1153.71,236.97 L1154.55,236.53 L1155.39,235.81 L1156.22,234.82 L1157.06,233.56 L1157.90,232.03 L1158.74,230.24 L1159.58,228.19 L1160.41,225.90 L1161.25,223.38 L1162.09,220.62 L1162.93,217.65 L1163.77,214.47 L1164.61,211.09 L1165.44,207.53 L1166.28,203.79 L1167.12,199.90 L1167.96,195.86 L1168.80,191.68 L1169.64,187.39 L1170.47,182.99 L1171.31,178.50 L1172.15,173.93 L1172.99,169.29 L1173.83,164.60 L1174.67,159.88 L1175.50,155.13 L1176.34,150.37 L1177.18,145.60 L1178.02,140.85 L1178.86,136.12 L1179.70,131.43 L1180.53,126.78 L1181.37,122.18 L1182.21,117.65 L1183.05,113.19 L1183.89,108.81 L1184.73,104.51 L1185.56,100.31 L1186.40,96.21 L1187.24,92.21 L1188.08,88.32 L1188.92,84.54 L1189.75,80.88 L1190.59,77.34 L1191.43,73.92 L1192.27,70.63 L1193.11,67.46 L1193.95,64.41 L1194.78,61.49 L1195.62,58.69 L1196.46,56.02 L1197.30,53.46 L1198.14,51.03 L1198.98,48.72 L1199.81,46.52 L1200.65,44.44 L1201.49,42.47 L1202.33,40.60 L1203.17,38.84 L1204.01,37.19 L1204.84,35.63 L1205.68,34.16 L1206.52,32.79 L1207.36,31.50 L1208.20,30.30 L1209.04,29.17 L1209.87,28.12 L1210.71,27.15 L1211.55,26.24 L1212.39,25.40 L1213.23,24.62 L1214.07,23.90 L1214.90,23.23 L1215.74,22.62 L1216.58,22.05 L1217.42,21.53 L1218.26,21.05 L1219.09,20.61 L1219.93,20.20 L1220.77,19.83 L1221.61,19.50 L1222.45,19.19 L1223.29,18.91 L1224.12,18.65 L1224.96,18.42 L1225.80,18.21 L1226.64,18.02 L1227.48,17.85 L1228.32,17.69 L1229.15,17.55 L1229.99,17.43 L1230.83,17.31 L1231.67,17.21 L1232.51,17.12 L1233.35,17.04 L1234.18,16.96 L1235.02,16.90 L1235.86,16.84 L1236.70,16.79 L1237.54,16.74 L1238.38,16.70 L1239.21,16.66 L1240.05,16.63 L1240.89,16.60 L1241.73,16.58 L1242.57,16.55 L1243.41,16.54 L1244.24,16.52 L1245.08,16.50 L1245.92,16.49 L1246.76,16.48 L1247.60,16.47 L1248.43,16.46 L1249.27,16.45 L1250.11,16.44 L1250.95,16.44 L1251.79,16.43 L1252.63,16.43 L1253.46,16.42 L1254.30,16.42 L1255.14,16.42 L1255.98,16.42 L1256.82,16.41 L1257.66,16.41 L1258.49,16.41 L1259.33,16.41 L1260.17,16.41 L1261.01,16.41 L1261.85,16.40 L1262.69,16.40 L1263.52,16.40 L1264.36,16.40 L1265.20,16.40 L1266.04,16.40 L1266.88,16.40 L1267.72,16.40 L1268.55,16.40 L1269.39,16.40 L1270.23,16.40 L1271.07,16.40 L1271.91,16.40 L1272.75,16.40 L1273.58,16.40 L1274.42,16.40 L1275.26,16.40 L1276.10,16.40 L1276.94,16.40 L1277.77,16.40 L1278.61,16.40 L1279.45,16.40 L1280.29,16.40 L1281.13,16.40 L1281.97,16.40 L1282.80,16.40 L1283.64,16.40 L1284.48,16.40 L1285.32,16.40 L1286.16,16.40 L1287.00,16.40 L1287.83,16.40 L1288.67,16.40 L1289.51,16.40 L1290.35,16.40 L1291.19,16.40 L1292.03,16.40 L1292.86,16.40 L1293.70,16.40 L1294.54,16.40 L1295.38,16.40 L1296.22,16.40 L1297.06,16.40 L1297.89,16.40 L1298.73,16.40 L1299.57,16.40 L1300.41,16.40 L1301.25,16.40 L1302.09,16.40 L1302.92,16.40 L1303.76,16.40 L1304.60,16.40 L1305.44,16.40 L1306.28,16.40 L1307.11,16.40 L1307.95,16.40 L1308.79,16.40 L1309.63,16.40 L1310.47,16.40 L1311.31,16.40 L1312.14,16.40 L1312.98,16.40 L1313.82,16.40 L1314.66,16.40 L1315.50,16.40 L1316.34,16.40 L1317.17,16.40 L1318.01,16.40 L1318.85,16.40 L1319.69,16.40 L1320.53,16.40 L1321.37,16.40 L1322.20,16.40 L1323.04,16.40 L1323.88,16.40 L1324.72,16.40 L1325.56,16.40 L1326.40,16.40 L1327.23,16.40 L1328.07,16.40 L1328.91,16.40 L1329.75,16.40 L1330.59,16.40 L1331.43,16.40 L1332.26,16.40 L1333.10,16.40 L1333.94,16.40 L1334.78,16.40 L1335.62,16.40 L1336.45,16.40 L1337.29,16.40 L1338.13,16.40 L1338.97,16.40 L1339.81,16.40 L1340.65,16.40 L1341.48,16.40 L1342.32,16.40 L1343.16,16.40 L1344.00,16.40 L1344.84,16.40 L1345.68,16.40 L1346.51,16.40 L1347.35,16.40 L1348.19,16.40 L1349.03,16.40 L1349.87,16.40 L1350.71,16.40 L1351.54,16.40 L1352.38,16.40 L1353.22,16.40 L1354.06,16.40 L1354.90,16.40 L1355.74,16.40 L1356.57,16.40 L1357.41,16.40 L1358.25,16.40 L1359.09,16.40 L1359.93,16.40 L1360.77,16.40 L1361.60,16.40 L1362.44,16.40 L1363.28,16.40 L1364.12,16.40 L1364.96,16.40 L1365.79,16.40 L1366.63,16.40 L1367.47,16.40 L1368.31,16.40 L1369.15,16.40 L1369.99,16.40 L1370.82,16.40 L1371.66,16.40 L1372.50,16.40 L1373.34,16.40 L1374.18,16.40 L1375.02,16.40 L1375.85,16.40 L1376.69,16.40 L1377.53,16.40 L1378.37,16.40 L1379.21,16.40 L1380.05,16.40 L1380.88,16.40 L1381.72,16.40 L1382.56,16.40 L1383.40,16.40 L1384.24,16.40 L1385.08,16.40 L1385.91,16.40 L1386.75,16.40 L1387.59,16.40 L1388.43,16.40 L1389.27,16.40 L1390.11,16.40 L1390.94,16.40 L1391.78,16.40 L1392.62,16.40 L1393.46,16.40 L1394.30,16.40 L1395.13,16.40 L1395.97,16.40 L1396.81,16.40 L1397.65,16.40 L1398.49,16.40 L1399.33,16.40 L1400.16,16.40 L1401.00,16.40 L1401.84,16.40 L1402.68,16.40 L1403.52,16.40 L1404.36,16.40 L1405.19,16.40 L1406.03,16.40 L1406.87,16.40 L1407.71,16.40 L1408.55,16.40 L1409.39,16.40 L1410.22,16.40 L1411.06,16.40 L1411.90,16.40 L1412.74,16.40 L1413.58,16.40 L1414.42,16.40 L1415.25,16.40 L1416.09,16.40 L1416.93,16.40 L1417.77,16.40 L1418.61,16.40 L1419.45,16.40 L1420.28,16.40 L1421.12,16.40 L1421.96,16.40 L1422.80,16.40 L1423.64,16.40 L1424.47,16.40 L1425.31,16.40 L1426.15,16.40 L1426.99,16.40 L1427.83,16.40 L1428.67,16.40 L1429.50,16.40 L1430.34,16.40 L1431.18,16.40 L1432.02,16.40 L1432.86,16.40 L1433.70,16.40 L1434.53,16.40 L1435.37,16.40 L1436.21,16.40 L1437.05,16.40 L1437.89,16.40 L1438.73,16.40 L1439.56,16.40 L1440.40,16.40 L1441.24,16.40 L1442.08,16.40 L1442.92,16.40 L1443.76,16.40 L1444.59,16.40 L1445.43,16.40 L1446.27,16.40 L1447.11,16.40 L1447.95,16.40 L1448.79,16.40 L1449.62,16.40 L1450.46,16.40 L1451.30,16.40 L1452.14,16.40 L1452.98,16.40 L1453.81,16.40 L1454.65,16.40 L1455.49,16.40 L1456.33,16.40 L1457.17,16.40 L1458.01,16.40 L1458.84,16.40 L1459.68,16.40 L1460.52,16.40 L1461.36,16.40 L1462.20,16.40 L1463.04,16.40 L1463.87,16.40 L1464.71,16.40 L1465.55,16.40 L1466.39,16.40 L1467.23,16.40 L1468.07,16.40 L1468.90,16.40 L1469.74,16.40 L1470.58,16.40 L1471.42,16.40 L1472.26,16.40 L1473.10,16.40 L1473.93,16.40 L1474.77,16.40 L1475.61,16.40 L1476.45,16.40 L1477.29,16.40 L1478.13,16.40 L1478.96,16.40 L1479.80,16.40 L1480.64,16.40 L1481.48,16.40 L1482.32,16.40 L1483.15,16.40 L1483.99,16.40 L1484.83,16.40 L1485.67,16.40 L1486.51,16.40 L1487.35,16.40 L1488.18,16.40 L1489.02,16.40 L1489.86,16.40 L1490.70,16.40 L1491.54,16.40 L1492.38,16.40 L1493.21,16.40 L1494.05,16.40 L1494.89,16.40 L1495.73,16.40 L1496.57,16.40 L1497.41,16.40 L1498.24,16.40 L1499.08,16.40 L1499.92,16.40 L1500.76,16.40 L1501.60,16.40 L1502.44,16.40 L1503.27,16.40 L1504.11,16.40 L1504.95,16.40 L1505.79,16.40 L1506.63,16.40 L1507.47,16.40 L1508.30,16.40 L1509.14,16.40 L1509.98,16.40 L1510.82,16.40 L1511.66,16.40 L1512.49,16.40 L1513.33,16.40 L1514.17,16.40 L1515.01,16.40 L1515.85,16.40 L1516.69,16.40 L1517.52,16.40 L1518.36,16.40 L1519.20,16.40 L1520.04,16.40 L1520.88,16.40 L1521.72,16.40 L1522.55,16.40" fill="none" stroke="#f00" stroke-width="3.8" stroke-linejoin="round"/>
<path d="M936.59,16.40 L937.43,16.40 L938.27,16.40 L939.11,16.40 L939.95,16.40 L940.78,16.40 L941.62,16.40 L942.46,16.40 L943.30,16.40 L944.14,16.40 L944.98,16.40 L945.81,16.40 L946.65,16.40 L947.49,16.40 L948.33,16.40 L949.17,16.40 L950.00,16.40 L950.84,16.40 L951.68,16.40 L952.52,16.40 L953.36,16.40 L954.20,16.40 L955.03,16.40 L955.87,16.40 L956.71,16.40 L957.55,16.40 L958.39,16.40 L959.23,16.40 L960.06,16.40 L960.90,16.40 L961.74,16.40 L962.58,16.40 L963.42,16.40 L964.26,16.40 L965.09,16.40 L965.93,16.40 L966.77,16.40 L967.61,16.40 L968.45,16.40 L969.29,16.40 L970.12,16.40 L970.96,16.40 L971.80,16.40 L972.64,16.40 L973.48,16.40 L974.32,16.40 L975.15,16.40 L975.99,16.40 L976.83,16.40 L977.67,16.40 L978.51,16.40 L979.34,16.40 L980.18,16.40 L981.02,16.40 L981.86,16.40 L982.70,16.40 L983.54,16.40 L984.37,16.40 L985.21,16.40 L986.05,16.40 L986.89,16.40 L987.73,16.40 L988.57,16.40 L989.40,16.40 L990.24,16.40 L991.08,16.40 L991.92,16.40 L992.76,16.40 L993.60,16.40 L994.43,16.40 L995.27,16.40 L996.11,16.40 L996.95,16.40 L997.79,16.40 L998.63,16.40 L999.46,16.40 L1000.30,16.40 L1001.14,16.40 L1001.98,16.40 L1002.82,16.40 L1003.66,16.40 L1004.49,16.40 L1005.33,16.40 L1006.17,16.40 L1007.01,16.40 L1007.85,16.40 L1008.69,16.40 L1009.52,16.40 L1010.36,16.40 L1011.20,16.40 L1012.04,16.40 L1012.88,16.40 L1013.71,16.40 L1014.55,16.40 L1015.39,16.40 L1016.23,16.40 L1017.07,16.40 L1017.91,16.40 L1018.74,16.40 L1019.58,16.40 L1020.42,16.40 L1021.26,16.40 L1022.10,16.40 L1022.94,16.40 L1023.77,16.40 L1024.61,16.40 L1025.45,16.40 L1026.29,16.40 L1027.13,16.40 L1027.97,16.40 L1028.80,16.40 L1029.64,16.40 L1030.48,16.40 L1031.32,16.40 L1032.16,16.40 L1033.00,16.40 L1033.83,16.40 L1034.67,16.40 L1035.51,16.40 L1036.35,16.40 L1037.19,16.40 L1038.03,16.40 L1038.86,16.40 L1039.70,16.40 L1040.54,16.40 L1041.38,16.40 L1042.22,16.40 L1043.05,16.40 L1043.89,16.40 L1044.73,16.40 L1045.57,16.40 L1046.41,16.40 L1047.25,16.40 L1048.08,16.40 L1048.92,16.40 L1049.76,16.40 L1050.60,16.40 L1051.44,16.40 L1052.28,16.40 L1053.11,16.40 L1053.95,16.40 L1054.79,16.40 L1055.63,16.40 L1056.47,16.40 L1057.31,16.40 L1058.14,16.40 L1058.98,16.40 L1059.82,16.40 L1060.66,16.40 L1061.50,16.40 L1062.34,16.40 L1063.17,16.40 L1064.01,16.40 L1064.85,16.40 L1065.69,16.40 L1066.53,16.40 L1067.37,16.40 L1068.20,16.40 L1069.04,16.40 L1069.88,16.40 L1070.72,16.40 L1071.56,16.40 L1072.39,16.40 L1073.23,16.40 L1074.07,16.40 L1074.91,16.40 L1075.75,16.40 L1076.59,16.40 L1077.42,16.40 L1078.26,16.40 L1079.10,16.40 L1079.94,16.40 L1080.78,16.40 L1081.62,16.40 L1082.45,16.40 L1083.29,16.40 L1084.13,16.40 L1084.97,16.40 L1085.81,16.40 L1086.65,16.40 L1087.48,16.40 L1088.32,16.40 L1089.16,16.40 L1090.00,16.40 L1090.84,16.40 L1091.68,16.40 L1092.51,16.40 L1093.35,16.40 L1094.19,16.40 L1095.03,16.40 L1095.87,16.40 L1096.71,16.40 L1097.54,16.40 L1098.38,16.40 L1099.22,16.40 L1100.06,16.40 L1100.90,16.40 L1101.73,16.40 L1102.57,16.40 L1103.41,16.40 L1104.25,16.40 L1105.09,16.40 L1105.93,16.40 L1106.76,16.40 L1107.60,16.40 L1108.44,16.40 L1109.28,16.40 L1110.12,16.40 L1110.96,16.40 L1111.79,16.40 L1112.63,16.40 L1113.47,16.40 L1114.31,16.40 L1115.15,16.40 L1115.99,16.40 L1116.82,16.40 L1117.66,16.41 L1118.50,16.41 L1119.34,16.41 L1120.18,16.41 L1121.02,16.41 L1121.85,16.42 L1122.69,16.42 L1123.53,16.43 L1124.37,16.43 L1125.21,16.44 L1126.05,16.45 L1126.88,16.46 L1127.72,16.47 L1128.56,16.48 L1129.40,16.50 L1130.24,16.52 L1131.07,16.54 L1131.91,16.57 L1132.75,16.60 L1133.59,16.64 L1134.43,16.68 L1135.27,16.73 L1136.10,16.79 L1136.94,16.86 L1137.78,16.95 L1138.62,17.04 L1139.46,17.15 L1140.30,17.27 L1141.13,17.42 L1141.97,17.58 L1142.81,17.77 L1143.65,17.99 L1144.49,18.23 L1145.33,18.51 L1146.16,18.82 L1147.00,19.17 L1147.84,19.57 L1148.68,20.01 L1149.52,20.51 L1150.36,21.06 L1151.19,21.68 L1152.03,22.37 L1152.87,23.13 L1153.71,23.97 L1154.55,24.89 L1155.39,25.91 L1156.22,27.02 L1157.06,28.24 L1157.90,29.56 L1158.74,31.00 L1159.58,32.56 L1160.41,34.24 L1161.25,36.05 L1162.09,38.00 L1162.93,40.09 L1163.77,42.31 L1164.61,44.68 L1165.44,47.20 L1166.28,49.87 L1167.12,52.68 L1167.96,55.63 L1168.80,58.73 L1169.64,61.97 L1170.47,65.34 L1171.31,68.84 L1172.15,72.46 L1172.99,76.20 L1173.83,80.03 L1174.67,83.96 L1175.50,87.96 L1176.34,92.03 L1177.18,96.14 L1178.02,100.28 L1178.86,104.43 L1179.70,108.58 L1180.53,112.69 L1181.37,116.76 L1182.21,120.77 L1183.05,124.67 L1183.89,128.47 L1184.73,132.14 L1185.56,135.64 L1186.40,138.97 L1187.24,142.11 L1188.08,145.02 L1188.92,147.70 L1189.75,150.13 L1190.59,152.29 L1191.43,154.16 L1192.27,155.74 L1193.11,157.01 L1193.95,157.96 L1194.78,158.60 L1195.62,158.90 L1196.46,158.88 L1197.30,158.53 L1198.14,157.85 L1198.98,156.86 L1199.81,155.54 L1200.65,153.93 L1201.49,152.01 L1202.33,149.82 L1203.17,147.36 L1204.01,144.65 L1204.84,141.70 L1205.68,138.54 L1206.52,135.18 L1207.36,131.65 L1208.20,127.97 L1209.04,124.16 L1209.87,120.24 L1210.71,116.22 L1211.55,112.15 L1212.39,108.02 L1213.23,103.88 L1214.07,99.73 L1214.90,95.59 L1215.74,91.48 L1216.58,87.42 L1217.42,83.43 L1218.26,79.52 L1219.09,75.69 L1219.93,71.97 L1220.77,68.37 L1221.61,64.88 L1222.45,61.53 L1223.29,58.31 L1224.12,55.23 L1224.96,52.29 L1225.80,49.50 L1226.64,46.86 L1227.48,44.36 L1228.32,42.01 L1229.15,39.80 L1229.99,37.73 L1230.83,35.80 L1231.67,34.01 L1232.51,32.34 L1233.35,30.80 L1234.18,29.38 L1235.02,28.07 L1235.86,26.87 L1236.70,25.77 L1237.54,24.76 L1238.38,23.85 L1239.21,23.02 L1240.05,22.27 L1240.89,21.60 L1241.73,20.99 L1242.57,20.44 L1243.41,19.95 L1244.24,19.51 L1245.08,19.12 L1245.92,18.77 L1246.76,18.47 L1247.60,18.19 L1248.43,17.96 L1249.27,17.74 L1250.11,17.56 L1250.95,17.40 L1251.79,17.26 L1252.63,17.13 L1253.46,17.03 L1254.30,16.93 L1255.14,16.85 L1255.98,16.79 L1256.82,16.73 L1257.66,16.68 L1258.49,16.63 L1259.33,16.60 L1260.17,16.56 L1261.01,16.54 L1261.85,16.51 L1262.69,16.50 L1263.52,16.48 L1264.36,16.47 L1265.20,16.45 L1266.04,16.45 L1266.88,16.44 L1267.72,16.43 L1268.55,16.42 L1269.39,16.42 L1270.23,16.42 L1271.07,16.41 L1271.91,16.41 L1272.75,16.41 L1273.58,16.41 L1274.42,16.41 L1275.26,16.40 L1276.10,16.40 L1276.94,16.40 L1277.77,16.40 L1278.61,16.40 L1279.45,16.40 L1280.29,16.40 L1281.13,16.40 L1281.97,16.40 L1282.80,16.40 L1283.64,16.40 L1284.48,16.40 L1285.32,16.40 L1286.16,16.40 L1287.00,16.40 L1287.83,16.40 L1288.67,16.40 L1289.51,16.40 L1290.35,16.40 L1291.19,16.40 L1292.03,16.40 L1292.86,16.40 L1293.70,16.40 L1294.54,16.40 L1295.38,16.40 L1296.22,16.40 L1297.06,16.40 L1297.89,16.40 L1298.73,16.40 L1299.57,16.40 L1300.41,16.40 L1301.25,16.40 L1302.09,16.40 L1302.92,16.40 L1303.76,16.40 L1304.60,16.40 L1305.44,16.40 L1306.28,16.40 L1307.11,16.40 L1307.95,16.40 L1308.79,16.40 L1309.63,16.40 L1310.47,16.40 L1311.31,16.40 L1312.14,16.40 L1312.98,16.40 L1313.82,16.40 L1314.66,16.40 L1315.50,16.40 L1316.34,16.40 L1317.17,16.40 L1318.01,16.40 L1318.85,16.40 L1319.69,16.40 L1320.53,16.40 L1321.37,16.40 L1322.20,16.40 L1323.04,16.40 L1323.88,16.40 L1324.72,16.40 L1325.56,16.40 L1326.40,16.40 L1327.23,16.40 L1328.07,16.40 L1328.91,16.40 L1329.75,16.40 L1330.59,16.40 L1331.43,16.40 L1332.26,16.40 L1333.10,16.40 L1333.94,16.40 L1334.78,16.40 L1335.62,16.40 L1336.45,16.40 L1337.29,16.40 L1338.13,16.40 L1338.97,16.40 L1339.81,16.40 L1340.65,16.40 L1341.48,16.40 L1342.32,16.40 L1343.16,16.40 L1344.00,16.40 L1344.84,16.40 L1345.68,16.40 L1346.51,16.40 L1347.35,16.40 L1348.19,16.40 L1349.03,16.40 L1349.87,16.40 L1350.71,16.40 L1351.54,16.40 L1352.38,16.40 L1353.22,16.40 L1354.06,16.40 L1354.90,16.40 L1355.74,16.40 L1356.57,16.40 L1357.41,16.40 L1358.25,16.40 L1359.09,16.40 L1359.93,16.40 L1360.77,16.40 L1361.60,16.40 L1362.44,16.40 L1363.28,16.40 L1364.12,16.40 L1364.96,16.40 L1365.79,16.40 L1366.63,16.40 L1367.47,16.40 L1368.31,16.40 L1369.15,16.40 L1369.99,16.40 L1370.82,16.40 L1371.66,16.40 L1372.50,16.40 L1373.34,16.40 L1374.18,16.40 L1375.02,16.40 L1375.85,16.40 L1376.69,16.40 L1377.53,16.40 L1378.37,16.40 L1379.21,16.40 L1380.05,16.40 L1380.88,16.40 L1381.72,16.40 L1382.56,16.40 L1383.40,16.40 L1384.24,16.40 L1385.08,16.40 L1385.91,16.40 L1386.75,16.40 L1387.59,16.40 L1388.43,16.40 L1389.27,16.40 L1390.11,16.40 L1390.94,16.40 L1391.78,16.40 L1392.62,16.40 L1393.46,16.40 L1394.30,16.40 L1395.13,16.40 L1395.97,16.40 L1396.81,16.40 L1397.65,16.40 L1398.49,16.40 L1399.33,16.40 L1400.16,16.40 L1401.00,16.40 L1401.84,16.40 L1402.68,16.40 L1403.52,16.40 L1404.36,16.40 L1405.19,16.40 L1406.03,16.40 L1406.87,16.40 L1407.71,16.40 L1408.55,16.40 L1409.39,16.40 L1410.22,16.40 L1411.06,16.40 L1411.90,16.40 L1412.74,16.40 L1413.58,16.40 L1414.42,16.40 L1415.25,16.40 L1416.09,16.40 L1416.93,16.40 L1417.77,16.40 L1418.61,16.40 L1419.45,16.40 L1420.28,16.40 L1421.12,16.40 L1421.96,16.40 L1422.80,16.40 L1423.64,16.40 L1424.47,16.40 L1425.31,16.40 L1426.15,16.40 L1426.99,16.40 L1427.83,16.40 L1428.67,16.40 L1429.50,16.40 L1430.34,16.40 L1431.18,16.40 L1432.02,16.40 L1432.86,16.40 L1433.70,16.40 L1434.53,16.40 L1435.37,16.40 L1436.21,16.40 L1437.05,16.40 L1437.89,16.40 L1438.73,16.40 L1439.56,16.40 L1440.40,16.40 L1441.24,16.40 L1442.08,16.40 L1442.92,16.40 L1443.76,16.40 L1444.59,16.40 L1445.43,16.40 L1446.27,16.40 L1447.11,16.40 L1447.95,16.40 L1448.79,16.40 L1449.62,16.40 L1450.46,16.40 L1451.30,16.40 L1452.14,16.40 L1452.98,16.40 L1453.81,16.40 L1454.65,16.40 L1455.49,16.40 L1456.33,16.40 L1457.17,16.40 L1458.01,16.40 L1458.84,16.40 L1459.68,16.40 L1460.52,16.40 L1461.36,16.40 L1462.20,16.40 L1463.04,16.40 L1463.87,16.40 L1464.71,16.40 L1465.55,16.40 L1466.39,16.40 L1467.23,16.40 L1468.07,16.40 L1468.90,16.40 L1469.74,16.40 L1470.58,16.40 L1471.42,16.40 L1472.26,16.40 L1473.10,16.40 L1473.93,16.40 L1474.77,16.40 L1475.61,16.40 L1476.45,16.40 L1477.29,16.40 L1478.13,16.40 L1478.96,16.40 L1479.80,16.40 L1480.64,16.40 L1481.48,16.40 L1482.32,16.40 L1483.15,16.40 L1483.99,16.40 L1484.83,16.40 L1485.67,16.40 L1486.51,16.40 L1487.35,16.40 L1488.18,16.40 L1489.02,16.40 L1489.86,16.40 L1490.70,16.40 L1491.54,16.40 L1492.38,16.40 L1493.21,16.40 L1494.05,16.40 L1494.89,16.40 L1495.73,16.40 L1496.57,16.40 L1497.41,16.40 L1498.24,16.40 L1499.08,16.40 L1499.92,16.40 L1500.76,16.40 L1501.60,16.40 L1502.44,16.40 L1503.27,16.40 L1504.11,16.40 L1504.95,16.40 L1505.79,16.40 L1506.63,16.40 L1507.47,16.40 L1508.30,16.40 L1509.14,16.40 L1509.98,16.40 L1510.82,16.40 L1511.66,16.40 L1512.49,16.40 L1513.33,16.40 L1514.17,16.40 L1515.01,16.40 L1515.85,16.40 L1516.69,16.40 L1517.52,16.40 L1518.36,16.40 L1519.20,16.40 L1520.04,16.40 L1520.88,16.40 L1521.72,16.40 L1522.55,16.40" fill="none" stroke="#f00" stroke-width="3.8" stroke-linejoin="round"/>
<path d="M936.59,16.40 L937.43,16.40 L938.27,16.40 L939.11,16.40 L939.95,16.40 L940.78,16.40 L941.62,16.40 L942.46,16.40 L943.30,16.40 L944.14,16.40 L944.98,16.40 L945.81,16.40 L946.65,16.40 L947.49,16.40 L948.33,16.40 L949.17,16.40 L950.00,16.40 L950.84,16.40 L951.68,16.40 L952.52,16.40 L953.36,16.40 L954.20,16.40 L955.03,16.40 L955.87,16.40 L956.71,16.40 L957.55,16.40 L958.39,16.40 L959.23,16.40 L960.06,16.40 L960.90,16.40 L961.74,16.40 L962.58,16.40 L963.42,16.40 L964.26,16.40 L965.09,16.40 L965.93,16.40 L966.77,16.40 L967.61,16.40 L968.45,16.40 L969.29,16.40 L970.12,16.40 L970.96,16.40 L971.80,16.40 L972.64,16.40 L973.48,16.40 L974.32,16.40 L975.15,16.40 L975.99,16.40 L976.83,16.40 L977.67,16.40 L978.51,16.40 L979.34,16.40 L980.18,16.40 L981.02,16.40 L981.86,16.40 L982.70,16.40 L983.54,16.40 L984.37,16.40 L985.21,16.40 L986.05,16.40 L986.89,16.40 L987.73,16.40 L988.57,16.40 L989.40,16.40 L990.24,16.40 L991.08,16.40 L991.92,16.40 L992.76,16.40 L993.60,16.40 L994.43,16.40 L995.27,16.40 L996.11,16.40 L996.95,16.40 L997.79,16.40 L998.63,16.40 L999.46,16.40 L1000.30,16.40 L1001.14,16.40 L1001.98,16.40 L1002.82,16.40 L1003.66,16.40 L1004.49,16.40 L1005.33,16.40 L1006.17,16.40 L1007.01,16.40 L1007.85,16.40 L1008.69,16.40 L1009.52,16.40 L1010.36,16.40 L1011.20,16.40 L1012.04,16.40 L1012.88,16.40 L1013.71,16.40 L1014.55,16.40 L1015.39,16.40 L1016.23,16.40 L1017.07,16.40 L1017.91,16.40 L1018.74,16.40 L1019.58,16.40 L1020.42,16.40 L1021.26,16.40 L1022.10,16.40 L1022.94,16.40 L1023.77,16.40 L1024.61,16.40 L1025.45,16.40 L1026.29,16.40 L1027.13,16.40 L1027.97,16.40 L1028.80,16.40 L1029.64,16.40 L1030.48,16.40 L1031.32,16.40 L1032.16,16.40 L1033.00,16.40 L1033.83,16.40 L1034.67,16.40 L1035.51,16.40 L1036.35,16.40 L1037.19,16.40 L1038.03,16.40 L1038.86,16.40 L1039.70,16.40 L1040.54,16.40 L1041.38,16.40 L1042.22,16.40 L1043.05,16.40 L1043.89,16.40 L1044.73,16.40 L1045.57,16.40 L1046.41,16.40 L1047.25,16.40 L1048.08,16.40 L1048.92,16.40 L1049.76,16.40 L1050.60,16.40 L1051.44,16.40 L1052.28,16.40 L1053.11,16.40 L1053.95,16.40 L1054.79,16.40 L1055.63,16.40 L1056.47,16.40 L1057.31,16.40 L1058.14,16.40 L1058.98,16.40 L1059.82,16.40 L1060.66,16.40 L1061.50,16.40 L1062.34,16.40 L1063.17,16.40 L1064.01,16.40 L1064.85,16.40 L1065.69,16.40 L1066.53,16.40 L1067.37,16.40 L1068.20,16.40 L1069.04,16.40 L1069.88,16.40 L1070.72,16.40 L1071.56,16.41 L1072.39,16.41 L1073.23,16.41 L1074.07,16.41 L1074.91,16.41 L1075.75,16.41 L1076.59,16.41 L1077.42,16.41 L1078.26,16.41 L1079.10,16.41 L1079.94,16.41 L1080.78,16.42 L1081.62,16.42 L1082.45,16.42 L1083.29,16.42 L1084.13,16.42 L1084.97,16.43 L1085.81,16.43 L1086.65,16.43 L1087.48,16.44 L1088.32,16.44 L1089.16,16.44 L1090.00,16.45 L1090.84,16.45 L1091.68,16.46 L1092.51,16.46 L1093.35,16.47 L1094.19,16.48 L1095.03,16.48 L1095.87,16.49 L1096.71,16.50 L1097.54,16.51 L1098.38,16.52 L1099.22,16.53 L1100.06,16.54 L1100.90,16.56 L1101.73,16.57 L1102.57,16.59 L1103.41,16.60 L1104.25,16.62 L1105.09,16.64 L1105.93,16.66 L1106.76,16.69 L1107.60,16.71 L1108.44,16.74 L1109.28,16.77 L1110.12,16.80 L1110.96,16.83 L1111.79,16.87 L1112.63,16.91 L1113.47,16.95 L1114.31,16.99 L1115.15,17.04 L1115.99,17.10 L1116.82,17.15 L1117.66,17.21 L1118.50,17.28 L1119.34,17.34 L1120.18,17.42 L1121.02,17.50 L1121.85,17.58 L1122.69,17.67 L1123.53,17.77 L1124.37,17.87 L1125.21,17.98 L1126.05,18.10 L1126.88,18.22 L1127.72,18.35 L1128.56,18.49 L1129.40,18.64 L1130.24,18.80 L1131.07,18.97 L1131.91,19.15 L1132.75,19.34 L1133.59,19.54 L1134.43,19.75 L1135.27,19.98 L1136.10,20.22 L1136.94,20.47 L1137.78,20.74 L1138.62,21.02 L1139.46,21.32 L1140.30,21.63 L1141.13,21.96 L1141.97,22.31 L1142.81,22.67 L1143.65,23.06 L1144.49,23.46 L1145.33,23.89 L1146.16,24.34 L1147.00,24.80 L1147.84,25.29 L1148.68,25.81 L1149.52,26.35 L1150.36,26.91 L1151.19,27.50 L1152.03,28.11 L1152.87,28.76 L1153.71,29.43 L1154.55,30.13 L1155.39,30.85 L1156.22,31.61 L1157.06,32.40 L1157.90,33.22 L1158.74,34.08 L1159.58,34.96 L1160.41,35.88 L1161.25,36.84 L1162.09,37.83 L1162.93,38.85 L1163.77,39.91 L1164.61,41.01 L1165.44,42.14 L1166.28,43.31 L1167.12,44.52 L1167.96,45.77 L1168.80,47.05 L1169.64,48.37 L1170.47,49.73 L1171.31,51.13 L1172.15,52.57 L1172.99,54.04 L1173.83,55.56 L1174.67,57.11 L1175.50,58.70 L1176.34,60.33 L1177.18,61.99 L1178.02,63.70 L1178.86,65.44 L1179.70,67.21 L1180.53,69.02 L1181.37,70.86 L1182.21,72.73 L1183.05,74.64 L1183.89,76.58 L1184.73,78.55 L1185.56,80.55 L1186.40,82.57 L1187.24,84.62 L1188.08,86.69 L1188.92,88.79 L1189.75,90.91 L1190.59,93.04 L1191.43,95.20 L1192.27,97.37 L1193.11,99.55 L1193.95,101.74 L1194.78,103.95 L1195.62,106.16 L1196.46,108.37 L1197.30,110.59 L1198.14,112.80 L1198.98,115.01 L1199.81,117.22 L1200.65,119.42 L1201.49,121.61 L1202.33,123.78 L1203.17,125.94 L1204.01,128.08 L1204.84,130.20 L1205.68,132.29 L1206.52,134.36 L1207.36,136.39 L1208.20,138.39 L1209.04,140.36 L1209.87,142.29 L1210.71,144.17 L1211.55,146.02 L1212.39,147.81 L1213.23,149.56 L1214.07,151.25 L1214.90,152.89 L1215.74,154.47 L1216.58,156.00 L1217.42,157.46 L1218.26,158.85 L1219.09,160.18 L1219.93,161.44 L1220.77,162.64 L1221.61,163.75 L1222.45,164.80 L1223.29,165.76 L1224.12,166.66 L1224.96,167.47 L1225.80,168.20 L1226.64,168.85 L1227.48,169.41 L1228.32,169.90 L1229.15,170.29 L1229.99,170.61 L1230.83,170.83 L1231.67,170.98 L1232.51,171.03 L1233.35,171.00 L1234.18,170.88 L1235.02,170.68 L1235.86,170.39 L1236.70,170.02 L1237.54,169.56 L1238.38,169.02 L1239.21,168.39 L1240.05,167.68 L1240.89,166.89 L1241.73,166.03 L1242.57,165.08 L1243.41,164.06 L1244.24,162.96 L1245.08,161.79 L1245.92,160.55 L1246.76,159.24 L1247.60,157.86 L1248.43,156.42 L1249.27,154.91 L1250.11,153.35 L1250.95,151.73 L1251.79,150.05 L1252.63,148.32 L1253.46,146.53 L1254.30,144.70 L1255.14,142.83 L1255.98,140.91 L1256.82,138.96 L1257.66,136.97 L1258.49,134.94 L1259.33,132.88 L1260.17,130.80 L1261.01,128.69 L1261.85,126.55 L1262.69,124.40 L1263.52,122.23 L1264.36,120.04 L1265.20,117.85 L1266.04,115.64 L1266.88,113.43 L1267.72,111.22 L1268.55,109.00 L1269.39,106.79 L1270.23,104.58 L1271.07,102.37 L1271.91,100.17 L1272.75,97.99 L1273.58,95.82 L1274.42,93.66 L1275.26,91.51 L1276.10,89.39 L1276.94,87.29 L1277.77,85.21 L1278.61,83.15 L1279.45,81.12 L1280.29,79.12 L1281.13,77.14 L1281.97,75.19 L1282.80,73.28 L1283.64,71.39 L1284.48,69.54 L1285.32,67.72 L1286.16,65.94 L1287.00,64.19 L1287.83,62.48 L1288.67,60.80 L1289.51,59.16 L1290.35,57.56 L1291.19,56.00 L1292.03,54.47 L1292.86,52.98 L1293.70,51.54 L1294.54,50.13 L1295.38,48.75 L1296.22,47.42 L1297.06,46.13 L1297.89,44.87 L1298.73,43.65 L1299.57,42.47 L1300.41,41.33 L1301.25,40.22 L1302.09,39.15 L1302.92,38.12 L1303.76,37.12 L1304.60,36.15 L1305.44,35.22 L1306.28,34.33 L1307.11,33.46 L1307.95,32.63 L1308.79,31.83 L1309.63,31.07 L1310.47,30.33 L1311.31,29.62 L1312.14,28.94 L1312.98,28.29 L1313.82,27.67 L1314.66,27.07 L1315.50,26.50 L1316.34,25.96 L1317.17,25.44 L1318.01,24.94 L1318.85,24.47 L1319.69,24.01 L1320.53,23.58 L1321.37,23.17 L1322.20,22.78 L1323.04,22.41 L1323.88,22.06 L1324.72,21.72 L1325.56,21.40 L1326.40,21.10 L1327.23,20.82 L1328.07,20.55 L1328.91,20.29 L1329.75,20.05 L1330.59,19.82 L1331.43,19.60 L1332.26,19.40 L1333.10,19.20 L1333.94,19.02 L1334.78,18.85 L1335.62,18.69 L1336.45,18.54 L1337.29,18.39 L1338.13,18.26 L1338.97,18.13 L1339.81,18.01 L1340.65,17.90 L1341.48,17.80 L1342.32,17.70 L1343.16,17.61 L1344.00,17.52 L1344.84,17.44 L1345.68,17.36 L1346.51,17.29 L1347.35,17.23 L1348.19,17.17 L1349.03,17.11 L1349.87,17.06 L1350.71,17.01 L1351.54,16.96 L1352.38,16.92 L1353.22,16.88 L1354.06,16.84 L1354.90,16.81 L1355.74,16.78 L1356.57,16.75 L1357.41,16.72 L1358.25,16.69 L1359.09,16.67 L1359.93,16.65 L1360.77,16.63 L1361.60,16.61 L1362.44,16.59 L1363.28,16.58 L1364.12,16.56 L1364.96,16.55 L1365.79,16.53 L1366.63,16.52 L1367.47,16.51 L1368.31,16.50 L1369.15,16.49 L1369.99,16.49 L1370.82,16.48 L1371.66,16.47 L1372.50,16.47 L1373.34,16.46 L1374.18,16.45 L1375.02,16.45 L1375.85,16.44 L1376.69,16.44 L1377.53,16.44 L1378.37,16.43 L1379.21,16.43 L1380.05,16.43 L1380.88,16.42 L1381.72,16.42 L1382.56,16.42 L1383.40,16.42 L1384.24,16.42 L1385.08,16.42 L1385.91,16.41 L1386.75,16.41 L1387.59,16.41 L1388.43,16.41 L1389.27,16.41 L1390.11,16.41 L1390.94,16.41 L1391.78,16.41 L1392.62,16.41 L1393.46,16.41 L1394.30,16.40 L1395.13,16.40 L1395.97,16.40 L1396.81,16.40 L1397.65,16.40 L1398.49,16.40 L1399.33,16.40 L1400.16,16.40 L1401.00,16.40 L1401.84,16.40 L1402.68,16.40 L1403.52,16.40 L1404.36,16.40 L1405.19,16.40 L1406.03,16.40 L1406.87,16.40 L1407.71,16.40 L1408.55,16.40 L1409.39,16.40 L1410.22,16.40 L1411.06,16.40 L1411.90,16.40 L1412.74,16.40 L1413.58,16.40 L1414.42,16.40 L1415.25,16.40 L1416.09,16.40 L1416.93,16.40 L1417.77,16.40 L1418.61,16.40 L1419.45,16.40 L1420.28,16.40 L1421.12,16.40 L1421.96,16.40 L1422.80,16.40 L1423.64,16.40 L1424.47,16.40 L1425.31,16.40 L1426.15,16.40 L1426.99,16.40 L1427.83,16.40 L1428.67,16.40 L1429.50,16.40 L1430.34,16.40 L1431.18,16.40 L1432.02,16.40 L1432.86,16.40 L1433.70,16.40 L1434.53,16.40 L1435.37,16.40 L1436.21,16.40 L1437.05,16.40 L1437.89,16.40 L1438.73,16.40 L1439.56,16.40 L1440.40,16.40 L1441.24,16.40 L1442.08,16.40 L1442.92,16.40 L1443.76,16.40 L1444.59,16.40 L1445.43,16.40 L1446.27,16.40 L1447.11,16.40 L1447.95,16.40 L1448.79,16.40 L1449.62,16.40 L1450.46,16.40 L1451.30,16.40 L1452.14,16.40 L1452.98,16.40 L1453.81,16.40 L1454.65,16.40 L1455.49,16.40 L1456.33,16.40 L1457.17,16.40 L1458.01,16.40 L1458.84,16.40 L1459.68,16.40 L1460.52,16.40 L1461.36,16.40 L1462.20,16.40 L1463.04,16.40 L1463.87,16.40 L1464.71,16.40 L1465.55,16.40 L1466.39,16.40 L1467.23,16.40 L1468.07,16.40 L1468.90,16.40 L1469.74,16.40 L1470.58,16.40 L1471.42,16.40 L1472.26,16.40 L1473.10,16.40 L1473.93,16.40 L1474.77,16.40 L1475.61,16.40 L1476.45,16.40 L1477.29,16.40 L1478.13,16.40 L1478.96,16.40 L1479.80,16.40 L1480.64,16.40 L1481.48,16.40 L1482.32,16.40 L1483.15,16.40 L1483.99,16.40 L1484.83,16.40 L1485.67,16.40 L1486.51,16.40 L1487.35,16.40 L1488.18,16.40 L1489.02,16.40 L1489.86,16.40 L1490.70,16.40 L1491.54,16.40 L1492.38,16.40 L1493.21,16.40 L1494.05,16.40 L1494.89,16.40 L1495.73,16.40 L1496.57,16.40 L1497.41,16.40 L1498.24,16.40 L1499.08,16.40 L1499.92,16.40 L1500.76,16.40 L1501.60,16.40 L1502.44,16.40 L1503.27,16.40 L1504.11,16.40 L1504.95,16.40 L1505.79,16.40 L1506.63,16.40 L1507.47,16.40 L1508.30,16.40 L1509.14,16.40 L1509.98,16.40 L1510.82,16.40 L1511.66,16.40 L1512.49,16.40 L1513.33,16.40 L1514.17,16.40 L1515.01,16.40 L1515.85,16.40 L1516.69,16.40 L1517.52,16.40 L1518.36,16.40 L1519.20,16.40 L1520.04,16.40 L1520.88,16.40 L1521.72,16.40 L1522.55,16.40" fill="none" stroke="#f00" stroke-width="3.8" stroke-linejoin="round"/>
<path d="M936.59,16.40 L937.43,16.40 L938.27,16.40 L939.11,16.40 L939.95,16.40 L940.78,16.40 L941.62,16.40 L942.46,16.40 L943.30,16.40 L944.14,16.40 L944.98,16.40 L945.81,16.40 L946.65,16.40 L947.49,16.40 L948.33,16.40 L949.17,16.40 L950.00,16.40 L950.84,16.40 L951.68,16.40 L952.52,16.40 L953.36,16.40 L954.20,16.40 L955.03,16.40 L955.87,16.40 L956.71,16.40 L957.55,16.40 L958.39,16.40 L959.23,16.40 L960.06,16.40 L960.90,16.40 L961.74,16.40 L962.58,16.40 L963.42,16.40 L964.26,16.40 L965.09,16.40 L965.93,16.40 L966.77,16.40 L967.61,16.40 L968.45,16.40 L969.29,16.40 L970.12,16.40 L970.96,16.40 L971.80,16.40 L972.64,16.40 L973.48,16.40 L974.32,16.40 L975.15,16.40 L975.99,16.40 L976.83,16.40 L977.67,16.40 L978.51,16.40 L979.34,16.40 L980.18,16.40 L981.02,16.40 L981.86,16.40 L982.70,16.40 L983.54,16.40 L984.37,16.40 L985.21,16.40 L986.05,16.40 L986.89,16.40 L987.73,16.40 L988.57,16.40 L989.40,16.40 L990.24,16.40 L991.08,16.40 L991.92,16.40 L992.76,16.40 L993.60,16.40 L994.43,16.40 L995.27,16.40 L996.11,16.40 L996.95,16.40 L997.79,16.40 L998.63,16.40 L999.46,16.40 L1000.30,16.40 L1001.14,16.40 L1001.98,16.40 L1002.82,16.40 L1003.66,16.40 L1004.49,16.40 L1005.33,16.40 L1006.17,16.40 L1007.01,16.40 L1007.85,16.40 L1008.69,16.40 L1009.52,16.40 L1010.36,16.40 L1011.20,16.40 L1012.04,16.40 L1012.88,16.40 L1013.71,16.40 L1014.55,16.40 L1015.39,16.40 L1016.23,16.40 L1017.07,16.40 L1017.91,16.40 L1018.74,16.40 L1019.58,16.40 L1020.42,16.40 L1021.26,16.40 L1022.10,16.40 L1022.94,16.40 L1023.77,16.40 L1024.61,16.40 L1025.45,16.40 L1026.29,16.40 L1027.13,16.40 L1027.97,16.40 L1028.80,16.40 L1029.64,16.40 L1030.48,16.40 L1031.32,16.40 L1032.16,16.40 L1033.00,16.40 L1033.83,16.40 L1034.67,16.40 L1035.51,16.40 L1036.35,16.40 L1037.19,16.40 L1038.03,16.40 L1038.86,16.40 L1039.70,16.40 L1040.54,16.40 L1041.38,16.40 L1042.22,16.40 L1043.05,16.40 L1043.89,16.40 L1044.73,16.40 L1045.57,16.40 L1046.41,16.40 L1047.25,16.40 L1048.08,16.40 L1048.92,16.40 L1049.76,16.40 L1050.60,16.40 L1051.44,16.40 L1052.28,16.40 L1053.11,16.40 L1053.95,16.40 L1054.79,16.40 L1055.63,16.40 L1056.47,16.40 L1057.31,16.40 L1058.14,16.40 L1058.98,16.40 L1059.82,16.40 L1060.66,16.40 L1061.50,16.40 L1062.34,16.40 L1063.17,16.40 L1064.01,16.40 L1064.85,16.40 L1065.69,16.40 L1066.53,16.40 L1067.37,16.40 L1068.20,16.40 L1069.04,16.40 L1069.88,16.40 L1070.72,16.40 L1071.56,16.40 L1072.39,16.40 L1073.23,16.40 L1074.07,16.40 L1074.91,16.40 L1075.75,16.40 L1076.59,16.40 L1077.42,16.40 L1078.26,16.40 L1079.10,16.40 L1079.94,16.40 L1080.78,16.40 L1081.62,16.40 L1082.45,16.40 L1083.29,16.40 L1084.13,16.40 L1084.97,16.40 L1085.81,16.40 L1086.65,16.40 L1087.48,16.40 L1088.32,16.40 L1089.16,16.40 L1090.00,16.40 L1090.84,16.40 L1091.68,16.40 L1092.51,16.40 L1093.35,16.40 L1094.19,16.40 L1095.03,16.40 L1095.87,16.40 L1096.71,16.40 L1097.54,16.40 L1098.38,16.40 L1099.22,16.40 L1100.06,16.40 L1100.90,16.40 L1101.73,16.40 L1102.57,16.40 L1103.41,16.40 L1104.25,16.40 L1105.09,16.40 L1105.93,16.40 L1106.76,16.40 L1107.60,16.40 L1108.44,16.40 L1109.28,16.40 L1110.12,16.40 L1110.96,16.40 L1111.79,16.40 L1112.63,16.40 L1113.47,16.40 L1114.31,16.40 L1115.15,16.40 L1115.99,16.40 L1116.82,16.40 L1117.66,16.40 L1118.50,16.40 L1119.34,16.40 L1120.18,16.40 L1121.02,16.40 L1121.85,16.40 L1122.69,16.40 L1123.53,16.40 L1124.37,16.40 L1125.21,16.40 L1126.05,16.40 L1126.88,16.40 L1127.72,16.40 L1128.56,16.40 L1129.40,16.40 L1130.24,16.40 L1131.07,16.41 L1131.91,16.41 L1132.75,16.41 L1133.59,16.41 L1134.43,16.41 L1135.27,16.41 L1136.10,16.41 L1136.94,16.41 L1137.78,16.41 L1138.62,16.41 L1139.46,16.41 L1140.30,16.41 L1141.13,16.41 L1141.97,16.41 L1142.81,16.41 L1143.65,16.41 L1144.49,16.41 L1145.33,16.41 L1146.16,16.41 L1147.00,16.42 L1147.84,16.42 L1148.68,16.42 L1149.52,16.42 L1150.36,16.42 L1151.19,16.42 L1152.03,16.42 L1152.87,16.42 L1153.71,16.42 L1154.55,16.42 L1155.39,16.43 L1156.22,16.43 L1157.06,16.43 L1157.90,16.43 L1158.74,16.43 L1159.58,16.43 L1160.41,16.44 L1161.25,16.44 L1162.09,16.44 L1162.93,16.44 L1163.77,16.44 L1164.61,16.45 L1165.44,16.45 L1166.28,16.45 L1167.12,16.45 L1167.96,16.46 L1168.80,16.46 L1169.64,16.46 L1170.47,16.47 L1171.31,16.47 L1172.15,16.47 L1172.99,16.48 L1173.83,16.48 L1174.67,16.48 L1175.50,16.49 L1176.34,16.49 L1177.18,16.50 L1178.02,16.50 L1178.86,16.51 L1179.70,16.51 L1180.53,16.52 L1181.37,16.52 L1182.21,16.53 L1183.05,16.54 L1183.89,16.54 L1184.73,16.55 L1185.56,16.56 L1186.40,16.56 L1187.24,16.57 L1188.08,16.58 L1188.92,16.59 L1189.75,16.60 L1190.59,16.61 L1191.43,16.62 L1192.27,16.63 L1193.11,16.64 L1193.95,16.65 L1194.78,16.66 L1195.62,16.67 L1196.46,16.68 L1197.30,16.69 L1198.14,16.71 L1198.98,16.72 L1199.81,16.73 L1200.65,16.75 L1201.49,16.76 L1202.33,16.78 L1203.17,16.79 L1204.01,16.81 L1204.84,16.83 L1205.68,16.85 L1206.52,16.87 L1207.36,16.89 L1208.20,16.91 L1209.04,16.93 L1209.87,16.95 L1210.71,16.97 L1211.55,16.99 L1212.39,17.02 L1213.23,17.04 L1214.07,17.07 L1214.90,17.09 L1215.74,17.12 L1216.58,17.15 L1217.42,17.18 L1218.26,17.21 L1219.09,17.24 L1219.93,17.27 L1220.77,17.31 L1221.61,17.34 L1222.45,17.38 L1223.29,17.41 L1224.12,17.45 L1224.96,17.49 L1225.80,17.53 L1226.64,17.57 L1227.48,17.62 L1228.32,17.66 L1229.15,17.71 L1229.99,17.75 L1230.83,17.80 L1231.67,17.85 L1232.51,17.90 L1233.35,17.95 L1234.18,18.01 L1235.02,18.06 L1235.86,18.12 L1236.70,18.18 L1237.54,18.24 L1238.38,18.30 L1239.21,18.37 L1240.05,18.43 L1240.89,18.50 L1241.73,18.57 L1242.57,18.64 L1243.41,18.71 L1244.24,18.79 L1245.08,18.86 L1245.92,18.94 L1246.76,19.02 L1247.60,19.10 L1248.43,19.19 L1249.27,19.27 L1250.11,19.36 L1250.95,19.45 L1251.79,19.55 L1252.63,19.64 L1253.46,19.74 L1254.30,19.84 L1255.14,19.94 L1255.98,20.04 L1256.82,20.15 L1257.66,20.26 L1258.49,20.37 L1259.33,20.48 L1260.17,20.59 L1261.01,20.71 L1261.85,20.83 L1262.69,20.95 L1263.52,21.08 L1264.36,21.20 L1265.20,21.33 L1266.04,21.46 L1266.88,21.60 L1267.72,21.74 L1268.55,21.87 L1269.39,22.02 L1270.23,22.16 L1271.07,22.31 L1271.91,22.45 L1272.75,22.61 L1273.58,22.76 L1274.42,22.92 L1275.26,23.07 L1276.10,23.24 L1276.94,23.40 L1277.77,23.57 L1278.61,23.73 L1279.45,23.90 L1280.29,24.08 L1281.13,24.25 L1281.97,24.43 L1282.80,24.61 L1283.64,24.79 L1284.48,24.98 L1285.32,25.17 L1286.16,25.35 L1287.00,25.55 L1287.83,25.74 L1288.67,25.94 L1289.51,26.13 L1290.35,26.33 L1291.19,26.53 L1292.03,26.74 L1292.86,26.94 L1293.70,27.15 L1294.54,27.36 L1295.38,27.57 L1296.22,27.78 L1297.06,28.00 L1297.89,28.21 L1298.73,28.43 L1299.57,28.65 L1300.41,28.87 L1301.25,29.09 L1302.09,29.32 L1302.92,29.54 L1303.76,29.77 L1304.60,29.99 L1305.44,30.22 L1306.28,30.45 L1307.11,30.68 L1307.95,30.91 L1308.79,31.14 L1309.63,31.37 L1310.47,31.60 L1311.31,31.83 L1312.14,32.06 L1312.98,32.29 L1313.82,32.53 L1314.66,32.76 L1315.50,32.99 L1316.34,33.22 L1317.17,33.45 L1318.01,33.68 L1318.85,33.92 L1319.69,34.15 L1320.53,34.37 L1321.37,34.60 L1322.20,34.83 L1323.04,35.06 L1323.88,35.28 L1324.72,35.51 L1325.56,35.73 L1326.40,35.95 L1327.23,36.17 L1328.07,36.39 L1328.91,36.61 L1329.75,36.82 L1330.59,37.03 L1331.43,37.24 L1332.26,37.45 L1333.10,37.66 L1333.94,37.86 L1334.78,38.06 L1335.62,38.26 L1336.45,38.45 L1337.29,38.65 L1338.13,38.83 L1338.97,39.02 L1339.81,39.20 L1340.65,39.38 L1341.48,39.56 L1342.32,39.73 L1343.16,39.90 L1344.00,40.07 L1344.84,40.23 L1345.68,40.39 L1346.51,40.54 L1347.35,40.69 L1348.19,40.84 L1349.03,40.98 L1349.87,41.12 L1350.71,41.25 L1351.54,41.38 L1352.38,41.50 L1353.22,41.62 L1354.06,41.74 L1354.90,41.85 L1355.74,41.95 L1356.57,42.05 L1357.41,42.15 L1358.25,42.24 L1359.09,42.32 L1359.93,42.40 L1360.77,42.47 L1361.60,42.54 L1362.44,42.61 L1363.28,42.67 L1364.12,42.72 L1364.96,42.77 L1365.79,42.81 L1366.63,42.85 L1367.47,42.88 L1368.31,42.91 L1369.15,42.93 L1369.99,42.94 L1370.82,42.95 L1371.66,42.96 L1372.50,42.96 L1373.34,42.95 L1374.18,42.94 L1375.02,42.93 L1375.85,42.91 L1376.69,42.89 L1377.53,42.86 L1378.37,42.82 L1379.21,42.79 L1380.05,42.75 L1380.88,42.70 L1381.72,42.65 L1382.56,42.59 L1383.40,42.53 L1384.24,42.47 L1385.08,42.40 L1385.91,42.33 L1386.75,42.25 L1387.59,42.17 L1388.43,42.09 L1389.27,42.00 L1390.11,41.91 L1390.94,41.81 L1391.78,41.71 L1392.62,41.60 L1393.46,41.50 L1394.30,41.38 L1395.13,41.27 L1395.97,41.15 L1396.81,41.02 L1397.65,40.90 L1398.49,40.76 L1399.33,40.63 L1400.16,40.49 L1401.00,40.35 L1401.84,40.21 L1402.68,40.06 L1403.52,39.91 L1404.36,39.76 L1405.19,39.60 L1406.03,39.44 L1406.87,39.28 L1407.71,39.11 L1408.55,38.94 L1409.39,38.77 L1410.22,38.60 L1411.06,38.43 L1411.90,38.25 L1412.74,38.07 L1413.58,37.89 L1414.42,37.70 L1415.25,37.51 L1416.09,37.33 L1416.93,37.14 L1417.77,36.94 L1418.61,36.75 L1419.45,36.55 L1420.28,36.36 L1421.12,36.16 L1421.96,35.96 L1422.80,35.76 L1423.64,35.56 L1424.47,35.35 L1425.31,35.15 L1426.15,34.94 L1426.99,34.74 L1427.83,34.53 L1428.67,34.32 L1429.50,34.11 L1430.34,33.90 L1431.18,33.69 L1432.02,33.48 L1432.86,33.27 L1433.70,33.06 L1434.53,32.85 L1435.37,32.64 L1436.21,32.43 L1437.05,32.22 L1437.89,32.01 L1438.73,31.80 L1439.56,31.59 L1440.40,31.38 L1441.24,31.17 L1442.08,30.96 L1442.92,30.75 L1443.76,30.54 L1444.59,30.33 L1445.43,30.12 L1446.27,29.92 L1447.11,29.71 L1447.95,29.51 L1448.79,29.30 L1449.62,29.10 L1450.46,28.90 L1451.30,28.70 L1452.14,28.50 L1452.98,28.30 L1453.81,28.11 L1454.65,27.91 L1455.49,27.72 L1456.33,27.52 L1457.17,27.33 L1458.01,27.14 L1458.84,26.95 L1459.68,26.77 L1460.52,26.58 L1461.36,26.40 L1462.20,26.21 L1463.04,26.03 L1463.87,25.85 L1464.71,25.68 L1465.55,25.50 L1466.39,25.33 L1467.23,25.16 L1468.07,24.99 L1468.90,24.82 L1469.74,24.65 L1470.58,24.49 L1471.42,24.32 L1472.26,24.16 L1473.10,24.01 L1473.93,23.85 L1474.77,23.69 L1475.61,23.54 L1476.45,23.39 L1477.29,23.24 L1478.13,23.10 L1478.96,22.95 L1479.80,22.81 L1480.64,22.67 L1481.48,22.53 L1482.32,22.39 L1483.15,22.26 L1483.99,22.13 L1484.83,22.00 L1485.67,21.87 L1486.51,21.74 L1487.35,21.62 L1488.18,21.49 L1489.02,21.37 L1489.86,21.26 L1490.70,21.14 L1491.54,21.02 L1492.38,20.91 L1493.21,20.80 L1494.05,20.69 L1494.89,20.59 L1495.73,20.48 L1496.57,20.38 L1497.41,20.28 L1498.24,20.18 L1499.08,20.08 L1499.92,19.99 L1500.76,19.90 L1501.60,19.80 L1502.44,19.71 L1503.27,19.63 L1504.11,19.54 L1504.95,19.46 L1505.79,19.37 L1506.63,19.29 L1507.47,19.21 L1508.30,19.14 L1509.14,19.06 L1509.98,18.99 L1510.82,18.92 L1511.66,18.84 L1512.49,18.78 L1513.33,18.71 L1514.17,18.64 L1515.01,18.58 L1515.85,18.51 L1516.69,18.45 L1517.52,18.39 L1518.36,18.33 L1519.20,18.28 L1520.04,18.22 L1520.88,18.17 L1521.72,18.11 L1522.55,18.06" fill="none" stroke="#f00" stroke-width="3.8" stroke-linejoin="round"/>
<text transform="translate(905.52,27.10) scale(0.9387,1)" font-family="'Liberation Sans', Arial, sans-serif" font-weight="bold" font-size="31.40" fill="#000" >0</text>
<text transform="translate(861.70,175.30) scale(0.9588,1)" font-family="'Liberation Sans', Arial, sans-serif" font-weight="bold" font-size="31.40" fill="#000" >-500</text>
<text transform="translate(844.48,323.00) scale(0.9860,1)" font-family="'Liberation Sans', Arial, sans-serif" font-weight="bold" font-size="30.82" fill="#000" >-1000</text>
<text transform="translate(1012.85,442.50) scale(0.9648,1)" font-family="'Liberation Sans', Arial, sans-serif" font-weight="bold" font-size="31.11" fill="#000" >450</text>
<text transform="translate(1157.71,442.50) scale(0.9754,1)" font-family="'Liberation Sans', Arial, sans-serif" font-weight="bold" font-size="31.11" fill="#000" >500</text>
<text transform="translate(1303.11,442.50) scale(0.9754,1)" font-family="'Liberation Sans', Arial, sans-serif" font-weight="bold" font-size="31.11" fill="#000" >550</text>
<text transform="translate(1448.36,442.50) scale(0.9784,1)" font-family="'Liberation Sans', Arial, sans-serif" font-weight="bold" font-size="31.11" fill="#000" >600</text>
<text transform="translate(1117.72,491.10) scale(0.9555,1)" font-family="'Liberation Serif', 'Times New Roman', serif" font-weight="bold" font-size="33.44" fill="#000" >Wavelength (nm)</text>
<g transform="translate(823.70,294.70) rotate(-90)"><text transform="translate(-0.90,0) scale(1.0108,1)" font-family="'Liberation Serif', 'Times New Roman', serif" font-weight="bold" font-size="32.37">m deg (mM<tspan font-size="20.07" dy="-11.65">-1</tspan><tspan dy="11.65">)</tspan></text></g>
<rect x="115.5" y="590.7" width="597.7" height="400.0999999999999" fill="none" stroke="#000" stroke-width="4.0"/>
<line x1="104.0" y1="990.80" x2="115.5" y2="990.80" stroke="#000" stroke-width="3.6"/>
<line x1="104.0" y1="809.05" x2="115.5" y2="809.05" stroke="#000" stroke-width="3.6"/>
<line x1="104.0" y1="627.30" x2="115.5" y2="627.30" stroke="#000" stroke-width="3.6"/>
<line x1="115.50" y1="990.8" x2="115.50" y2="1002.3" stroke="#000" stroke-width="3.6"/>
<line x1="264.93" y1="990.8" x2="264.93" y2="1002.3" stroke="#000" stroke-width="3.6"/>
<line x1="414.35" y1="990.8" x2="414.35" y2="1002.3" stroke="#000" stroke-width="3.6"/>
<line x1="563.78" y1="990.8" x2="563.78" y2="1002.3" stroke="#000" stroke-width="3.6"/>
<line x1="713.20" y1="990.8" x2="713.20" y2="1002.3" stroke="#000" stroke-width="3.6"/>
<text transform="translate(60.94,1001.89) scale(0.9400,1)" font-family="'Liberation Sans', Arial, sans-serif" font-weight="bold" font-size="31.10">0.0</text>
<text transform="translate(60.57,820.14) scale(0.9400,1)" font-family="'Liberation Sans', Arial, sans-serif" font-weight="bold" font-size="31.10">0.5</text>
<text transform="translate(60.94,638.39) scale(0.9400,1)" font-family="'Liberation Sans', Arial, sans-serif" font-weight="bold" font-size="31.10">1.0</text>
<text transform="translate(95.18,1033.10) scale(0.9400,1)" font-family="'Liberation Sans', Arial, sans-serif" font-weight="bold" font-size="31.11">0.0</text>
<text transform="translate(244.42,1033.10) scale(0.9400,1)" font-family="'Liberation Sans', Arial, sans-serif" font-weight="bold" font-size="31.11">0.5</text>
<text transform="translate(393.70,1033.10) scale(0.9400,1)" font-family="'Liberation Sans', Arial, sans-serif" font-weight="bold" font-size="31.11">1.0</text>
<text transform="translate(542.94,1033.10) scale(0.9400,1)" font-family="'Liberation Sans', Arial, sans-serif" font-weight="bold" font-size="31.11">1.5</text>
<text transform="translate(692.95,1033.10) scale(0.9400,1)" font-family="'Liberation Sans', Arial, sans-serif" font-weight="bold" font-size="31.11">2.0</text>
<text transform="translate(559.33,966.90) scale(0.9298,1)" font-family="'Liberation Sans', Arial, sans-serif" font-weight="bold" font-size="40.95" fill="#000" >491 nm</text>

<text transform="translate(362.01,1076.97) scale(1.0510,1)" font-family="'Liberation Serif', 'Times New Roman', serif" font-size="34.99">β</text>
<text transform="translate(380.05,1076.80) scale(0.9256,1)" font-family="'Liberation Sans', Arial, sans-serif" font-weight="bold" font-size="34.47" fill="#000" >H/2kT</text>
<g transform="translate(38.60,948.00) rotate(-90)"><text transform="translate(-2.19,0) scale(0.9242,1)" font-family="'Liberation Sans', Arial, sans-serif" font-weight="bold" font-size="35.05">Normalized Intensity</text></g>
<path d="M115.50,990.80 L115.76,984.45 L116.01,978.09 L116.27,971.75 L116.52,965.42 L116.78,959.10 L117.04,952.81 L117.29,946.53 L117.55,940.29 L117.81,934.07 L118.06,927.89 L118.32,921.74 L118.57,915.64 L118.83,909.57 L119.09,903.56" fill="none" stroke="#ffff00" stroke-width="1.5" stroke-linejoin="round"/>
<path d="M115.50,982.80L123.50,990.80L115.50,998.80L107.50,990.80Z" fill="none" stroke="#ffff00" stroke-width="2.6"/>
<path d="M115.76,976.45L123.76,984.45L115.76,992.45L107.76,984.45Z" fill="none" stroke="#ffff00" stroke-width="2.6"/>
<path d="M116.01,970.09L124.01,978.09L116.01,986.09L108.01,978.09Z" fill="none" stroke="#ffff00" stroke-width="2.6"/>
<path d="M116.27,963.75L124.27,971.75L116.27,979.75L108.27,971.75Z" fill="none" stroke="#ffff00" stroke-width="2.6"/>
<path d="M116.52,957.42L124.52,965.42L116.52,973.42L108.52,965.42Z" fill="none" stroke="#ffff00" stroke-width="2.6"/>
<path d="M116.78,951.10L124.78,959.10L116.78,967.10L108.78,959.10Z" fill="none" stroke="#ffff00" stroke-width="2.6"/>
<path d="M117.04,944.81L125.04,952.81L117.04,960.81L109.04,952.81Z" fill="none" stroke="#ffff00" stroke-width="2.6"/>
<path d="M117.29,938.53L125.29,946.53L117.29,954.53L109.29,946.53Z" fill="none" stroke="#ffff00" stroke-width="2.6"/>
<path d="M117.55,932.29L125.55,940.29L117.55,948.29L109.55,940.29Z" fill="none" stroke="#ffff00" stroke-width="2.6"/>
<path d="M117.81,926.07L125.81,934.07L117.81,942.07L109.81,934.07Z" fill="none" stroke="#ffff00" stroke-width="2.6"/>
<path d="M118.06,919.89L126.06,927.89L118.06,935.89L110.06,927.89Z" fill="none" stroke="#ffff00" stroke-width="2.6"/>
<path d="M118.32,913.74L126.32,921.74L118.32,929.74L110.32,921.74Z" fill="none" stroke="#ffff00" stroke-width="2.6"/>
<path d="M118.57,907.64L126.57,915.64L118.57,923.64L110.57,915.64Z" fill="none" stroke="#ffff00" stroke-width="2.6"/>
<path d="M118.83,901.57L126.83,909.57L118.83,917.57L110.83,909.57Z" fill="none" stroke="#ffff00" stroke-width="2.6"/>
<path d="M119.09,895.56L127.09,903.56L119.09,911.56L111.09,903.56Z" fill="none" stroke="#ffff00" stroke-width="2.6"/>
<path d="M115.50,990.80 L117.25,976.37 L119.00,961.99 L120.75,947.70 L122.50,933.54 L124.25,919.55 L126.00,905.79 L127.75,892.27 L129.50,879.05 L131.25,866.14 L133.00,853.58 L134.75,841.39 L136.50,829.59 L138.26,818.20 L140.01,807.23" fill="none" stroke="#800080" stroke-width="2.0" stroke-linejoin="round"/>
<path d="M115.50,980.80L125.50,990.80L115.50,1000.80L105.50,990.80Z" fill="none" stroke="#800080" stroke-width="1.4"/>
<path d="M117.25,966.37L127.25,976.37L117.25,986.37L107.25,976.37Z" fill="none" stroke="#800080" stroke-width="1.4"/>
<path d="M119.00,951.99L129.00,961.99L119.00,971.99L109.00,961.99Z" fill="none" stroke="#800080" stroke-width="1.4"/>
<path d="M120.75,937.70L130.75,947.70L120.75,957.70L110.75,947.70Z" fill="none" stroke="#800080" stroke-width="1.4"/>
<path d="M122.50,923.54L132.50,933.54L122.50,943.54L112.50,933.54Z" fill="none" stroke="#800080" stroke-width="1.4"/>
<path d="M124.25,909.55L134.25,919.55L124.25,929.55L114.25,919.55Z" fill="none" stroke="#800080" stroke-width="1.4"/>
<path d="M126.00,895.79L136.00,905.79L126.00,915.79L116.00,905.79Z" fill="none" stroke="#800080" stroke-width="1.4"/>
<path d="M127.75,882.27L137.75,892.27L127.75,902.27L117.75,892.27Z" fill="none" stroke="#800080" stroke-width="1.4"/>
<path d="M129.50,869.05L139.50,879.05L129.50,889.05L119.50,879.05Z" fill="none" stroke="#800080" stroke-width="1.4"/>
<path d="M131.25,856.14L141.25,866.14L131.25,876.14L121.25,866.14Z" fill="none" stroke="#800080" stroke-width="1.4"/>
<path d="M133.00,843.58L143.00,853.58L133.00,863.58L123.00,853.58Z" fill="none" stroke="#800080" stroke-width="1.4"/>
<path d="M134.75,831.39L144.75,841.39L134.75,851.39L124.75,841.39Z" fill="none" stroke="#800080" stroke-width="1.4"/>
<path d="M136.50,819.59L146.50,829.59L136.50,839.59L126.50,829.59Z" fill="none" stroke="#800080" stroke-width="1.4"/>
<path d="M138.26,808.20L148.26,818.20L138.26,828.20L128.26,818.20Z" fill="none" stroke="#800080" stroke-width="1.4"/>
<path d="M140.01,797.23L150.01,807.23L140.01,817.23L130.01,807.23Z" fill="none" stroke="#800080" stroke-width="1.4"/>
<path d="M115.50,990.80 L119.66,963.71 L123.83,936.92 L127.99,910.71 L132.15,885.35 L136.31,861.06 L140.48,838.03 L144.64,816.40 L148.80,796.27 L152.96,777.68 L157.13,760.64 L161.29,745.14 L165.45,731.13 L169.61,718.53 L173.78,707.27" fill="none" stroke="#0000cc" stroke-width="3.2" stroke-linejoin="round"/>
<path d="M115.50,980.60L125.70,990.80L115.50,1001.00L105.30,990.80Z" fill="none" stroke="#0000cc" stroke-width="1.6"/>
<path d="M119.66,953.51L129.86,963.71L119.66,973.91L109.46,963.71Z" fill="none" stroke="#0000cc" stroke-width="1.6"/>
<path d="M123.83,926.72L134.03,936.92L123.83,947.12L113.63,936.92Z" fill="none" stroke="#0000cc" stroke-width="1.6"/>
<path d="M127.99,900.51L138.19,910.71L127.99,920.91L117.79,910.71Z" fill="none" stroke="#0000cc" stroke-width="1.6"/>
<path d="M132.15,875.15L142.35,885.35L132.15,895.55L121.95,885.35Z" fill="none" stroke="#0000cc" stroke-width="1.6"/>
<path d="M136.31,850.86L146.51,861.06L136.31,871.26L126.11,861.06Z" fill="none" stroke="#0000cc" stroke-width="1.6"/>
<path d="M140.48,827.83L150.68,838.03L140.48,848.23L130.28,838.03Z" fill="none" stroke="#0000cc" stroke-width="1.6"/>
<path d="M144.64,806.20L154.84,816.40L144.64,826.60L134.44,816.40Z" fill="none" stroke="#0000cc" stroke-width="1.6"/>
<path d="M148.80,786.07L159.00,796.27L148.80,806.47L138.60,796.27Z" fill="none" stroke="#0000cc" stroke-width="1.6"/>
<path d="M152.96,767.48L163.16,777.68L152.96,787.88L142.76,777.68Z" fill="none" stroke="#0000cc" stroke-width="1.6"/>
<path d="M157.13,750.44L167.33,760.64L157.13,770.84L146.93,760.64Z" fill="none" stroke="#0000cc" stroke-width="1.6"/>
<path d="M161.29,734.94L171.49,745.14L161.29,755.34L151.09,745.14Z" fill="none" stroke="#0000cc" stroke-width="1.6"/>
<path d="M165.45,720.93L175.65,731.13L165.45,741.33L155.25,731.13Z" fill="none" stroke="#0000cc" stroke-width="1.6"/>
<path d="M169.61,708.33L179.81,718.53L169.61,728.73L159.41,718.53Z" fill="none" stroke="#0000cc" stroke-width="1.6"/>
<path d="M173.78,697.07L183.98,707.27L173.78,717.47L163.58,707.27Z" fill="none" stroke="#0000cc" stroke-width="1.6"/>
<path d="M115.50,990.80 L123.83,939.93 L132.15,891.02 L140.48,845.72 L148.80,805.22 L157.13,770.12 L165.45,740.52 L173.78,716.12 L182.10,696.38 L190.43,680.67 L198.75,668.30 L207.08,658.67 L215.40,651.22 L223.73,645.50 L232.05,641.11" fill="none" stroke="#008000" stroke-width="3.2" stroke-linejoin="round"/>
<path d="M115.50,981.10L125.50,998.50L105.50,998.50Z" fill="#fff" stroke="#008000" stroke-width="1.5"/>
<path d="M123.83,930.23L133.83,947.63L113.83,947.63Z" fill="#fff" stroke="#008000" stroke-width="1.5"/>
<path d="M132.15,881.32L142.15,898.72L122.15,898.72Z" fill="#fff" stroke="#008000" stroke-width="1.5"/>
<path d="M140.48,836.02L150.48,853.42L130.48,853.42Z" fill="#fff" stroke="#008000" stroke-width="1.5"/>
<path d="M148.80,795.52L158.80,812.92L138.80,812.92Z" fill="#fff" stroke="#008000" stroke-width="1.5"/>
<path d="M157.13,760.42L167.13,777.82L147.13,777.82Z" fill="#fff" stroke="#008000" stroke-width="1.5"/>
<path d="M165.45,730.82L175.45,748.22L155.45,748.22Z" fill="#fff" stroke="#008000" stroke-width="1.5"/>
<path d="M173.78,706.42L183.78,723.82L163.78,723.82Z" fill="#fff" stroke="#008000" stroke-width="1.5"/>
<path d="M182.10,686.68L192.10,704.08L172.10,704.08Z" fill="#fff" stroke="#008000" stroke-width="1.5"/>
<path d="M190.43,670.97L200.43,688.37L180.43,688.37Z" fill="#fff" stroke="#008000" stroke-width="1.5"/>
<path d="M198.75,658.60L208.75,676.00L188.75,676.00Z" fill="#fff" stroke="#008000" stroke-width="1.5"/>
<path d="M207.08,648.97L217.08,666.37L197.08,666.37Z" fill="#fff" stroke="#008000" stroke-width="1.5"/>
<path d="M215.40,641.52L225.40,658.92L205.40,658.92Z" fill="#fff" stroke="#008000" stroke-width="1.5"/>
<path d="M223.73,635.80L233.73,653.20L213.73,653.20Z" fill="#fff" stroke="#008000" stroke-width="1.5"/>
<path d="M232.05,631.41L242.05,648.81L222.05,648.81Z" fill="#fff" stroke="#008000" stroke-width="1.5"/>
<path d="M115.50,990.80 L132.18,910.02 L148.85,836.85 L165.53,776.26 L182.20,729.73 L198.88,696.00 L215.55,672.57 L232.23,656.78 L248.91,646.34 L265.58,639.53 L282.26,635.13 L298.93,632.30 L315.61,630.49 L332.29,629.33 L348.96,628.60" fill="none" stroke="#f00" stroke-width="3.8" stroke-linejoin="round" stroke-linecap="round"/>
<rect x="105.60" y="980.90" width="19.80" height="19.80" fill="#fff" stroke="#f00" stroke-width="1.6"/>
<rect x="122.28" y="890.02" width="19.80" height="19.80" fill="#fff" stroke="#f00" stroke-width="1.6"/>
<rect x="138.95" y="804.97" width="19.80" height="19.80" fill="#fff" stroke="#f00" stroke-width="1.6"/>
<rect x="155.63" y="747.90" width="19.80" height="19.80" fill="#fff" stroke="#f00" stroke-width="1.6"/>
<rect x="172.30" y="708.27" width="19.80" height="19.80" fill="#fff" stroke="#f00" stroke-width="1.6"/>
<rect x="188.98" y="685.74" width="19.80" height="19.80" fill="#fff" stroke="#f00" stroke-width="1.6"/>
<rect x="205.65" y="665.02" width="19.80" height="19.80" fill="#fff" stroke="#f00" stroke-width="1.6"/>
<rect x="222.33" y="652.30" width="19.80" height="19.80" fill="#fff" stroke="#f00" stroke-width="1.6"/>
<rect x="239.01" y="646.84" width="19.80" height="19.80" fill="#fff" stroke="#f00" stroke-width="1.6"/>
<rect x="255.68" y="638.12" width="19.80" height="19.80" fill="#fff" stroke="#f00" stroke-width="1.6"/>
<rect x="272.36" y="631.21" width="19.80" height="19.80" fill="#fff" stroke="#f00" stroke-width="1.6"/>
<rect x="289.03" y="629.03" width="19.80" height="19.80" fill="#fff" stroke="#f00" stroke-width="1.6"/>
<rect x="305.71" y="626.85" width="19.80" height="19.80" fill="#fff" stroke="#f00" stroke-width="1.6"/>
<rect x="322.39" y="621.76" width="19.80" height="19.80" fill="#fff" stroke="#f00" stroke-width="1.6"/>
<rect x="339.06" y="625.40" width="19.80" height="19.80" fill="#fff" stroke="#f00" stroke-width="1.6"/>
<path d="M115.50,990.80 L154.08,833.04 L192.66,736.71 L231.24,682.55 L269.83,660.38 L308.41,651.65 L346.99,647.11 L385.57,644.75 L424.15,642.57 L462.73,640.75 L501.32,639.30 L539.90,638.71 L578.48,638.20 L617.06,638.20 L655.64,639.11" fill="none" stroke="#000" stroke-width="4.4" stroke-linejoin="round" stroke-linecap="round"/>
<circle cx="115.50" cy="990.80" r="9.9" fill="#fff" stroke="#000" stroke-width="1.7"/>
<circle cx="154.08" cy="833.04" r="9.9" fill="#fff" stroke="#000" stroke-width="1.7"/>
<circle cx="192.66" cy="736.71" r="9.9" fill="#fff" stroke="#000" stroke-width="1.7"/>
<circle cx="231.24" cy="690.91" r="9.9" fill="#fff" stroke="#000" stroke-width="1.7"/>
<circle cx="269.83" cy="668.38" r="9.9" fill="#fff" stroke="#000" stroke-width="1.7"/>
<circle cx="308.41" cy="656.74" r="9.9" fill="#fff" stroke="#000" stroke-width="1.7"/>
<circle cx="346.99" cy="649.47" r="9.9" fill="#fff" stroke="#000" stroke-width="1.7"/>
<circle cx="385.57" cy="644.02" r="9.9" fill="#fff" stroke="#000" stroke-width="1.7"/>
<circle cx="424.15" cy="641.48" r="9.9" fill="#fff" stroke="#000" stroke-width="1.7"/>
<circle cx="462.73" cy="637.84" r="9.9" fill="#fff" stroke="#000" stroke-width="1.7"/>
<circle cx="501.32" cy="634.57" r="9.9" fill="#fff" stroke="#000" stroke-width="1.7"/>
<circle cx="539.90" cy="633.48" r="9.9" fill="#fff" stroke="#000" stroke-width="1.7"/>
<circle cx="578.48" cy="630.93" r="9.9" fill="#fff" stroke="#000" stroke-width="1.7"/>
<circle cx="617.06" cy="628.03" r="9.9" fill="#fff" stroke="#000" stroke-width="1.7"/>
<circle cx="655.64" cy="626.94" r="9.9" fill="#fff" stroke="#000" stroke-width="1.7"/>
<rect x="904.3" y="582.4" width="610.1000000000001" height="408.20000000000005" fill="none" stroke="#000" stroke-width="4.0"/>
<line x1="892.8" y1="990.70" x2="904.3" y2="990.70" stroke="#000" stroke-width="3.6"/>
<line x1="892.8" y1="805.05" x2="904.3" y2="805.05" stroke="#000" stroke-width="3.6"/>
<line x1="892.8" y1="619.40" x2="904.3" y2="619.40" stroke="#000" stroke-width="3.6"/>
<line x1="904.20" y1="990.6" x2="904.20" y2="1002.1" stroke="#000" stroke-width="3.6"/>
<line x1="1056.75" y1="990.6" x2="1056.75" y2="1002.1" stroke="#000" stroke-width="3.6"/>
<line x1="1209.30" y1="990.6" x2="1209.30" y2="1002.1" stroke="#000" stroke-width="3.6"/>
<line x1="1361.85" y1="990.6" x2="1361.85" y2="1002.1" stroke="#000" stroke-width="3.6"/>
<line x1="1514.40" y1="990.6" x2="1514.40" y2="1002.1" stroke="#000" stroke-width="3.6"/>
<text transform="translate(847.31,1002.18) scale(0.9400,1)" font-family="'Liberation Sans', Arial, sans-serif" font-weight="bold" font-size="32.23">0.0</text>
<text transform="translate(846.93,816.53) scale(0.9400,1)" font-family="'Liberation Sans', Arial, sans-serif" font-weight="bold" font-size="32.23">0.5</text>
<text transform="translate(847.31,630.88) scale(0.9400,1)" font-family="'Liberation Sans', Arial, sans-serif" font-weight="bold" font-size="32.23">1.0</text>
<text transform="translate(883.13,1033.90) scale(0.9400,1)" font-family="'Liberation Sans', Arial, sans-serif" font-weight="bold" font-size="32.26">0.0</text>
<text transform="translate(1035.49,1033.90) scale(0.9400,1)" font-family="'Liberation Sans', Arial, sans-serif" font-weight="bold" font-size="32.26">0.5</text>
<text transform="translate(1187.88,1033.90) scale(0.9400,1)" font-family="'Liberation Sans', Arial, sans-serif" font-weight="bold" font-size="32.26">1.0</text>
<text transform="translate(1340.25,1033.90) scale(0.9400,1)" font-family="'Liberation Sans', Arial, sans-serif" font-weight="bold" font-size="32.26">1.5</text>
<text transform="translate(1493.40,1033.90) scale(0.9400,1)" font-family="'Liberation Sans', Arial, sans-serif" font-weight="bold" font-size="32.26">2.0</text>
<text transform="translate(1358.25,962.40) scale(0.9139,1)" font-family="'Liberation Sans', Arial, sans-serif" font-weight="bold" font-size="42.04" fill="#000" >503 nm</text>

<text transform="translate(1155.41,1082.62) scale(1.0445,1)" font-family="'Liberation Serif', 'Times New Roman', serif" font-size="35.20">β</text>
<text transform="translate(1173.79,1082.80) scale(0.9340,1)" font-family="'Liberation Sans', Arial, sans-serif" font-weight="bold" font-size="35.05" fill="#000" >H/2kT</text>
<g transform="translate(826.00,946.30) rotate(-90)"><text transform="translate(-2.23,0) scale(0.8875,1)" font-family="'Liberation Sans', Arial, sans-serif" font-weight="bold" font-size="37.24">Normalized Intensity</text></g>
<path d="M904.20,990.70 L904.64,982.49 L905.07,974.29 L905.51,966.11 L905.94,957.95 L906.38,949.82 L906.82,941.73 L907.25,933.69 L907.69,925.71 L908.12,917.78 L908.56,909.92 L908.99,902.14 L909.43,894.44 L909.87,886.83 L910.30,879.31" fill="none" stroke="#c8c8c8" stroke-width="1.5" stroke-linejoin="round"/>
<path d="M904.20,984.70L910.20,990.70L904.20,996.70L898.20,990.70Z" fill="none" stroke="#c8c8c8" stroke-width="1.0"/>
<path d="M904.64,976.49L910.64,982.49L904.64,988.49L898.64,982.49Z" fill="none" stroke="#c8c8c8" stroke-width="1.0"/>
<path d="M905.07,968.29L911.07,974.29L905.07,980.29L899.07,974.29Z" fill="none" stroke="#c8c8c8" stroke-width="1.0"/>
<path d="M905.51,960.11L911.51,966.11L905.51,972.11L899.51,966.11Z" fill="none" stroke="#c8c8c8" stroke-width="1.0"/>
<path d="M905.94,951.95L911.94,957.95L905.94,963.95L899.94,957.95Z" fill="none" stroke="#c8c8c8" stroke-width="1.0"/>
<path d="M906.38,943.82L912.38,949.82L906.38,955.82L900.38,949.82Z" fill="none" stroke="#c8c8c8" stroke-width="1.0"/>
<path d="M906.82,935.73L912.82,941.73L906.82,947.73L900.82,941.73Z" fill="none" stroke="#c8c8c8" stroke-width="1.0"/>
<path d="M907.25,927.69L913.25,933.69L907.25,939.69L901.25,933.69Z" fill="none" stroke="#c8c8c8" stroke-width="1.0"/>
<path d="M907.69,919.71L913.69,925.71L907.69,931.71L901.69,925.71Z" fill="none" stroke="#c8c8c8" stroke-width="1.0"/>
<path d="M908.12,911.78L914.12,917.78L908.12,923.78L902.12,917.78Z" fill="none" stroke="#c8c8c8" stroke-width="1.0"/>
<path d="M908.56,903.92L914.56,909.92L908.56,915.92L902.56,909.92Z" fill="none" stroke="#c8c8c8" stroke-width="1.0"/>
<path d="M908.99,896.14L914.99,902.14L908.99,908.14L902.99,902.14Z" fill="none" stroke="#c8c8c8" stroke-width="1.0"/>
<path d="M909.43,888.44L915.43,894.44L909.43,900.44L903.43,894.44Z" fill="none" stroke="#c8c8c8" stroke-width="1.0"/>
<path d="M909.87,880.83L915.87,886.83L909.87,892.83L903.87,886.83Z" fill="none" stroke="#c8c8c8" stroke-width="1.0"/>
<path d="M910.30,873.31L916.30,879.31L910.30,885.31L904.30,879.31Z" fill="none" stroke="#c8c8c8" stroke-width="1.0"/>
<path d="M904.20,990.70 L905.77,976.32 L907.34,961.97 L908.91,947.72 L910.48,933.59 L912.05,919.63 L913.61,905.87 L915.18,892.36 L916.75,879.12 L918.32,866.18 L919.89,853.58 L921.46,841.33 L923.03,829.46 L924.60,817.98 L926.17,806.91" fill="none" stroke="#400070" stroke-width="2.0" stroke-linejoin="round"/>
<path d="M904.20,980.70L914.20,990.70L904.20,1000.70L894.20,990.70Z" fill="none" stroke="#400070" stroke-width="1.4"/>
<path d="M905.77,966.32L915.77,976.32L905.77,986.32L895.77,976.32Z" fill="none" stroke="#400070" stroke-width="1.4"/>
<path d="M907.34,951.97L917.34,961.97L907.34,971.97L897.34,961.97Z" fill="none" stroke="#400070" stroke-width="1.4"/>
<path d="M908.91,937.72L918.91,947.72L908.91,957.72L898.91,947.72Z" fill="none" stroke="#400070" stroke-width="1.4"/>
<path d="M910.48,923.59L920.48,933.59L910.48,943.59L900.48,933.59Z" fill="none" stroke="#400070" stroke-width="1.4"/>
<path d="M912.05,909.63L922.05,919.63L912.05,929.63L902.05,919.63Z" fill="none" stroke="#400070" stroke-width="1.4"/>
<path d="M913.61,895.87L923.61,905.87L913.61,915.87L903.61,905.87Z" fill="none" stroke="#400070" stroke-width="1.4"/>
<path d="M915.18,882.36L925.18,892.36L915.18,902.36L905.18,892.36Z" fill="none" stroke="#400070" stroke-width="1.4"/>
<path d="M916.75,869.12L926.75,879.12L916.75,889.12L906.75,879.12Z" fill="none" stroke="#400070" stroke-width="1.4"/>
<path d="M918.32,856.18L928.32,866.18L918.32,876.18L908.32,866.18Z" fill="none" stroke="#400070" stroke-width="1.4"/>
<path d="M919.89,843.58L929.89,853.58L919.89,863.58L909.89,853.58Z" fill="none" stroke="#400070" stroke-width="1.4"/>
<path d="M921.46,831.33L931.46,841.33L921.46,851.33L911.46,841.33Z" fill="none" stroke="#400070" stroke-width="1.4"/>
<path d="M923.03,819.46L933.03,829.46L923.03,839.46L913.03,829.46Z" fill="none" stroke="#400070" stroke-width="1.4"/>
<path d="M924.60,807.98L934.60,817.98L924.60,827.98L914.60,817.98Z" fill="none" stroke="#400070" stroke-width="1.4"/>
<path d="M926.17,796.91L936.17,806.91L926.17,816.91L916.17,806.91Z" fill="none" stroke="#400070" stroke-width="1.4"/>
<path d="M904.20,990.70 L908.38,963.03 L912.57,935.66 L916.75,908.89 L920.94,882.99 L925.12,858.18 L929.31,834.65 L933.49,812.56 L937.67,791.99 L941.86,773.00 L946.04,755.60 L950.23,739.77 L954.41,725.46 L958.59,712.59 L962.78,701.09" fill="none" stroke="#0000cc" stroke-width="3.2" stroke-linejoin="round"/>
<path d="M904.20,980.50L914.40,990.70L904.20,1000.90L894.00,990.70Z" fill="none" stroke="#0000cc" stroke-width="1.6"/>
<path d="M908.38,952.83L918.58,963.03L908.38,973.23L898.18,963.03Z" fill="none" stroke="#0000cc" stroke-width="1.6"/>
<path d="M912.57,925.46L922.77,935.66L912.57,945.86L902.37,935.66Z" fill="none" stroke="#0000cc" stroke-width="1.6"/>
<path d="M916.75,898.69L926.95,908.89L916.75,919.09L906.55,908.89Z" fill="none" stroke="#0000cc" stroke-width="1.6"/>
<path d="M920.94,872.79L931.14,882.99L920.94,893.19L910.74,882.99Z" fill="none" stroke="#0000cc" stroke-width="1.6"/>
<path d="M925.12,847.98L935.32,858.18L925.12,868.38L914.92,858.18Z" fill="none" stroke="#0000cc" stroke-width="1.6"/>
<path d="M929.31,824.45L939.51,834.65L929.31,844.85L919.11,834.65Z" fill="none" stroke="#0000cc" stroke-width="1.6"/>
<path d="M933.49,802.36L943.69,812.56L933.49,822.76L923.29,812.56Z" fill="none" stroke="#0000cc" stroke-width="1.6"/>
<path d="M937.67,781.79L947.87,791.99L937.67,802.19L927.47,791.99Z" fill="none" stroke="#0000cc" stroke-width="1.6"/>
<path d="M941.86,762.80L952.06,773.00L941.86,783.20L931.66,773.00Z" fill="none" stroke="#0000cc" stroke-width="1.6"/>
<path d="M946.04,745.40L956.24,755.60L946.04,765.80L935.84,755.60Z" fill="none" stroke="#0000cc" stroke-width="1.6"/>
<path d="M950.23,729.57L960.43,739.77L950.23,749.97L940.03,739.77Z" fill="none" stroke="#0000cc" stroke-width="1.6"/>
<path d="M954.41,715.26L964.61,725.46L954.41,735.66L944.21,725.46Z" fill="none" stroke="#0000cc" stroke-width="1.6"/>
<path d="M958.59,702.39L968.79,712.59L958.59,722.79L948.39,712.59Z" fill="none" stroke="#0000cc" stroke-width="1.6"/>
<path d="M962.78,690.89L972.98,701.09L962.78,711.29L952.58,701.09Z" fill="none" stroke="#0000cc" stroke-width="1.6"/>
<path d="M904.20,990.70 L912.70,938.39 L921.20,888.11 L929.70,841.60 L938.20,800.08 L946.70,764.15 L955.20,733.91 L963.69,709.04 L972.19,688.98 L980.69,673.04 L989.19,660.52 L997.69,650.79 L1006.19,643.29 L1014.69,637.53 L1023.19,633.14" fill="none" stroke="#008000" stroke-width="3.2" stroke-linejoin="round"/>
<path d="M904.20,981.00L914.20,998.40L894.20,998.40Z" fill="#fff" stroke="#008000" stroke-width="1.5"/>
<path d="M912.70,928.69L922.70,946.09L902.70,946.09Z" fill="#fff" stroke="#008000" stroke-width="1.5"/>
<path d="M921.20,878.41L931.20,895.81L911.20,895.81Z" fill="#fff" stroke="#008000" stroke-width="1.5"/>
<path d="M929.70,831.90L939.70,849.30L919.70,849.30Z" fill="#fff" stroke="#008000" stroke-width="1.5"/>
<path d="M938.20,790.38L948.20,807.78L928.20,807.78Z" fill="#fff" stroke="#008000" stroke-width="1.5"/>
<path d="M946.70,754.45L956.70,771.85L936.70,771.85Z" fill="#fff" stroke="#008000" stroke-width="1.5"/>
<path d="M955.20,724.21L965.20,741.61L945.20,741.61Z" fill="#fff" stroke="#008000" stroke-width="1.5"/>
<path d="M963.69,699.34L973.69,716.74L953.69,716.74Z" fill="#fff" stroke="#008000" stroke-width="1.5"/>
<path d="M972.19,679.28L982.19,696.68L962.19,696.68Z" fill="#fff" stroke="#008000" stroke-width="1.5"/>
<path d="M980.69,663.34L990.69,680.74L970.69,680.74Z" fill="#fff" stroke="#008000" stroke-width="1.5"/>
<path d="M989.19,650.82L999.19,668.22L979.19,668.22Z" fill="#fff" stroke="#008000" stroke-width="1.5"/>
<path d="M997.69,641.09L1007.69,658.49L987.69,658.49Z" fill="#fff" stroke="#008000" stroke-width="1.5"/>
<path d="M1006.19,633.59L1016.19,650.99L996.19,650.99Z" fill="#fff" stroke="#008000" stroke-width="1.5"/>
<path d="M1014.69,627.83L1024.69,645.23L1004.69,645.23Z" fill="#fff" stroke="#008000" stroke-width="1.5"/>
<path d="M1023.19,623.44L1033.19,640.84L1013.19,640.84Z" fill="#fff" stroke="#008000" stroke-width="1.5"/>
<path d="M904.20,990.70 L921.22,906.81 L938.25,831.07 L955.27,768.74 L972.30,721.25 L989.32,687.13 L1006.35,663.65 L1023.37,647.97 L1040.40,637.70 L1057.42,631.06 L1074.45,626.81 L1091.47,624.09 L1108.49,622.37 L1125.52,621.28 L1142.54,620.59" fill="none" stroke="#f00" stroke-width="3.8" stroke-linejoin="round" stroke-linecap="round"/>
<rect x="894.30" y="980.80" width="19.80" height="19.80" fill="#fff" stroke="#f00" stroke-width="1.6"/>
<rect x="911.32" y="886.12" width="19.80" height="19.80" fill="#fff" stroke="#f00" stroke-width="1.6"/>
<rect x="928.35" y="799.98" width="19.80" height="19.80" fill="#fff" stroke="#f00" stroke-width="1.6"/>
<rect x="945.37" y="738.34" width="19.80" height="19.80" fill="#fff" stroke="#f00" stroke-width="1.6"/>
<rect x="962.40" y="697.50" width="19.80" height="19.80" fill="#fff" stroke="#f00" stroke-width="1.6"/>
<rect x="979.42" y="674.48" width="19.80" height="19.80" fill="#fff" stroke="#f00" stroke-width="1.6"/>
<rect x="996.45" y="654.43" width="19.80" height="19.80" fill="#fff" stroke="#f00" stroke-width="1.6"/>
<rect x="1013.47" y="642.17" width="19.80" height="19.80" fill="#fff" stroke="#f00" stroke-width="1.6"/>
<rect x="1030.50" y="635.86" width="19.80" height="19.80" fill="#fff" stroke="#f00" stroke-width="1.6"/>
<rect x="1047.52" y="627.69" width="19.80" height="19.80" fill="#fff" stroke="#f00" stroke-width="1.6"/>
<rect x="1064.55" y="623.24" width="19.80" height="19.80" fill="#fff" stroke="#f00" stroke-width="1.6"/>
<rect x="1081.57" y="620.27" width="19.80" height="19.80" fill="#fff" stroke="#f00" stroke-width="1.6"/>
<rect x="1098.59" y="617.30" width="19.80" height="19.80" fill="#fff" stroke="#f00" stroke-width="1.6"/>
<rect x="1115.62" y="613.21" width="19.80" height="19.80" fill="#fff" stroke="#f00" stroke-width="1.6"/>
<rect x="1132.64" y="615.44" width="19.80" height="19.80" fill="#fff" stroke="#f00" stroke-width="1.6"/>
<path d="M904.20,990.70 L943.59,836.61 L982.98,737.84 L1022.37,681.04 L1061.75,654.49 L1101.14,644.28 L1140.53,636.48 L1179.92,634.25 L1219.31,632.40 L1258.70,631.28 L1298.08,630.32 L1337.47,629.91 L1376.86,631.28 L1416.25,632.77 L1455.64,634.25" fill="none" stroke="#000" stroke-width="4.4" stroke-linejoin="round" stroke-linecap="round"/>
<circle cx="904.20" cy="990.70" r="9.9" fill="#fff" stroke="#000" stroke-width="1.7"/>
<circle cx="943.59" cy="836.61" r="9.9" fill="#fff" stroke="#000" stroke-width="1.7"/>
<circle cx="982.98" cy="737.84" r="9.9" fill="#fff" stroke="#000" stroke-width="1.7"/>
<circle cx="1022.37" cy="692.17" r="9.9" fill="#fff" stroke="#000" stroke-width="1.7"/>
<circle cx="1061.75" cy="666.56" r="9.9" fill="#fff" stroke="#000" stroke-width="1.7"/>
<circle cx="1101.14" cy="653.19" r="9.9" fill="#fff" stroke="#000" stroke-width="1.7"/>
<circle cx="1140.53" cy="646.50" r="9.9" fill="#fff" stroke="#000" stroke-width="1.7"/>
<circle cx="1179.92" cy="641.68" r="9.9" fill="#fff" stroke="#000" stroke-width="1.7"/>
<circle cx="1219.31" cy="636.85" r="9.9" fill="#fff" stroke="#000" stroke-width="1.7"/>
<circle cx="1258.70" cy="632.40" r="9.9" fill="#fff" stroke="#000" stroke-width="1.7"/>
<circle cx="1298.08" cy="629.43" r="9.9" fill="#fff" stroke="#000" stroke-width="1.7"/>
<circle cx="1337.47" cy="626.83" r="9.9" fill="#fff" stroke="#000" stroke-width="1.7"/>
<circle cx="1376.86" cy="625.71" r="9.9" fill="#fff" stroke="#000" stroke-width="1.7"/>
<circle cx="1416.25" cy="621.26" r="9.9" fill="#fff" stroke="#000" stroke-width="1.7"/>
<circle cx="1455.64" cy="619.40" r="9.9" fill="#fff" stroke="#000" stroke-width="1.7"/>
<rect x="123.1" y="1250.9" width="611.9" height="408.6999999999998" fill="none" stroke="#000" stroke-width="4.0"/>
<line x1="111.6" y1="1659.60" x2="123.1" y2="1659.60" stroke="#000" stroke-width="3.6"/>
<line x1="111.6" y1="1473.85" x2="123.1" y2="1473.85" stroke="#000" stroke-width="3.6"/>
<line x1="111.6" y1="1288.10" x2="123.1" y2="1288.10" stroke="#000" stroke-width="3.6"/>
<line x1="122.90" y1="1659.6" x2="122.90" y2="1671.1" stroke="#000" stroke-width="3.6"/>
<line x1="275.95" y1="1659.6" x2="275.95" y2="1671.1" stroke="#000" stroke-width="3.6"/>
<line x1="429.00" y1="1659.6" x2="429.00" y2="1671.1" stroke="#000" stroke-width="3.6"/>
<line x1="582.05" y1="1659.6" x2="582.05" y2="1671.1" stroke="#000" stroke-width="3.6"/>
<line x1="735.10" y1="1659.6" x2="735.10" y2="1671.1" stroke="#000" stroke-width="3.6"/>
<text transform="translate(66.52,1670.88) scale(0.9400,1)" font-family="'Liberation Sans', Arial, sans-serif" font-weight="bold" font-size="31.66">0.0</text>
<text transform="translate(66.15,1485.13) scale(0.9400,1)" font-family="'Liberation Sans', Arial, sans-serif" font-weight="bold" font-size="31.66">0.5</text>
<text transform="translate(66.52,1299.38) scale(0.9400,1)" font-family="'Liberation Sans', Arial, sans-serif" font-weight="bold" font-size="31.66">1.0</text>
<text transform="translate(102.20,1702.30) scale(0.9400,1)" font-family="'Liberation Sans', Arial, sans-serif" font-weight="bold" font-size="31.68">0.0</text>
<text transform="translate(255.06,1702.30) scale(0.9400,1)" font-family="'Liberation Sans', Arial, sans-serif" font-weight="bold" font-size="31.68">0.5</text>
<text transform="translate(407.97,1702.30) scale(0.9400,1)" font-family="'Liberation Sans', Arial, sans-serif" font-weight="bold" font-size="31.68">1.0</text>
<text transform="translate(560.83,1702.30) scale(0.9400,1)" font-family="'Liberation Sans', Arial, sans-serif" font-weight="bold" font-size="31.68">1.5</text>
<text transform="translate(714.47,1702.30) scale(0.9400,1)" font-family="'Liberation Sans', Arial, sans-serif" font-weight="bold" font-size="31.68">2.0</text>
<text transform="translate(578.12,1635.60) scale(0.9135,1)" font-family="'Liberation Sans', Arial, sans-serif" font-weight="bold" font-size="42.33" fill="#000" >491 nm</text>

<text transform="translate(375.31,1747.77) scale(1.0510,1)" font-family="'Liberation Serif', 'Times New Roman', serif" font-size="34.99">β</text>
<text transform="translate(393.68,1747.90) scale(0.9462,1)" font-family="'Liberation Sans', Arial, sans-serif" font-weight="bold" font-size="34.76" fill="#000" >H/2kT</text>
<g transform="translate(43.90,1615.30) rotate(-90)"><text transform="translate(-2.23,0) scale(0.9273,1)" font-family="'Liberation Sans', Arial, sans-serif" font-weight="bold" font-size="35.64">Normalized Intensity</text></g>
<path d="M122.90,1659.60 L124.67,1644.57 L126.44,1629.59 L128.21,1614.70 L129.98,1599.96 L131.76,1585.41 L133.53,1571.09 L135.30,1557.05 L137.07,1543.32 L138.84,1529.93 L140.61,1516.91 L142.38,1504.29 L144.15,1492.09 L145.92,1480.33 L147.69,1469.02" fill="none" stroke="#800080" stroke-width="2.0" stroke-linejoin="round"/>
<path d="M122.90,1649.60L132.90,1659.60L122.90,1669.60L112.90,1659.60Z" fill="none" stroke="#800080" stroke-width="1.4"/>
<path d="M124.67,1634.57L134.67,1644.57L124.67,1654.57L114.67,1644.57Z" fill="none" stroke="#800080" stroke-width="1.4"/>
<path d="M126.44,1619.59L136.44,1629.59L126.44,1639.59L116.44,1629.59Z" fill="none" stroke="#800080" stroke-width="1.4"/>
<path d="M128.21,1604.70L138.21,1614.70L128.21,1624.70L118.21,1614.70Z" fill="none" stroke="#800080" stroke-width="1.4"/>
<path d="M129.98,1589.96L139.98,1599.96L129.98,1609.96L119.98,1599.96Z" fill="none" stroke="#800080" stroke-width="1.4"/>
<path d="M131.76,1575.41L141.76,1585.41L131.76,1595.41L121.76,1585.41Z" fill="none" stroke="#800080" stroke-width="1.4"/>
<path d="M133.53,1561.09L143.53,1571.09L133.53,1581.09L123.53,1571.09Z" fill="none" stroke="#800080" stroke-width="1.4"/>
<path d="M135.30,1547.05L145.30,1557.05L135.30,1567.05L125.30,1557.05Z" fill="none" stroke="#800080" stroke-width="1.4"/>
<path d="M137.07,1533.32L147.07,1543.32L137.07,1553.32L127.07,1543.32Z" fill="none" stroke="#800080" stroke-width="1.4"/>
<path d="M138.84,1519.93L148.84,1529.93L138.84,1539.93L128.84,1529.93Z" fill="none" stroke="#800080" stroke-width="1.4"/>
<path d="M140.61,1506.91L150.61,1516.91L140.61,1526.91L130.61,1516.91Z" fill="none" stroke="#800080" stroke-width="1.4"/>
<path d="M142.38,1494.29L152.38,1504.29L142.38,1514.29L132.38,1504.29Z" fill="none" stroke="#800080" stroke-width="1.4"/>
<path d="M144.15,1482.09L154.15,1492.09L144.15,1502.09L134.15,1492.09Z" fill="none" stroke="#800080" stroke-width="1.4"/>
<path d="M145.92,1470.33L155.92,1480.33L145.92,1490.33L135.92,1480.33Z" fill="none" stroke="#800080" stroke-width="1.4"/>
<path d="M147.69,1459.02L157.69,1469.02L147.69,1479.02L137.69,1469.02Z" fill="none" stroke="#800080" stroke-width="1.4"/>
<path d="M122.90,1659.60 L127.16,1633.64 L131.43,1607.94 L135.69,1582.72 L139.95,1558.23 L144.22,1534.65 L148.48,1512.16 L152.74,1490.88 L157.01,1470.91 L161.27,1452.31 L165.54,1435.10 L169.80,1419.29 L174.06,1404.85 L178.33,1391.72 L182.59,1379.86" fill="none" stroke="#0000cc" stroke-width="3.2" stroke-linejoin="round"/>
<path d="M122.90,1649.40L133.10,1659.60L122.90,1669.80L112.70,1659.60Z" fill="none" stroke="#0000cc" stroke-width="1.6"/>
<path d="M127.16,1623.44L137.36,1633.64L127.16,1643.84L116.96,1633.64Z" fill="none" stroke="#0000cc" stroke-width="1.6"/>
<path d="M131.43,1597.74L141.63,1607.94L131.43,1618.14L121.23,1607.94Z" fill="none" stroke="#0000cc" stroke-width="1.6"/>
<path d="M135.69,1572.52L145.89,1582.72L135.69,1592.92L125.49,1582.72Z" fill="none" stroke="#0000cc" stroke-width="1.6"/>
<path d="M139.95,1548.03L150.15,1558.23L139.95,1568.43L129.75,1558.23Z" fill="none" stroke="#0000cc" stroke-width="1.6"/>
<path d="M144.22,1524.45L154.42,1534.65L144.22,1544.85L134.02,1534.65Z" fill="none" stroke="#0000cc" stroke-width="1.6"/>
<path d="M148.48,1501.96L158.68,1512.16L148.48,1522.36L138.28,1512.16Z" fill="none" stroke="#0000cc" stroke-width="1.6"/>
<path d="M152.74,1480.68L162.94,1490.88L152.74,1501.08L142.54,1490.88Z" fill="none" stroke="#0000cc" stroke-width="1.6"/>
<path d="M157.01,1460.71L167.21,1470.91L157.01,1481.11L146.81,1470.91Z" fill="none" stroke="#0000cc" stroke-width="1.6"/>
<path d="M161.27,1442.11L171.47,1452.31L161.27,1462.51L151.07,1452.31Z" fill="none" stroke="#0000cc" stroke-width="1.6"/>
<path d="M165.54,1424.90L175.74,1435.10L165.54,1445.30L155.34,1435.10Z" fill="none" stroke="#0000cc" stroke-width="1.6"/>
<path d="M169.80,1409.09L180.00,1419.29L169.80,1429.49L159.60,1419.29Z" fill="none" stroke="#0000cc" stroke-width="1.6"/>
<path d="M174.06,1394.65L184.26,1404.85L174.06,1415.05L163.86,1404.85Z" fill="none" stroke="#0000cc" stroke-width="1.6"/>
<path d="M178.33,1381.52L188.53,1391.72L178.33,1401.92L168.13,1391.72Z" fill="none" stroke="#0000cc" stroke-width="1.6"/>
<path d="M182.59,1369.66L192.79,1379.86L182.59,1390.06L172.39,1379.86Z" fill="none" stroke="#0000cc" stroke-width="1.6"/>
<path d="M122.90,1659.60 L131.43,1615.20 L139.95,1572.06 L148.48,1531.28 L157.01,1493.73 L165.54,1459.99 L174.06,1430.31 L182.59,1404.72 L191.12,1383.00 L199.64,1364.83 L208.17,1349.81 L216.70,1337.51 L225.22,1327.52 L233.75,1319.46 L242.28,1312.99" fill="none" stroke="#008000" stroke-width="3.2" stroke-linejoin="round"/>
<path d="M122.90,1649.90L132.90,1667.30L112.90,1667.30Z" fill="#fff" stroke="#008000" stroke-width="1.5"/>
<path d="M131.43,1605.50L141.43,1622.90L121.43,1622.90Z" fill="#fff" stroke="#008000" stroke-width="1.5"/>
<path d="M139.95,1562.36L149.95,1579.76L129.95,1579.76Z" fill="#fff" stroke="#008000" stroke-width="1.5"/>
<path d="M148.48,1521.58L158.48,1538.98L138.48,1538.98Z" fill="#fff" stroke="#008000" stroke-width="1.5"/>
<path d="M157.01,1484.03L167.01,1501.43L147.01,1501.43Z" fill="#fff" stroke="#008000" stroke-width="1.5"/>
<path d="M165.54,1450.29L175.54,1467.69L155.54,1467.69Z" fill="#fff" stroke="#008000" stroke-width="1.5"/>
<path d="M174.06,1420.61L184.06,1438.01L164.06,1438.01Z" fill="#fff" stroke="#008000" stroke-width="1.5"/>
<path d="M182.59,1395.02L192.59,1412.42L172.59,1412.42Z" fill="#fff" stroke="#008000" stroke-width="1.5"/>
<path d="M191.12,1373.30L201.12,1390.70L181.12,1390.70Z" fill="#fff" stroke="#008000" stroke-width="1.5"/>
<path d="M199.64,1355.13L209.64,1372.53L189.64,1372.53Z" fill="#fff" stroke="#008000" stroke-width="1.5"/>
<path d="M208.17,1340.11L218.17,1357.51L198.17,1357.51Z" fill="#fff" stroke="#008000" stroke-width="1.5"/>
<path d="M216.70,1327.81L226.70,1345.21L206.70,1345.21Z" fill="#fff" stroke="#008000" stroke-width="1.5"/>
<path d="M225.22,1317.82L235.22,1335.22L215.22,1335.22Z" fill="#fff" stroke="#008000" stroke-width="1.5"/>
<path d="M233.75,1309.76L243.75,1327.16L223.75,1327.16Z" fill="#fff" stroke="#008000" stroke-width="1.5"/>
<path d="M242.28,1303.29L252.28,1320.69L232.28,1320.69Z" fill="#fff" stroke="#008000" stroke-width="1.5"/>
<path d="M122.90,1659.60 L139.98,1582.79 L157.06,1512.73 L174.14,1453.97 L191.22,1408.07 L208.30,1374.17 L225.38,1350.15 L242.46,1333.63 L259.54,1322.49 L276.62,1315.09 L293.70,1310.22 L310.78,1307.03 L327.86,1304.95 L344.94,1303.60 L362.03,1302.72" fill="none" stroke="#f00" stroke-width="3.8" stroke-linejoin="round" stroke-linecap="round"/>
<rect x="113.00" y="1649.70" width="19.80" height="19.80" fill="#fff" stroke="#f00" stroke-width="1.6"/>
<rect x="130.08" y="1556.82" width="19.80" height="19.80" fill="#fff" stroke="#f00" stroke-width="1.6"/>
<rect x="147.16" y="1468.04" width="19.80" height="19.80" fill="#fff" stroke="#f00" stroke-width="1.6"/>
<rect x="164.24" y="1411.57" width="19.80" height="19.80" fill="#fff" stroke="#f00" stroke-width="1.6"/>
<rect x="181.32" y="1375.90" width="19.80" height="19.80" fill="#fff" stroke="#f00" stroke-width="1.6"/>
<rect x="198.40" y="1349.90" width="19.80" height="19.80" fill="#fff" stroke="#f00" stroke-width="1.6"/>
<rect x="215.48" y="1332.07" width="19.80" height="19.80" fill="#fff" stroke="#f00" stroke-width="1.6"/>
<rect x="232.56" y="1319.44" width="19.80" height="19.80" fill="#fff" stroke="#f00" stroke-width="1.6"/>
<rect x="249.64" y="1312.75" width="19.80" height="19.80" fill="#fff" stroke="#f00" stroke-width="1.6"/>
<rect x="266.72" y="1306.06" width="19.80" height="19.80" fill="#fff" stroke="#f00" stroke-width="1.6"/>
<rect x="283.80" y="1301.23" width="19.80" height="19.80" fill="#fff" stroke="#f00" stroke-width="1.6"/>
<rect x="300.88" y="1296.03" width="19.80" height="19.80" fill="#fff" stroke="#f00" stroke-width="1.6"/>
<rect x="317.96" y="1293.06" width="19.80" height="19.80" fill="#fff" stroke="#f00" stroke-width="1.6"/>
<rect x="335.04" y="1291.20" width="19.80" height="19.80" fill="#fff" stroke="#f00" stroke-width="1.6"/>
<rect x="352.13" y="1293.06" width="19.80" height="19.80" fill="#fff" stroke="#f00" stroke-width="1.6"/>
<path d="M122.90,1659.60 L162.42,1500.23 L201.94,1412.92 L241.45,1358.68 L280.97,1332.68 L320.49,1322.28 L360.01,1315.59 L399.52,1312.99 L439.04,1310.76 L478.56,1308.42 L518.08,1306.49 L557.59,1305.41 L597.11,1305.93 L636.63,1307.42 L676.15,1309.09" fill="none" stroke="#000" stroke-width="4.4" stroke-linejoin="round" stroke-linecap="round"/>
<circle cx="122.90" cy="1659.60" r="9.9" fill="#fff" stroke="#000" stroke-width="1.7"/>
<circle cx="162.42" cy="1500.23" r="9.9" fill="#fff" stroke="#000" stroke-width="1.7"/>
<circle cx="201.94" cy="1415.90" r="9.9" fill="#fff" stroke="#000" stroke-width="1.7"/>
<circle cx="241.45" cy="1368.72" r="9.9" fill="#fff" stroke="#000" stroke-width="1.7"/>
<circle cx="280.97" cy="1344.20" r="9.9" fill="#fff" stroke="#000" stroke-width="1.7"/>
<circle cx="320.49" cy="1338.25" r="9.9" fill="#fff" stroke="#000" stroke-width="1.7"/>
<circle cx="360.01" cy="1324.88" r="9.9" fill="#fff" stroke="#000" stroke-width="1.7"/>
<circle cx="399.52" cy="1316.71" r="9.9" fill="#fff" stroke="#000" stroke-width="1.7"/>
<circle cx="439.04" cy="1313.73" r="9.9" fill="#fff" stroke="#000" stroke-width="1.7"/>
<circle cx="478.56" cy="1309.28" r="9.9" fill="#fff" stroke="#000" stroke-width="1.7"/>
<circle cx="518.08" cy="1307.05" r="9.9" fill="#fff" stroke="#000" stroke-width="1.7"/>
<circle cx="557.59" cy="1303.33" r="9.9" fill="#fff" stroke="#000" stroke-width="1.7"/>
<circle cx="597.11" cy="1298.87" r="9.9" fill="#fff" stroke="#000" stroke-width="1.7"/>
<circle cx="636.63" cy="1293.30" r="9.9" fill="#fff" stroke="#000" stroke-width="1.7"/>
<circle cx="676.15" cy="1288.10" r="9.9" fill="#fff" stroke="#000" stroke-width="1.7"/>
<rect x="889.6" y="1242.2" width="618.8000000000001" height="413.20000000000005" fill="none" stroke="#000" stroke-width="4.0"/>
<line x1="878.1" y1="1655.30" x2="889.6" y2="1655.30" stroke="#000" stroke-width="3.6"/>
<line x1="878.1" y1="1467.40" x2="889.6" y2="1467.40" stroke="#000" stroke-width="3.6"/>
<line x1="878.1" y1="1279.50" x2="889.6" y2="1279.50" stroke="#000" stroke-width="3.6"/>
<line x1="889.40" y1="1655.4" x2="889.40" y2="1666.9" stroke="#000" stroke-width="3.6"/>
<line x1="1044.15" y1="1655.4" x2="1044.15" y2="1666.9" stroke="#000" stroke-width="3.6"/>
<line x1="1198.90" y1="1655.4" x2="1198.90" y2="1666.9" stroke="#000" stroke-width="3.6"/>
<line x1="1353.65" y1="1655.4" x2="1353.65" y2="1666.9" stroke="#000" stroke-width="3.6"/>
<line x1="1508.40" y1="1655.4" x2="1508.40" y2="1666.9" stroke="#000" stroke-width="3.6"/>
<text transform="translate(833.42,1666.58) scale(0.9400,1)" font-family="'Liberation Sans', Arial, sans-serif" font-weight="bold" font-size="31.66">0.0</text>
<text transform="translate(833.05,1478.68) scale(0.9400,1)" font-family="'Liberation Sans', Arial, sans-serif" font-weight="bold" font-size="31.66">0.5</text>
<text transform="translate(833.42,1290.78) scale(0.9400,1)" font-family="'Liberation Sans', Arial, sans-serif" font-weight="bold" font-size="31.66">1.0</text>
<text transform="translate(868.70,1698.70) scale(0.9400,1)" font-family="'Liberation Sans', Arial, sans-serif" font-weight="bold" font-size="31.68">0.0</text>
<text transform="translate(1023.26,1698.70) scale(0.9400,1)" font-family="'Liberation Sans', Arial, sans-serif" font-weight="bold" font-size="31.68">0.5</text>
<text transform="translate(1177.87,1698.70) scale(0.9400,1)" font-family="'Liberation Sans', Arial, sans-serif" font-weight="bold" font-size="31.68">1.0</text>
<text transform="translate(1332.43,1698.70) scale(0.9400,1)" font-family="'Liberation Sans', Arial, sans-serif" font-weight="bold" font-size="31.68">1.5</text>
<text transform="translate(1487.77,1698.70) scale(0.9400,1)" font-family="'Liberation Sans', Arial, sans-serif" font-weight="bold" font-size="31.68">2.0</text>
<text transform="translate(1349.63,1627.50) scale(0.9141,1)" font-family="'Liberation Sans', Arial, sans-serif" font-weight="bold" font-size="42.91" fill="#000" >503 nm</text>

<text transform="translate(1144.81,1749.06) scale(1.0101,1)" font-family="'Liberation Serif', 'Times New Roman', serif" font-size="36.40">β</text>
<text transform="translate(1163.17,1749.00) scale(0.9283,1)" font-family="'Liberation Sans', Arial, sans-serif" font-weight="bold" font-size="35.64" fill="#000" >H/2kT</text>
<g transform="translate(809.80,1610.20) rotate(-90)"><text transform="translate(-2.26,0) scale(0.9392,1)" font-family="'Liberation Sans', Arial, sans-serif" font-weight="bold" font-size="35.64">Normalized Intensity</text></g>
<path d="M889.40,1655.30 L889.84,1646.99 L890.28,1638.69 L890.73,1630.41 L891.17,1622.15 L891.61,1613.93 L892.05,1605.74 L892.50,1597.60 L892.94,1589.52 L893.38,1581.50 L893.82,1573.54 L894.26,1565.67 L894.71,1557.87 L895.15,1550.17 L895.59,1542.56" fill="none" stroke="#c8c8c8" stroke-width="1.5" stroke-linejoin="round"/>
<path d="M889.40,1649.30L895.40,1655.30L889.40,1661.30L883.40,1655.30Z" fill="none" stroke="#c8c8c8" stroke-width="1.0"/>
<path d="M889.84,1640.99L895.84,1646.99L889.84,1652.99L883.84,1646.99Z" fill="none" stroke="#c8c8c8" stroke-width="1.0"/>
<path d="M890.28,1632.69L896.28,1638.69L890.28,1644.69L884.28,1638.69Z" fill="none" stroke="#c8c8c8" stroke-width="1.0"/>
<path d="M890.73,1624.41L896.73,1630.41L890.73,1636.41L884.73,1630.41Z" fill="none" stroke="#c8c8c8" stroke-width="1.0"/>
<path d="M891.17,1616.15L897.17,1622.15L891.17,1628.15L885.17,1622.15Z" fill="none" stroke="#c8c8c8" stroke-width="1.0"/>
<path d="M891.61,1607.93L897.61,1613.93L891.61,1619.93L885.61,1613.93Z" fill="none" stroke="#c8c8c8" stroke-width="1.0"/>
<path d="M892.05,1599.74L898.05,1605.74L892.05,1611.74L886.05,1605.74Z" fill="none" stroke="#c8c8c8" stroke-width="1.0"/>
<path d="M892.50,1591.60L898.50,1597.60L892.50,1603.60L886.50,1597.60Z" fill="none" stroke="#c8c8c8" stroke-width="1.0"/>
<path d="M892.94,1583.52L898.94,1589.52L892.94,1595.52L886.94,1589.52Z" fill="none" stroke="#c8c8c8" stroke-width="1.0"/>
<path d="M893.38,1575.50L899.38,1581.50L893.38,1587.50L887.38,1581.50Z" fill="none" stroke="#c8c8c8" stroke-width="1.0"/>
<path d="M893.82,1567.54L899.82,1573.54L893.82,1579.54L887.82,1573.54Z" fill="none" stroke="#c8c8c8" stroke-width="1.0"/>
<path d="M894.26,1559.67L900.26,1565.67L894.26,1571.67L888.26,1565.67Z" fill="none" stroke="#c8c8c8" stroke-width="1.0"/>
<path d="M894.71,1551.87L900.71,1557.87L894.71,1563.87L888.71,1557.87Z" fill="none" stroke="#c8c8c8" stroke-width="1.0"/>
<path d="M895.15,1544.17L901.15,1550.17L895.15,1556.17L889.15,1550.17Z" fill="none" stroke="#c8c8c8" stroke-width="1.0"/>
<path d="M895.59,1536.56L901.59,1542.56L895.59,1548.56L889.59,1542.56Z" fill="none" stroke="#c8c8c8" stroke-width="1.0"/>
<path d="M889.40,1655.30 L891.06,1640.78 L892.72,1626.30 L894.37,1611.90 L896.03,1597.63 L897.69,1583.54 L899.35,1569.64 L901.01,1556.00 L902.66,1542.62 L904.32,1529.56 L905.98,1516.82 L907.64,1504.45 L909.30,1492.45 L910.95,1480.85 L912.61,1469.65" fill="none" stroke="#400070" stroke-width="2.0" stroke-linejoin="round"/>
<path d="M889.40,1645.30L899.40,1655.30L889.40,1665.30L879.40,1655.30Z" fill="none" stroke="#400070" stroke-width="1.4"/>
<path d="M891.06,1630.78L901.06,1640.78L891.06,1650.78L881.06,1640.78Z" fill="none" stroke="#400070" stroke-width="1.4"/>
<path d="M892.72,1616.30L902.72,1626.30L892.72,1636.30L882.72,1626.30Z" fill="none" stroke="#400070" stroke-width="1.4"/>
<path d="M894.37,1601.90L904.37,1611.90L894.37,1621.90L884.37,1611.90Z" fill="none" stroke="#400070" stroke-width="1.4"/>
<path d="M896.03,1587.63L906.03,1597.63L896.03,1607.63L886.03,1597.63Z" fill="none" stroke="#400070" stroke-width="1.4"/>
<path d="M897.69,1573.54L907.69,1583.54L897.69,1593.54L887.69,1583.54Z" fill="none" stroke="#400070" stroke-width="1.4"/>
<path d="M899.35,1559.64L909.35,1569.64L899.35,1579.64L889.35,1569.64Z" fill="none" stroke="#400070" stroke-width="1.4"/>
<path d="M901.01,1546.00L911.01,1556.00L901.01,1566.00L891.01,1556.00Z" fill="none" stroke="#400070" stroke-width="1.4"/>
<path d="M902.66,1532.62L912.66,1542.62L902.66,1552.62L892.66,1542.62Z" fill="none" stroke="#400070" stroke-width="1.4"/>
<path d="M904.32,1519.56L914.32,1529.56L904.32,1539.56L894.32,1529.56Z" fill="none" stroke="#400070" stroke-width="1.4"/>
<path d="M905.98,1506.82L915.98,1516.82L905.98,1526.82L895.98,1516.82Z" fill="none" stroke="#400070" stroke-width="1.4"/>
<path d="M907.64,1494.45L917.64,1504.45L907.64,1514.45L897.64,1504.45Z" fill="none" stroke="#400070" stroke-width="1.4"/>
<path d="M909.30,1482.45L919.30,1492.45L909.30,1502.45L899.30,1492.45Z" fill="none" stroke="#400070" stroke-width="1.4"/>
<path d="M910.95,1470.85L920.95,1480.85L910.95,1490.85L900.95,1480.85Z" fill="none" stroke="#400070" stroke-width="1.4"/>
<path d="M912.61,1459.65L922.61,1469.65L912.61,1479.65L902.61,1469.65Z" fill="none" stroke="#400070" stroke-width="1.4"/>
<path d="M889.40,1655.30 L893.73,1627.29 L898.07,1599.59 L902.40,1572.50 L906.73,1546.28 L911.06,1521.17 L915.40,1497.36 L919.73,1475.00 L924.06,1454.19 L928.40,1434.96 L932.73,1417.35 L937.06,1401.33 L941.40,1386.84 L945.73,1373.82 L950.06,1362.18" fill="none" stroke="#0000cc" stroke-width="3.2" stroke-linejoin="round"/>
<path d="M889.40,1645.10L899.60,1655.30L889.40,1665.50L879.20,1655.30Z" fill="none" stroke="#0000cc" stroke-width="1.6"/>
<path d="M893.73,1617.09L903.93,1627.29L893.73,1637.49L883.53,1627.29Z" fill="none" stroke="#0000cc" stroke-width="1.6"/>
<path d="M898.07,1589.39L908.27,1599.59L898.07,1609.79L887.87,1599.59Z" fill="none" stroke="#0000cc" stroke-width="1.6"/>
<path d="M902.40,1562.30L912.60,1572.50L902.40,1582.70L892.20,1572.50Z" fill="none" stroke="#0000cc" stroke-width="1.6"/>
<path d="M906.73,1536.08L916.93,1546.28L906.73,1556.48L896.53,1546.28Z" fill="none" stroke="#0000cc" stroke-width="1.6"/>
<path d="M911.06,1510.97L921.26,1521.17L911.06,1531.37L900.86,1521.17Z" fill="none" stroke="#0000cc" stroke-width="1.6"/>
<path d="M915.40,1487.16L925.60,1497.36L915.40,1507.56L905.20,1497.36Z" fill="none" stroke="#0000cc" stroke-width="1.6"/>
<path d="M919.73,1464.80L929.93,1475.00L919.73,1485.20L909.53,1475.00Z" fill="none" stroke="#0000cc" stroke-width="1.6"/>
<path d="M924.06,1443.99L934.26,1454.19L924.06,1464.39L913.86,1454.19Z" fill="none" stroke="#0000cc" stroke-width="1.6"/>
<path d="M928.40,1424.76L938.60,1434.96L928.40,1445.16L918.20,1434.96Z" fill="none" stroke="#0000cc" stroke-width="1.6"/>
<path d="M932.73,1407.15L942.93,1417.35L932.73,1427.55L922.53,1417.35Z" fill="none" stroke="#0000cc" stroke-width="1.6"/>
<path d="M937.06,1391.13L947.26,1401.33L937.06,1411.53L926.86,1401.33Z" fill="none" stroke="#0000cc" stroke-width="1.6"/>
<path d="M941.40,1376.64L951.60,1386.84L941.40,1397.04L931.20,1386.84Z" fill="none" stroke="#0000cc" stroke-width="1.6"/>
<path d="M945.73,1363.62L955.93,1373.82L945.73,1384.02L935.53,1373.82Z" fill="none" stroke="#0000cc" stroke-width="1.6"/>
<path d="M950.06,1351.98L960.26,1362.18L950.06,1372.38L939.86,1362.18Z" fill="none" stroke="#0000cc" stroke-width="1.6"/>
<path d="M889.40,1655.30 L898.02,1602.71 L906.64,1552.14 L915.27,1505.32 L923.89,1463.44 L932.51,1427.15 L941.13,1396.55 L949.75,1371.32 L958.37,1350.92 L967.00,1334.67 L975.62,1321.89 L984.24,1311.93 L992.86,1304.23 L1001.48,1298.31 L1010.11,1293.78" fill="none" stroke="#008000" stroke-width="3.2" stroke-linejoin="round"/>
<path d="M889.40,1645.60L899.40,1663.00L879.40,1663.00Z" fill="#fff" stroke="#008000" stroke-width="1.5"/>
<path d="M898.02,1593.01L908.02,1610.41L888.02,1610.41Z" fill="#fff" stroke="#008000" stroke-width="1.5"/>
<path d="M906.64,1542.44L916.64,1559.84L896.64,1559.84Z" fill="#fff" stroke="#008000" stroke-width="1.5"/>
<path d="M915.27,1495.62L925.27,1513.02L905.27,1513.02Z" fill="#fff" stroke="#008000" stroke-width="1.5"/>
<path d="M923.89,1453.74L933.89,1471.14L913.89,1471.14Z" fill="#fff" stroke="#008000" stroke-width="1.5"/>
<path d="M932.51,1417.45L942.51,1434.85L922.51,1434.85Z" fill="#fff" stroke="#008000" stroke-width="1.5"/>
<path d="M941.13,1386.85L951.13,1404.25L931.13,1404.25Z" fill="#fff" stroke="#008000" stroke-width="1.5"/>
<path d="M949.75,1361.62L959.75,1379.02L939.75,1379.02Z" fill="#fff" stroke="#008000" stroke-width="1.5"/>
<path d="M958.37,1341.22L968.37,1358.62L948.37,1358.62Z" fill="#fff" stroke="#008000" stroke-width="1.5"/>
<path d="M967.00,1324.97L977.00,1342.37L957.00,1342.37Z" fill="#fff" stroke="#008000" stroke-width="1.5"/>
<path d="M975.62,1312.19L985.62,1329.59L965.62,1329.59Z" fill="#fff" stroke="#008000" stroke-width="1.5"/>
<path d="M984.24,1302.23L994.24,1319.63L974.24,1319.63Z" fill="#fff" stroke="#008000" stroke-width="1.5"/>
<path d="M992.86,1294.53L1002.86,1311.93L982.86,1311.93Z" fill="#fff" stroke="#008000" stroke-width="1.5"/>
<path d="M1001.48,1288.61L1011.48,1306.01L991.48,1306.01Z" fill="#fff" stroke="#008000" stroke-width="1.5"/>
<path d="M1010.11,1284.08L1020.11,1301.48L1000.11,1301.48Z" fill="#fff" stroke="#008000" stroke-width="1.5"/>
<path d="M889.40,1655.30 L906.67,1571.79 L923.94,1496.14 L941.21,1433.50 L958.48,1385.39 L975.75,1350.53 L993.02,1326.31 L1010.29,1309.98 L1027.56,1299.18 L1044.83,1292.15 L1062.10,1287.60 L1079.37,1284.67 L1096.64,1282.80 L1113.91,1281.60 L1131.18,1280.84" fill="none" stroke="#f00" stroke-width="3.8" stroke-linejoin="round" stroke-linecap="round"/>
<rect x="879.50" y="1645.40" width="19.80" height="19.80" fill="#fff" stroke="#f00" stroke-width="1.6"/>
<rect x="896.77" y="1549.57" width="19.80" height="19.80" fill="#fff" stroke="#f00" stroke-width="1.6"/>
<rect x="914.04" y="1463.14" width="19.80" height="19.80" fill="#fff" stroke="#f00" stroke-width="1.6"/>
<rect x="931.31" y="1400.38" width="19.80" height="19.80" fill="#fff" stroke="#f00" stroke-width="1.6"/>
<rect x="948.58" y="1359.42" width="19.80" height="19.80" fill="#fff" stroke="#f00" stroke-width="1.6"/>
<rect x="965.85" y="1335.74" width="19.80" height="19.80" fill="#fff" stroke="#f00" stroke-width="1.6"/>
<rect x="983.12" y="1315.07" width="19.80" height="19.80" fill="#fff" stroke="#f00" stroke-width="1.6"/>
<rect x="1000.39" y="1303.05" width="19.80" height="19.80" fill="#fff" stroke="#f00" stroke-width="1.6"/>
<rect x="1017.66" y="1297.03" width="19.80" height="19.80" fill="#fff" stroke="#f00" stroke-width="1.6"/>
<rect x="1034.93" y="1288.77" width="19.80" height="19.80" fill="#fff" stroke="#f00" stroke-width="1.6"/>
<rect x="1052.20" y="1283.88" width="19.80" height="19.80" fill="#fff" stroke="#f00" stroke-width="1.6"/>
<rect x="1069.47" y="1280.87" width="19.80" height="19.80" fill="#fff" stroke="#f00" stroke-width="1.6"/>
<rect x="1086.74" y="1278.24" width="19.80" height="19.80" fill="#fff" stroke="#f00" stroke-width="1.6"/>
<rect x="1104.01" y="1273.73" width="19.80" height="19.80" fill="#fff" stroke="#f00" stroke-width="1.6"/>
<rect x="1121.28" y="1276.36" width="19.80" height="19.80" fill="#fff" stroke="#f00" stroke-width="1.6"/>
<path d="M889.40,1655.30 L929.36,1497.46 L969.31,1399.38 L1009.27,1341.51 L1049.23,1315.58 L1089.18,1303.18 L1129.14,1297.91 L1169.10,1294.53 L1209.05,1292.09 L1249.01,1291.15 L1288.96,1290.77 L1328.92,1290.77 L1368.88,1292.28 L1408.83,1293.18 L1448.79,1294.53" fill="none" stroke="#000" stroke-width="4.4" stroke-linejoin="round" stroke-linecap="round"/>
<circle cx="889.40" cy="1655.30" r="9.9" fill="#fff" stroke="#000" stroke-width="1.7"/>
<circle cx="929.36" cy="1498.97" r="9.9" fill="#fff" stroke="#000" stroke-width="1.7"/>
<circle cx="969.31" cy="1399.76" r="9.9" fill="#fff" stroke="#000" stroke-width="1.7"/>
<circle cx="1009.27" cy="1353.91" r="9.9" fill="#fff" stroke="#000" stroke-width="1.7"/>
<circle cx="1049.23" cy="1327.60" r="9.9" fill="#fff" stroke="#000" stroke-width="1.7"/>
<circle cx="1089.18" cy="1314.45" r="9.9" fill="#fff" stroke="#000" stroke-width="1.7"/>
<circle cx="1129.14" cy="1306.93" r="9.9" fill="#fff" stroke="#000" stroke-width="1.7"/>
<circle cx="1169.10" cy="1302.05" r="9.9" fill="#fff" stroke="#000" stroke-width="1.7"/>
<circle cx="1209.05" cy="1297.54" r="9.9" fill="#fff" stroke="#000" stroke-width="1.7"/>
<circle cx="1249.01" cy="1293.03" r="9.9" fill="#fff" stroke="#000" stroke-width="1.7"/>
<circle cx="1288.96" cy="1289.65" r="9.9" fill="#fff" stroke="#000" stroke-width="1.7"/>
<circle cx="1328.92" cy="1287.77" r="9.9" fill="#fff" stroke="#000" stroke-width="1.7"/>
<circle cx="1368.88" cy="1286.26" r="9.9" fill="#fff" stroke="#000" stroke-width="1.7"/>
<circle cx="1408.83" cy="1282.13" r="9.9" fill="#fff" stroke="#000" stroke-width="1.7"/>
<circle cx="1448.79" cy="1279.88" r="9.9" fill="#fff" stroke="#000" stroke-width="1.7"/>
</svg></body></html>
